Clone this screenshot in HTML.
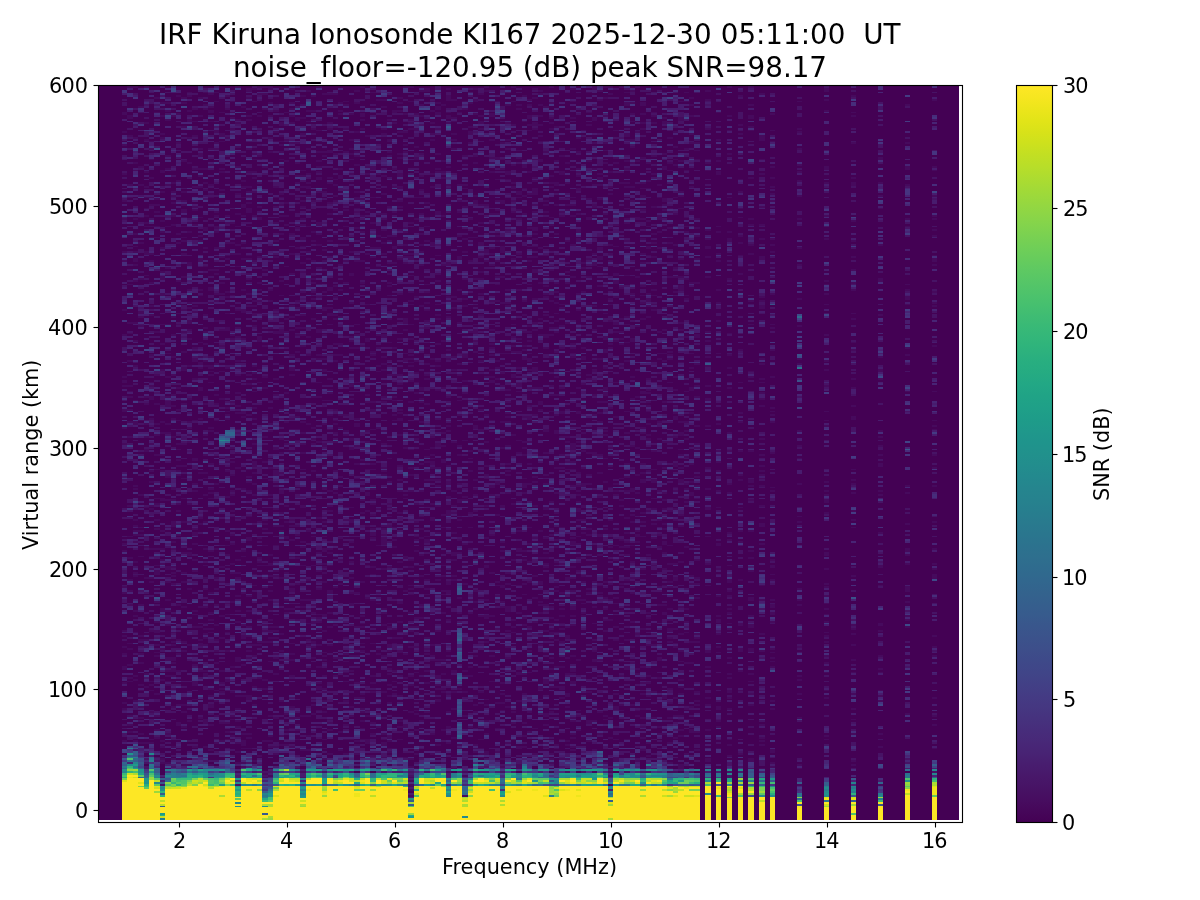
<!DOCTYPE html>
<html lang="en"><head><meta charset="utf-8"><title>IRF Kiruna Ionosonde KI167</title>
<style>html,body{margin:0;padding:0;background:#fff}body{width:1200px;height:900px;overflow:hidden}svg{display:block}text{font-family:"DejaVu Sans","Liberation Sans",sans-serif;fill:#000;white-space:pre}.t{font-size:20.83px}.ti{font-size:27.78px}</style></head><body>
<svg width="1200" height="900" viewBox="0 0 1200 900">
<rect width="1200" height="900" fill="#fff"/>
<defs><linearGradient id="vg" x1="0" y1="1" x2="0" y2="0"><stop offset="0.0000" stop-color="#440154"/><stop offset="0.0156" stop-color="#46075a"/><stop offset="0.0312" stop-color="#470d60"/><stop offset="0.0469" stop-color="#471365"/><stop offset="0.0625" stop-color="#48186a"/><stop offset="0.0781" stop-color="#481d6f"/><stop offset="0.0938" stop-color="#482374"/><stop offset="0.1094" stop-color="#482878"/><stop offset="0.1250" stop-color="#472d7b"/><stop offset="0.1406" stop-color="#46327e"/><stop offset="0.1562" stop-color="#453781"/><stop offset="0.1719" stop-color="#443b84"/><stop offset="0.1875" stop-color="#424086"/><stop offset="0.2031" stop-color="#404588"/><stop offset="0.2188" stop-color="#3e4989"/><stop offset="0.2344" stop-color="#3d4e8a"/><stop offset="0.2500" stop-color="#3b528b"/><stop offset="0.2656" stop-color="#39568c"/><stop offset="0.2812" stop-color="#375b8d"/><stop offset="0.2969" stop-color="#355f8d"/><stop offset="0.3125" stop-color="#33638d"/><stop offset="0.3281" stop-color="#31678e"/><stop offset="0.3438" stop-color="#2f6b8e"/><stop offset="0.3594" stop-color="#2e6f8e"/><stop offset="0.3750" stop-color="#2c728e"/><stop offset="0.3906" stop-color="#2a768e"/><stop offset="0.4062" stop-color="#297a8e"/><stop offset="0.4219" stop-color="#277e8e"/><stop offset="0.4375" stop-color="#26828e"/><stop offset="0.4531" stop-color="#25858e"/><stop offset="0.4688" stop-color="#23898e"/><stop offset="0.4844" stop-color="#228d8d"/><stop offset="0.5000" stop-color="#21918c"/><stop offset="0.5156" stop-color="#1f948c"/><stop offset="0.5312" stop-color="#1f988b"/><stop offset="0.5469" stop-color="#1e9c89"/><stop offset="0.5625" stop-color="#1fa088"/><stop offset="0.5781" stop-color="#20a386"/><stop offset="0.5938" stop-color="#22a785"/><stop offset="0.6094" stop-color="#25ab82"/><stop offset="0.6250" stop-color="#28ae80"/><stop offset="0.6406" stop-color="#2db27d"/><stop offset="0.6562" stop-color="#32b67a"/><stop offset="0.6719" stop-color="#38b977"/><stop offset="0.6875" stop-color="#3fbc73"/><stop offset="0.7031" stop-color="#46c06f"/><stop offset="0.7188" stop-color="#4ec36b"/><stop offset="0.7344" stop-color="#56c667"/><stop offset="0.7500" stop-color="#5ec962"/><stop offset="0.7656" stop-color="#67cc5c"/><stop offset="0.7812" stop-color="#70cf57"/><stop offset="0.7969" stop-color="#7ad151"/><stop offset="0.8125" stop-color="#84d44b"/><stop offset="0.8281" stop-color="#8ed645"/><stop offset="0.8438" stop-color="#98d83e"/><stop offset="0.8594" stop-color="#a2da37"/><stop offset="0.8750" stop-color="#addc30"/><stop offset="0.8906" stop-color="#b8de29"/><stop offset="0.9062" stop-color="#c2df23"/><stop offset="0.9219" stop-color="#cde11d"/><stop offset="0.9375" stop-color="#d8e219"/><stop offset="0.9531" stop-color="#e2e418"/><stop offset="0.9688" stop-color="#ece51b"/><stop offset="0.9844" stop-color="#f6e620"/><stop offset="1.0000" stop-color="#fde725"/></linearGradient>
<clipPath id="cl"><rect x="99" y="86" width="860" height="734"/></clipPath></defs>
<g clip-path="url(#cl)" shape-rendering="crispEdges">
<rect x="99" y="86" width="860" height="734" fill="#440154"/>
<g transform="translate(94.9528 819.2018) scale(5.40000 -1.81227)" fill="none" stroke-width="1">
<path stroke="#460a5d" d="M58 13h1m9 0h1M58 16h1M58 18h1M58 19h1m71 0h1m14 0h1M58 21h1M31 23h1m26 0h1M32 24h1m35 0h1M31 25h1M26 26h1m11 0h1m26 0h1m2 0h1m23 0h1m2 0h1m10 0h2M13 28h1m23 0h1m5 0h1m15 0h1m6 0h1m4 0h1m6 0h1m27 0h1m1 0h1m4 0h1m1 0h1m7 0h1m6 0h1M27 29h1m30 0h1m16 0h1m2 0h1m29 0h1m16 0h1M16 30h2m3 0h1m56 0h1m29 0h1m21 0h1m9 0h1M12 31h2m12 0h2m14 0h1m21 0h1m19 0h1m6 0h1m2 0h1m11 0h1m18 0h1M29 32h1m47 0h1m18 0h1m3 0h1m12 0h1m7 0h1m18 0h1M12 33h1m1 0h1m27 0h1m15 0h1m16 0h1m8 0h1m1 0h2m8 0h1m16 0h1m7 0h1M16 34h1m32 0h1m3 0h1m3 0h1m2 0h1m10 0h1m11 0h1m12 0h1m2 0h1M19 35h1m10 0h1m19 0h2m2 0h1m47 0h1m14 0h1M33 36h1m9 0h1m2 0h1m1 0h1m10 0h1m2 0h1m8 0h2m8 0h1m2 0h1m24 0h1m9 0h1M26 37h1m20 0h1m6 0h1m15 0h1m1 0h1m1 0h1m50 0h1M21 38h1m16 0h2m5 0h1m42 0h1m3 0h1m8 0h1m9 0h1m13 0h1M9 39h1m17 0h2m8 0h1m4 0h1m11 0h2m11 0h1m2 0h2m6 0h1m6 0h1m29 0h1m39 0h1M12 40h1m1 0h1m3 0h1m1 0h1m11 0h2m2 0h1m41 0h2m3 0h1m4 0h1m56 0h1M27 41h1m6 0h2m12 0h1m4 0h1m9 0h1m3 0h1m2 0h1m14 0h1m1 0h1m29 0h1m5 0h1M8 42h3m11 0h1m3 0h2m22 0h1m2 0h1m11 0h1m10 0h1m6 0h1m18 0h1m3 0h1M5 43h1m1 0h1m4 0h1m10 0h1m1 0h1m1 0h1m3 0h2m15 0h1m1 0h1m3 0h1m32 0h1m3 0h1m31 0h1M10 44h1m13 0h1m12 0h1m4 0h1m3 0h2m1 0h2m2 0h1m2 0h1m10 0h1m3 0h1m14 0h1m9 0h1m1 0h1m18 0h1m17 0h1M11 45h1m16 0h1m25 0h1m11 0h1m21 0h1m6 0h1m5 0h1m5 0h1m15 0h1M25 46h1m6 0h1m1 0h1m4 0h1m14 0h1m24 0h1m11 0h1m16 0h1m26 0h1M8 47h1m4 0h1m13 0h2m22 0h1m1 0h1m8 0h1m9 0h1m15 0h1m4 0h1m10 0h2m34 0h1m4 0h1M6 48h1m17 0h1m20 0h1m15 0h1m18 0h1m29 0h2M11 49h1m23 0h1m1 0h1m5 0h1m15 0h1m4 0h1m24 0h1m18 0h1m1 0h1m2 0h1M36 50h1m12 0h1m15 0h1m4 0h1m3 0h2m5 0h1m21 0h1M16 51h1m9 0h1m25 0h1m3 0h2m7 0h1m3 0h1m1 0h1m29 0h1m2 0h1m10 0h1M6 52h1m8 0h1m5 0h1m24 0h1m10 0h1m25 0h1m39 0h1m31 0h1M15 53h1m4 0h1m2 0h2m18 0h1m7 0h1m25 0h1m1 0h1m11 0h1M11 54h1m5 0h1m2 0h1m5 0h1m22 0h1m6 0h1m3 0h1m11 0h1m15 0h1m2 0h2m22 0h1M20 55h1m4 0h1m8 0h1m8 0h1m13 0h1m36 0h1m13 0h3m29 0h1M8 56h1m10 0h1m13 0h1m2 0h2m50 0h1m6 0h1m5 0h1m1 0h1m2 0h1m23 0h1M6 57h1m4 0h1m10 0h1m2 0h1m6 0h1m5 0h2m7 0h1m2 0h1m17 0h1m14 0h1m5 0h1m4 0h1m5 0h1m6 0h2m46 0h1M35 58h1m4 0h1m18 0h1m23 0h1m66 0h1M10 59h1m5 0h1m25 0h1m6 0h1m8 0h1m2 0h1m3 0h1m4 0h1m6 0h1m2 0h1m3 0h1m8 0h1M20 60h1m20 0h1m8 0h1m2 0h1m5 0h1m15 0h1m6 0h1m4 0h1m1 0h1m7 0h1m2 0h1m5 0h1M5 61h1m20 0h1m22 0h1m16 0h1m29 0h1m4 0h1m7 0h1m5 0h1m1 0h1m7 0h1m14 0h1M8 62h1m5 0h1m6 0h1m14 0h1m5 0h1m4 0h1m7 0h1m20 0h1m10 0h1m8 0h1m13 0h1m4 0h1M15 63h2m4 0h1m7 0h1m10 0h1m29 0h1m1 0h1m4 0h1m19 0h1m1 0h1m11 0h1m1 0h1m7 0h1M5 64h1m48 0h1m19 0h2m30 0h1M7 65h1m14 0h1m11 0h1m7 0h1m3 0h1m16 0h1m14 0h1m13 0h1m18 0h1m13 0h1m19 0h1M18 66h1m9 0h1m11 0h1m22 0h1m5 0h1m2 0h1m9 0h1m16 0h1M28 67h1m19 0h2m10 0h1m25 0h1m18 0h1m1 0h1m5 0h1m3 0h1m17 0h1m19 0h1M21 68h1m4 0h3m17 0h1m7 0h1m1 0h1m30 0h1m14 0h1m2 0h1m39 0h1M11 69h1m2 0h1m34 0h1m5 0h1m6 0h1m2 0h1m9 0h1m3 0h1m7 0h1m8 0h1m4 0h1m6 0h1m12 0h1m8 0h1m9 0h1M23 70h1m1 0h1m16 0h1m8 0h1m1 0h1m10 0h1m1 0h1m1 0h1m2 0h1m19 0h1m11 0h1m7 0h1m5 0h1M8 71h1m1 0h1m11 0h1m94 0h1m1 0h1m15 0h1m9 0h1M14 72h1m6 0h1m1 0h1m7 0h1m9 0h2m20 0h2m2 0h1m14 0h1m3 0h1m19 0h1M9 73h1m19 0h1m11 0h1m15 0h1m24 0h1m1 0h3m21 0h1M8 74h1m1 0h1m2 0h1m4 0h1m35 0h1m3 0h1m4 0h1M5 75h1m12 0h1m4 0h1m17 0h1m6 0h1m2 0h1m9 0h1m13 0h1m7 0h1m4 0h1m12 0h2M6 76h1m3 0h1m2 0h2m3 0h1m5 0h2m20 0h1m8 0h1m3 0h1m13 0h1m9 0h2m3 0h1m32 0h1M7 77h1m4 0h1m11 0h1m6 0h1m51 0h1m1 0h1m22 0h1m21 0h1M6 78h1m23 0h1m26 0h1m5 0h1m26 0h1m10 0h1m2 0h1m12 0h1M7 79h1m5 0h2m5 0h1m15 0h1m5 0h1m1 0h1m6 0h1m4 0h1m1 0h1m4 0h1m4 0h2m23 0h1m3 0h1m4 0h1m27 0h1M9 80h1m10 0h1m12 0h1m20 0h1m9 0h1m13 0h2m4 0h1m2 0h2m11 0h1m16 0h1m3 0h1M30 81h1m15 0h1m12 0h1m6 0h1m11 0h1m1 0h1m54 0h1m4 0h1m4 0h1M13 82h3m3 0h2m2 0h1m23 0h1m7 0h1m5 0h1m4 0h1m1 0h1m19 0h1m30 0h1M5 83h1m8 0h1m39 0h1m29 0h1m3 0h1m9 0h1m1 0h1m44 0h1M5 84h1m19 0h1m15 0h1m27 0h1m15 0h2m11 0h1m2 0h1m11 0h1m11 0h1M6 85h1m11 0h1m8 0h1m30 0h1M8 86h1m5 0h1m7 0h1m42 0h1m8 0h1m24 0h1m9 0h2m24 0h1M18 87h1m7 0h1m5 0h2m12 0h1m12 0h1m32 0h1m4 0h1m10 0h1m16 0h1M13 88h2m11 0h1m9 0h1m5 0h1m19 0h3m24 0h1m2 0h2m2 0h1m7 0h1m35 0h1M13 89h2m11 0h1m1 0h1m4 0h1m4 0h1m1 0h1m3 0h2m30 0h1m7 0h1m2 0h1m16 0h1m12 0h1m7 0h1M11 90h1m17 0h1m12 0h1m4 0h2m4 0h1m8 0h1m2 0h1m4 0h1m2 0h1m14 0h1m46 0h1m9 0h1m9 0h1M5 91h1m2 0h1m6 0h1m17 0h1m2 0h1m9 0h1m5 0h1m4 0h1m3 0h1M11 92h1m30 0h1m5 0h1m7 0h1m26 0h1m29 0h1m1 0h1m9 0h1M16 93h1m5 0h1m1 0h1m3 0h1m5 0h1m14 0h1m4 0h1m1 0h1m8 0h1m14 0h1m11 0h1m15 0h1m4 0h1m3 0h1m1 0h1m1 0h1m1 0h1M6 94h1m5 0h1m39 0h1m8 0h1m8 0h1m1 0h1m46 0h1m1 0h1m3 0h1M5 95h1m3 0h1m30 0h1m13 0h1m3 0h2m16 0h1m22 0h1m7 0h1m7 0h1m14 0h1m24 0h1M9 96h1m1 0h1m2 0h1m2 0h1m1 0h2m7 0h3m8 0h1m1 0h1m1 0h1m10 0h1m7 0h1m19 0h1m19 0h2m36 0h1M6 97h1m12 0h1m16 0h1m3 0h1m8 0h1m1 0h1m3 0h1m15 0h1m35 0h1M14 98h1m1 0h1m13 0h3m7 0h1m31 0h1m13 0h1m19 0h1m3 0h2m23 0h1M8 99h2m5 0h1m3 0h1m2 0h1m16 0h1m45 0h1m6 0h1m3 0h1m1 0h1m4 0h1M20 100h1m2 0h1m3 0h1m4 0h2m12 0h1m8 0h2m4 0h1m22 0h1m2 0h1m18 0h1m4 0h1M5 101h1m2 0h1m18 0h2m43 0h1m7 0h1m6 0h1m47 0h1m19 0h1M20 102h1m13 0h1m47 0h1m1 0h1m15 0h1m7 0h1m2 0h1m3 0h1m7 0h1m16 0h1M7 103h1m3 0h1m2 0h1m6 0h1m2 0h1m2 0h1m49 0h1m6 0h3m17 0h1m4 0h1m25 0h1M5 104h1m4 0h2m19 0h3m8 0h1m15 0h1m4 0h1m12 0h1m6 0h1m10 0h1m11 0h1m38 0h1M20 105h2m19 0h1m13 0h1m18 0h1m9 0h1m1 0h1m14 0h1m4 0h2m9 0h1m22 0h1M18 106h2m8 0h1m3 0h2m9 0h1m4 0h2m4 0h1m3 0h2m17 0h1m2 0h1m6 0h1m8 0h1m24 0h1m28 0h1M13 107h1m8 0h1m4 0h1m3 0h1m12 0h1m8 0h1m25 0h1m4 0h1m3 0h1m30 0h1m1 0h1m18 0h1m4 0h1M20 108h1m18 0h2m8 0h1m4 0h1m31 0h1m5 0h1m24 0h1m1 0h1m25 0h1M11 109h1m14 0h1m13 0h2m14 0h1m24 0h1m17 0h1m9 0h1m5 0h1m9 0h1m9 0h1M21 110h1m8 0h1m1 0h1m4 0h1m27 0h1m11 0h1m4 0h1m2 0h1m8 0h2m10 0h1m8 0h1m34 0h1M41 111h1m17 0h2m11 0h1m6 0h1m4 0h1m17 0h1M7 112h1m15 0h1m18 0h1m6 0h1m21 0h3m12 0h1m1 0h1m1 0h1m24 0h1m5 0h1m28 0h1M18 113h1m5 0h1m4 0h1m11 0h2m62 0h1m19 0h1m9 0h1M21 114h1m13 0h1m4 0h1m2 0h1m9 0h1m4 0h1m3 0h1m1 0h1m2 0h1m1 0h1m8 0h1m3 0h1m7 0h1m11 0h1m2 0h1m11 0h1m7 0h1M7 115h1m4 0h2m4 0h1m7 0h1m1 0h1m1 0h1m45 0h1m6 0h1m13 0h1M12 116h1m22 0h2m16 0h1m16 0h1m1 0h1m3 0h1m9 0h1m1 0h1m5 0h1m11 0h1m2 0h1m7 0h1m17 0h1M16 117h1m2 0h2m17 0h1m36 0h2m7 0h1m3 0h1m3 0h1m15 0h1m16 0h1M6 118h1m1 0h1m6 0h1m6 0h1m17 0h1m6 0h1m12 0h1m21 0h2m20 0h2m19 0h1m4 0h1M20 119h1m3 0h1m22 0h1m4 0h1m3 0h1m4 0h1m28 0h1m5 0h1m4 0h1m33 0h1M11 120h1m13 0h1m30 0h1m13 0h1m4 0h1m6 0h1m67 0h1M13 121h1m18 0h1m2 0h1m2 0h3m10 0h1m17 0h1m2 0h1m16 0h2m4 0h1m25 0h1m1 0h1m1 0h1m4 0h1M50 122h1m16 0h1m13 0h1m12 0h1m1 0h1m14 0h1m9 0h1M26 123h1m1 0h1m7 0h1m37 0h1m18 0h1m21 0h1m1 0h1m17 0h1M50 124h1m3 0h1m3 0h1m2 0h1m1 0h2m7 0h1m6 0h1M5 125h1m15 0h1m5 0h1m15 0h1m3 0h2m3 0h1m12 0h1m20 0h1m4 0h1m1 0h1m5 0h1M6 126h1m25 0h1m3 0h1m6 0h1m13 0h1m6 0h2m4 0h1m13 0h2m2 0h1m28 0h1m32 0h1M17 127h1m2 0h1m1 0h1m13 0h1m4 0h1m16 0h1m2 0h1m29 0h1m38 0h1m19 0h1M5 128h1m19 0h1m18 0h1m30 0h1m9 0h1m11 0h1m1 0h1m4 0h1m1 0h1m28 0h1m14 0h1M27 129h1m1 0h1m6 0h1m21 0h1m15 0h2m2 0h1m2 0h1m11 0h1m11 0h1m7 0h1m9 0h1m21 0h1M14 130h1m22 0h1m7 0h1m19 0h1m2 0h1m7 0h1m2 0h1m2 0h1m12 0h1m1 0h1m12 0h2m23 0h1M10 131h1m2 0h1m2 0h1m6 0h1m18 0h1m6 0h1m15 0h1m8 0h1m5 0h1m1 0h1m7 0h1m1 0h1m1 0h1m11 0h1m10 0h1M6 132h1m32 0h1m4 0h1m14 0h1m1 0h1m1 0h1m2 0h1m20 0h1m10 0h1m8 0h1m9 0h1m1 0h1m5 0h1M9 133h2m9 0h1m1 0h1m3 0h1m7 0h1m3 0h1m8 0h1m39 0h2m6 0h1m3 0h2m6 0h1m3 0h1m43 0h1M7 134h1m6 0h1m17 0h2m26 0h1m3 0h1m1 0h1m14 0h1m8 0h1m19 0h1m29 0h1m14 0h1M11 135h1m17 0h1m1 0h1m19 0h1m27 0h1m8 0h1m36 0h1m29 0h1M7 136h1m3 0h1m2 0h1m1 0h1m8 0h2m8 0h1m6 0h1m30 0h1m2 0h1m22 0h1M11 137h1m6 0h1m14 0h1m7 0h1m47 0h1m31 0h1M10 138h1m2 0h1m20 0h1m18 0h1m9 0h1m37 0h1m3 0h1m9 0h1m19 0h1m19 0h1M13 139h2m8 0h1m18 0h1m8 0h1m2 0h1m3 0h1m13 0h1m10 0h1m4 0h1m36 0h1m19 0h1M9 140h1m1 0h1m8 0h1m9 0h4m4 0h1m1 0h1m2 0h1m6 0h1m2 0h1m5 0h1m4 0h1m3 0h1m3 0h1m9 0h1m8 0h1m11 0h1m5 0h1m7 0h1m7 0h1m19 0h1M12 141h1m12 0h1m6 0h1m9 0h1m18 0h1m21 0h1m2 0h1m19 0h2m5 0h1m36 0h1m4 0h1M7 142h1m22 0h1m16 0h1m8 0h1m23 0h1m4 0h1m13 0h1m8 0h1M12 143h1m5 0h1m7 0h1m18 0h1m12 0h1m4 0h1m2 0h1m10 0h1m1 0h1m16 0h1m6 0h1m7 0h1m13 0h1M6 144h1m7 0h1m15 0h1m6 0h1m19 0h1m24 0h2m5 0h1m7 0h1m23 0h1M8 145h1m1 0h1m1 0h1m2 0h1m11 0h1m1 0h1m6 0h1m10 0h1m9 0h1m17 0h1M17 146h1m6 0h1m7 0h1m27 0h1m5 0h1m26 0h1m4 0h1m3 0h1m32 0h1m14 0h1M16 147h2m23 0h1m1 0h1m22 0h2m15 0h1m21 0h1m29 0h1M5 148h1m15 0h1m5 0h1m14 0h1m16 0h1m15 0h1m2 0h2m7 0h1m33 0h1m28 0h1M10 149h3m1 0h1m5 0h1m1 0h1m19 0h2m25 0h1m8 0h1m71 0h1m4 0h1M9 150h1m28 0h1m1 0h1m14 0h1m29 0h1m9 0h1m1 0h2m5 0h1m4 0h1M16 151h1m7 0h1m6 0h1m1 0h1m18 0h1m38 0h1m4 0h1m2 0h1m6 0h1m8 0h1M5 152h1m12 0h1m6 0h1m27 0h1m14 0h1m11 0h1m7 0h2m15 0h1m9 0h1m7 0h1M7 153h1m6 0h1m23 0h1m8 0h1m5 0h1m7 0h1m13 0h1m12 0h1m9 0h1m1 0h1m4 0h1m13 0h1M24 154h1m3 0h1m5 0h1m1 0h1m16 0h1m1 0h1m3 0h1m1 0h1m5 0h1m17 0h1m11 0h1m19 0h1M28 155h1m1 0h1m4 0h1m9 0h1m5 0h1m1 0h1m6 0h1m11 0h1m8 0h1m1 0h1m4 0h1m14 0h1M6 156h1m28 0h1m4 0h1m1 0h1m16 0h1m1 0h1m27 0h1m3 0h1m6 0h2m11 0h1M7 157h2m6 0h1m2 0h1m6 0h1m11 0h1m13 0h1m1 0h1m19 0h1m10 0h1m6 0h1m1 0h1m6 0h1m3 0h1M18 158h1m32 0h1m11 0h1m2 0h1m18 0h1m4 0h1m7 0h1m18 0h1m27 0h1M7 159h2m3 0h1m11 0h1m9 0h1m4 0h1m38 0h1m3 0h1m17 0h1m18 0h1m1 0h1M11 160h1m6 0h1m12 0h1m19 0h1m1 0h1m6 0h1m4 0h1m18 0h1m6 0h1m2 0h1m10 0h1m1 0h1M8 161h1m4 0h1m16 0h1m21 0h1m1 0h2m8 0h1m4 0h1m7 0h1m2 0h1m5 0h1m2 0h1m50 0h1M7 162h1m6 0h1m18 0h2m1 0h2m12 0h1m2 0h2m53 0h1m14 0h1M14 163h1m4 0h1m11 0h1m71 0h1m1 0h1m17 0h1m26 0h1M14 164h1m1 0h1m3 0h1m9 0h1m4 0h1m6 0h1m4 0h1m11 0h1m39 0h1m1 0h1m28 0h1m24 0h1M7 165h1m3 0h1m19 0h1m4 0h1m1 0h1m7 0h2m14 0h1m4 0h1m21 0h2m4 0h1m8 0h1m2 0h1m32 0h1M19 166h1m6 0h1m7 0h1m6 0h1m20 0h1m35 0h1M25 167h1m2 0h1m13 0h1m11 0h1m5 0h1m10 0h1m47 0h1m10 0h1M51 168h1m12 0h2m8 0h1m24 0h1m4 0h1m3 0h1M34 169h1m14 0h1m6 0h1m8 0h2m2 0h1m15 0h1m15 0h1m33 0h1M15 170h1m9 0h1m17 0h1m6 0h1m10 0h1m3 0h1m4 0h1m10 0h1m7 0h1m12 0h1m3 0h1m33 0h1M10 171h1m22 0h1m18 0h1m2 0h1m27 0h1m5 0h1m13 0h1m1 0h1m1 0h1m5 0h1M9 172h1m28 0h1m7 0h2m6 0h1m20 0h1m7 0h1m6 0h1m15 0h1m6 0h1m1 0h1m3 0h1M6 173h1m3 0h1m24 0h1m2 0h1m4 0h1m19 0h1m2 0h1m5 0h1m2 0h1m5 0h1m8 0h1m6 0h1m25 0h1M11 174h1m3 0h1m1 0h1m33 0h1m2 0h1m4 0h1m2 0h1m14 0h1M10 175h1m56 0h1m16 0h1m4 0h1m19 0h1m25 0h1M12 176h3m2 0h1m31 0h1m1 0h1m15 0h2m28 0h1m7 0h1m15 0h1m13 0h1M11 177h2m3 0h1m4 0h1m9 0h1m11 0h1m13 0h1m7 0h1m22 0h1m14 0h2m6 0h1M24 178h1m20 0h1m19 0h1m2 0h1m5 0h1m18 0h1M8 179h1m11 0h1m4 0h1m3 0h1m2 0h1m17 0h1m6 0h1m12 0h1m2 0h1m15 0h1m6 0h1m13 0h1m24 0h1m9 0h1M21 180h1m12 0h1m9 0h1m5 0h1m25 0h1m2 0h1m5 0h1m14 0h1m1 0h1m2 0h1m4 0h1m6 0h1m22 0h1m9 0h1M18 181h1m6 0h1m2 0h1m5 0h1m8 0h1m12 0h1m1 0h1m1 0h1m5 0h1m20 0h1m1 0h1m6 0h1m1 0h2m4 0h1m2 0h1m7 0h1m9 0h1m9 0h1m9 0h1M7 182h1m6 0h1m6 0h1m5 0h1m14 0h1m8 0h1m18 0h1m13 0h1m14 0h1m9 0h1m3 0h1M14 183h1m27 0h1m30 0h1m4 0h2m15 0h1m11 0h1m17 0h1M7 184h1m37 0h1m17 0h1m9 0h1m5 0h1m8 0h3m20 0h1m9 0h1m1 0h1m26 0h1m4 0h1M18 185h1m3 0h1m6 0h1m35 0h1m1 0h1m6 0h1m4 0h2m2 0h1m6 0h2m4 0h1m12 0h1m7 0h1m12 0h1m9 0h1M10 186h1m17 0h1m19 0h1m5 0h1m10 0h1m8 0h1m6 0h1m12 0h1m6 0h1m1 0h1m4 0h1m1 0h1m10 0h1m13 0h1M32 187h1m23 0h1m4 0h3m6 0h1m30 0h1m1 0h1m4 0h1m10 0h1m1 0h1m18 0h1M16 188h1m3 0h1m10 0h1m3 0h1m2 0h1m9 0h1m23 0h2m5 0h1m17 0h1m4 0h1m20 0h1M13 189h1m14 0h1m16 0h1m4 0h1m30 0h1m16 0h1m12 0h1M15 190h1m9 0h1m7 0h1m4 0h1m14 0h1m4 0h1m13 0h1m3 0h1m6 0h1m7 0h1m8 0h1m18 0h1m3 0h1M19 191h2m8 0h1m3 0h2m30 0h1m23 0h1m3 0h1m7 0h1M10 192h1m1 0h1m2 0h1m8 0h1m8 0h1m6 0h1m3 0h1m8 0h1m15 0h1m6 0h1m25 0h1m12 0h1m7 0h1M11 193h1m6 0h1m9 0h1m9 0h1m3 0h1m4 0h1m2 0h2m35 0h2m10 0h1m3 0h1m36 0h1M26 194h1m5 0h1m2 0h1m17 0h1m4 0h1m3 0h2m21 0h2m3 0h1m14 0h1m2 0h1m4 0h1m41 0h1M15 195h2m12 0h1m12 0h1m13 0h1m8 0h1m6 0h1m2 0h1m19 0h1m11 0h1m15 0h1m21 0h1M21 196h1m7 0h1m18 0h1m2 0h1m8 0h1m1 0h1m13 0h1m3 0h1m17 0h1m2 0h1m5 0h1m2 0h1m34 0h1M24 197h2m3 0h1m1 0h1m29 0h2m1 0h1m22 0h2m26 0h1M15 198h1m2 0h1m30 0h1m9 0h1m4 0h1M18 199h1m28 0h1m6 0h1m7 0h1m6 0h1m12 0h1m5 0h1m3 0h1m1 0h1m13 0h1m21 0h1M24 200h1m36 0h1m25 0h1m21 0h1M11 201h2m7 0h1m8 0h1m32 0h1m4 0h1m11 0h1m6 0h1m5 0h2m14 0h1m14 0h1m21 0h1m9 0h1M26 202h1m7 0h1m3 0h1m39 0h1m2 0h1m1 0h1m4 0h1m2 0h2m3 0h1m28 0h1M9 203h1m59 0h1m4 0h1m15 0h1m12 0h1m11 0h1m1 0h1m1 0h1m1 0h1M9 204h1m5 0h1m6 0h1m10 0h1m1 0h1m11 0h1m10 0h1m2 0h1m26 0h1m19 0h1M25 205h1m7 0h1m13 0h1m9 0h1m4 0h1m12 0h1m3 0h1m8 0h1m6 0h1m4 0h1m10 0h1M42 206h1m5 0h1m14 0h2m2 0h1m8 0h1m11 0h1m10 0h1m30 0h1m14 0h1M5 207h1m4 0h1m4 0h2m12 0h1m5 0h1m2 0h1m1 0h1m1 0h1m10 0h1m9 0h1m24 0h1m22 0h1M17 208h1m23 0h1m2 0h1m5 0h1m15 0h1m5 0h1m6 0h2m6 0h1m1 0h1m15 0h2M37 209h1m9 0h1m11 0h1m8 0h1m9 0h1m13 0h1m9 0h1M18 210h1m15 0h1m5 0h1m6 0h1m11 0h1m42 0h1m1 0h1m4 0h1m13 0h1M6 211h1m2 0h1m4 0h1m16 0h1m30 0h1m23 0h2m18 0h2m37 0h1M11 212h1m5 0h1m2 0h1m13 0h1m11 0h1m9 0h1m20 0h1m14 0h1m1 0h1m7 0h1m5 0h1M12 213h2m24 0h1m5 0h1m19 0h1m20 0h1m4 0h1m7 0h1m2 0h1m6 0h1m8 0h1M21 214h1m10 0h1m13 0h1m3 0h1m2 0h1m11 0h1m5 0h1m11 0h1m1 0h1m8 0h1m14 0h1m20 0h1m14 0h1M15 215h1m10 0h1m9 0h2m5 0h1m7 0h1m19 0h1m11 0h1m71 0h1M5 216h1m11 0h1m3 0h1m18 0h1m4 0h1m6 0h1m9 0h1m7 0h1m30 0h1M48 217h1m16 0h1m4 0h1m40 0h1m1 0h1m21 0h1m19 0h1M7 218h1m1 0h1m1 0h1m1 0h1m18 0h1m6 0h1m2 0h1m1 0h1m3 0h1m53 0h1m12 0h1M6 219h2m4 0h1m4 0h1m17 0h1m2 0h1m21 0h1m14 0h2m16 0h1m6 0h1m3 0h1m3 0h2m9 0h1m5 0h1M8 220h1m6 0h1m2 0h1m3 0h1m8 0h1m12 0h1m10 0h2m2 0h1m10 0h2m1 0h1m14 0h1m9 0h1m6 0h1m29 0h1m19 0h1M10 221h1m3 0h1m4 0h1m4 0h1m4 0h1m6 0h1m11 0h1m7 0h1m6 0h1m16 0h1m21 0h1m4 0h1m32 0h1M27 222h1m9 0h1m38 0h1m2 0h2m15 0h1m10 0h1m3 0h1m28 0h1M24 223h1m3 0h1m14 0h1m1 0h2m8 0h1m11 0h1m4 0h1m8 0h1m3 0h1m6 0h1m32 0h1M26 224h2m28 0h1m19 0h1m9 0h1m2 0h1m3 0h1m13 0h1m2 0h1m8 0h1M5 225h1m18 0h1m2 0h1m23 0h2m5 0h1m25 0h1m1 0h1m2 0h1m8 0h1m3 0h1m22 0h1m9 0h1M5 226h2m8 0h1m28 0h1m6 0h1m4 0h1m14 0h1m10 0h1M24 227h1m4 0h1m2 0h1m2 0h1m16 0h1m42 0h1m11 0h1m17 0h1M13 228h2m11 0h1m8 0h1m29 0h1m14 0h1m21 0h1m20 0h1m16 0h1M9 229h1m1 0h1m1 0h1m2 0h1m3 0h1m1 0h1m38 0h1m20 0h1M13 230h1m11 0h1m24 0h2m1 0h1m4 0h1m1 0h1m15 0h1m5 0h1m10 0h2m7 0h1m2 0h1M7 231h1m24 0h1m9 0h2m11 0h1m11 0h1m1 0h1m19 0h1m23 0h1M10 232h1m6 0h1m5 0h1m3 0h1m5 0h1m13 0h1m12 0h1m38 0h1m1 0h1m11 0h1m9 0h1M6 233h1m2 0h2m2 0h1m26 0h2m11 0h1m1 0h1m9 0h1m34 0h1m10 0h1M14 234h1m7 0h1m10 0h1m16 0h1m33 0h2m6 0h1m1 0h1M26 235h1m8 0h1m7 0h1m15 0h1m8 0h1m25 0h1m6 0h2m20 0h1M6 236h1m22 0h1m28 0h1m19 0h1m22 0h1m7 0h1m40 0h1m4 0h1M19 237h1m23 0h1m8 0h1m7 0h1m2 0h1m12 0h1m17 0h1m7 0h1m4 0h1m2 0h1M15 238h1m3 0h1m11 0h1m28 0h1m3 0h1m15 0h3m3 0h1m2 0h1m4 0h1m15 0h1m6 0h1m22 0h1M5 239h2m3 0h1m36 0h1m20 0h1m6 0h1m2 0h1m5 0h1m26 0h1m1 0h1m21 0h1M28 240h1m18 0h1m8 0h1m21 0h1m11 0h1M5 241h1m4 0h1m10 0h1m8 0h1m9 0h2m6 0h1m8 0h1m1 0h1m13 0h1m5 0h1m7 0h1m8 0h1m9 0h1m12 0h1m3 0h1M5 242h1m52 0h1m9 0h1m4 0h1m18 0h1M18 243h1m10 0h1m3 0h1m9 0h1m2 0h1m14 0h1m12 0h1m16 0h1m10 0h1m20 0h1m16 0h1m4 0h1M5 244h1m7 0h1m17 0h1m18 0h1m21 0h2m3 0h1m2 0h1m4 0h1m7 0h1m5 0h1m7 0h1m13 0h1m3 0h1M11 245h1m2 0h1m6 0h1m4 0h1m1 0h1m7 0h1m17 0h3m4 0h1m5 0h1m9 0h1m11 0h1m1 0h1M29 246h1m10 0h1m18 0h1m15 0h1m6 0h1M15 247h1m5 0h1m1 0h1m18 0h1m6 0h1m2 0h1m21 0h1m6 0h1m3 0h1m6 0h1m28 0h1m23 0h1M12 248h1m3 0h1m8 0h1m4 0h1m5 0h1m5 0h1m2 0h1m4 0h1m2 0h1m12 0h1m6 0h1m6 0h2m10 0h1m42 0h1m9 0h1M16 249h1m2 0h1m1 0h1m2 0h1m1 0h1m9 0h1m37 0h1m3 0h1m2 0h1m12 0h1m15 0h1m6 0h1M7 250h1m9 0h1m2 0h2m7 0h1m4 0h1m17 0h1m1 0h1m3 0h1m4 0h1m33 0h1m15 0h1M19 251h1m2 0h1m30 0h1m7 0h1m5 0h1m43 0h1m11 0h1m6 0h1M13 252h1m5 0h1m23 0h1m14 0h1m49 0h1M6 253h1m11 0h1m1 0h1m5 0h1m13 0h1m3 0h1m12 0h1m1 0h1m3 0h1m7 0h1m2 0h1m5 0h1m17 0h1m6 0h1m29 0h1M18 254h1m22 0h2m14 0h2m3 0h1m2 0h1m13 0h2m9 0h1m2 0h1m10 0h1m1 0h1m16 0h1m6 0h1M14 255h1m4 0h1m1 0h1m31 0h1m12 0h1m1 0h1m10 0h1m4 0h1m3 0h1m1 0h1m22 0h1m31 0h1M10 256h1m25 0h1m2 0h1m1 0h1m2 0h2m5 0h1m6 0h1m9 0h1m4 0h1m32 0h1m10 0h1m32 0h1M13 257h1m43 0h1m1 0h1m5 0h1m1 0h1m7 0h2m3 0h1m7 0h1m11 0h1m3 0h2m4 0h1m4 0h1M16 258h1m20 0h1m13 0h1m18 0h1m6 0h2m6 0h1m8 0h1m11 0h1M65 259h1m13 0h1m14 0h1m24 0h1m5 0h1m14 0h1M18 260h1m9 0h1m18 0h2m3 0h1m2 0h1m5 0h1m11 0h1m9 0h1m2 0h1m1 0h1m1 0h1m4 0h1m54 0h1M23 261h1m7 0h1m6 0h1m10 0h1m19 0h1m7 0h1m1 0h1m75 0h1M12 262h1m7 0h1m23 0h2m17 0h1m9 0h1m14 0h1m6 0h1m1 0h1M13 263h1m5 0h1m11 0h1m3 0h1m5 0h1m12 0h1m14 0h1m5 0h1m22 0h1m41 0h1M7 264h1m22 0h1m16 0h1m2 0h1m13 0h1m5 0h1m3 0h1m5 0h1m15 0h1m2 0h1m13 0h1M17 265h1m7 0h1m1 0h1m2 0h1m19 0h1m5 0h1m1 0h1m19 0h1m15 0h1m2 0h1m1 0h1M26 266h1m3 0h1m8 0h1m7 0h1m5 0h1m23 0h1m5 0h1m10 0h1m14 0h1m1 0h1M5 267h1m8 0h1m10 0h1m11 0h2m3 0h1m5 0h1m3 0h2m18 0h1m9 0h3m26 0h1m23 0h1M6 268h1m19 0h1m6 0h2m33 0h1m1 0h1m6 0h1m17 0h1m21 0h1M11 269h1m4 0h1m3 0h1m12 0h3m5 0h1m27 0h2m8 0h2m4 0h1m10 0h2m6 0h1m8 0h1M17 270h1m5 0h2m9 0h1m1 0h1m4 0h1m15 0h1m12 0h1m2 0h1m7 0h1m10 0h1m12 0h1m2 0h1M20 271h1m3 0h1m1 0h1m5 0h1m4 0h2m22 0h1m22 0h2m39 0h1M8 272h1m20 0h1m35 0h1m14 0h1m5 0h1m13 0h1m29 0h1M11 273h3m1 0h1m23 0h1m3 0h1m4 0h1m6 0h1m2 0h1m11 0h1m6 0h1m11 0h1m6 0h1m1 0h1m22 0h1m3 0h1M6 274h2m9 0h1m39 0h1m4 0h1m4 0h1m13 0h1m5 0h1m8 0h1m11 0h1M17 275h1m4 0h1m34 0h1m3 0h1m23 0h1m9 0h1m19 0h1M30 276h1m4 0h1m4 0h1m3 0h1m9 0h1m2 0h1m5 0h1m5 0h1m7 0h1m2 0h1m1 0h1m14 0h1m3 0h1m38 0h1M8 277h1m5 0h1m21 0h1m8 0h1m19 0h1m32 0h1m3 0h1m3 0h1M10 278h1m9 0h1m8 0h1m1 0h1m6 0h1m4 0h2m18 0h1m7 0h1m7 0h1m3 0h1m61 0h1M8 279h1m6 0h1m8 0h1m4 0h2m2 0h1m9 0h1m6 0h1m34 0h1m8 0h1m4 0h1m1 0h1m38 0h1M8 280h1m9 0h1m8 0h1m26 0h1M5 281h1m10 0h1m9 0h2m5 0h1m8 0h1m18 0h1m5 0h1m21 0h1m13 0h1M17 282h1m19 0h1m4 0h2m22 0h1m10 0h1m8 0h1m36 0h1M10 283h1m7 0h1m9 0h2m6 0h1m23 0h1m7 0h1m7 0h1m15 0h1m9 0h1m20 0h1m31 0h1M33 284h1m16 0h1m7 0h1m4 0h1m8 0h1m13 0h2m7 0h1m7 0h1m31 0h1m14 0h1M17 285h1m3 0h1m25 0h1m13 0h1m13 0h2m8 0h1m15 0h1m13 0h1m39 0h1M22 286h1m6 0h2m1 0h1m4 0h1m20 0h1m6 0h3m5 0h2m4 0h1m4 0h1m17 0h1m18 0h1m1 0h1M16 287h1m23 0h1m8 0h1m18 0h1m12 0h1m13 0h1m6 0h1m6 0h1m20 0h1m19 0h1M14 288h1m9 0h1m16 0h1m2 0h1m14 0h1m5 0h2m9 0h1m6 0h1m12 0h1m2 0h1m23 0h1m26 0h1M10 289h1m1 0h1m6 0h1m5 0h1m8 0h1m2 0h1m16 0h1m46 0h1m1 0h1m5 0h1M12 290h1m9 0h2m4 0h1m27 0h1m14 0h1m11 0h1m5 0h1m9 0h1m2 0h1m22 0h1m9 0h1M24 291h1m13 0h1m1 0h1m1 0h1m15 0h1m2 0h1m23 0h1m4 0h1m16 0h1m47 0h1M17 292h1m1 0h1m1 0h1m5 0h1m2 0h1m1 0h1m10 0h1m1 0h1m21 0h1m8 0h1m1 0h1m24 0h1m4 0h1m6 0h1m24 0h1m9 0h1M21 293h1m21 0h1m53 0h1m10 0h1M39 294h1m4 0h1m9 0h1m28 0h1m9 0h1m7 0h1m6 0h1M6 295h1m4 0h1m49 0h1m12 0h1m5 0h1m13 0h1m35 0h1m4 0h1m14 0h1M10 296h1m12 0h1m6 0h1m9 0h1m5 0h1m2 0h1m4 0h1m14 0h1m12 0h1m2 0h1m1 0h1m8 0h1m13 0h2m28 0h1M7 297h1m7 0h1m18 0h1m28 0h1m32 0h1m38 0h1m9 0h1M8 298h1m3 0h1m15 0h1m11 0h1m27 0h1m1 0h2m5 0h1m7 0h1m23 0h1m7 0h1m27 0h1M12 299h1m3 0h1m57 0h2m12 0h1m2 0h1m8 0h1m5 0h3m4 0h1M9 300h1m30 0h1m6 0h1m10 0h1m37 0h1m1 0h1M22 301h1m5 0h1m7 0h1m10 0h1m6 0h1m8 0h1m19 0h1m12 0h1m22 0h1M12 302h1m25 0h1m32 0h1m9 0h1m5 0h1M21 303h2m2 0h1m5 0h1m49 0h1m2 0h1m55 0h1M13 304h1m27 0h1m48 0h1m16 0h1M20 305h1m5 0h1m8 0h1m16 0h1m1 0h1m19 0h1m9 0h1m8 0h1m11 0h1m2 0h1m10 0h1M7 306h1m9 0h1m27 0h1m14 0h1m3 0h2m7 0h1m18 0h1m37 0h1m24 0h1M17 307h1m20 0h1m15 0h2m1 0h1m7 0h1m24 0h1m1 0h1m8 0h1m9 0h1M5 308h1m1 0h1m2 0h1m8 0h1m9 0h1m10 0h1m1 0h1m3 0h1m1 0h2m19 0h1m2 0h1m1 0h1m5 0h1m5 0h1m8 0h1m19 0h1m39 0h1M7 309h1m11 0h1m4 0h1m2 0h2m10 0h1m16 0h1m1 0h1m8 0h1m9 0h1m6 0h1m6 0h1m1 0h1m14 0h1m2 0h1m11 0h1m31 0h1M23 310h1m6 0h1m2 0h1m9 0h1m4 0h1m2 0h1m5 0h2m8 0h1m3 0h1m8 0h2m11 0h1m9 0h1m9 0h1m9 0h1m16 0h1M24 311h1m3 0h1m9 0h1m24 0h1m18 0h2m3 0h1m14 0h1m3 0h1m2 0h2m8 0h1m35 0h1M9 312h2m5 0h1m8 0h2m9 0h1m13 0h1m2 0h1m3 0h2m14 0h1m4 0h1m13 0h1m2 0h1m5 0h1m13 0h1m5 0h1M5 313h1m1 0h1m1 0h1m29 0h1m7 0h1m12 0h1m7 0h1m2 0h2m2 0h1m49 0h1M42 314h1m29 0h1m2 0h1m17 0h1M12 315h1m1 0h1m5 0h1m1 0h2m13 0h1m13 0h2m2 0h1m17 0h1m1 0h1m6 0h1m10 0h1m4 0h1m3 0h1m1 0h1m8 0h1m16 0h1M7 316h1m30 0h1m16 0h1m19 0h1m4 0h2m14 0h1m5 0h1m10 0h1m1 0h1M26 317h1m14 0h1m15 0h1m2 0h1m1 0h1m8 0h1m16 0h1m6 0h1m11 0h1m13 0h1m3 0h1m19 0h1M8 318h1m6 0h1m8 0h2m1 0h1m25 0h1m8 0h1m6 0h1m1 0h1m31 0h1m2 0h1m12 0h1M16 319h1m2 0h1m13 0h1m6 0h1m2 0h1m10 0h1m6 0h1m12 0h1m12 0h1m1 0h1m8 0h1m18 0h1m22 0h1M38 320h1m10 0h1m18 0h1m12 0h1m7 0h1m11 0h1m11 0h1m3 0h1m5 0h1m1 0h1m9 0h1M10 321h2m4 0h1m21 0h1m18 0h1m11 0h2m13 0h1m11 0h1M19 322h1m32 0h1m1 0h2m11 0h1m6 0h1m4 0h1m14 0h1m16 0h1m7 0h1m35 0h1M7 323h1m7 0h1m18 0h1m1 0h1m4 0h1m2 0h1m15 0h1m20 0h1m3 0h1m17 0h1M12 324h1m4 0h1m4 0h1m17 0h1m8 0h1m7 0h1m31 0h1m14 0h1m4 0h1m5 0h1m1 0h1M20 325h1m32 0h1m2 0h1m19 0h1m4 0h1m7 0h1m23 0h1m41 0h1M20 326h1m1 0h1m14 0h1m10 0h1m8 0h1m22 0h2m13 0h1m10 0h1m4 0h1M9 327h3m1 0h1m2 0h1m4 0h2m3 0h1m1 0h1m10 0h1m2 0h1m3 0h1m14 0h1m40 0h1m6 0h1m5 0h1m34 0h1M14 328h1m3 0h1m16 0h1m1 0h2m2 0h1m42 0h1m11 0h1m24 0h1m1 0h1M9 329h1m7 0h1m6 0h2m7 0h1m7 0h1m9 0h1m6 0h1m12 0h1m26 0h1M12 330h1m35 0h1m53 0h1m37 0h1M5 331h1m1 0h1m22 0h1m7 0h1m9 0h1m4 0h1m5 0h1m9 0h1m8 0h1m12 0h1m6 0h1m1 0h2m2 0h1m6 0h1m9 0h1m8 0h1m19 0h1m4 0h1M8 332h1m7 0h1m2 0h1m10 0h1m45 0h1m7 0h1m6 0h1m7 0h2m3 0h1m4 0h1m9 0h1M9 333h1m4 0h1m7 0h1m1 0h1m2 0h1m1 0h1m4 0h2m13 0h1m14 0h1m21 0h1m1 0h1m15 0h1m30 0h1m19 0h1M26 334h1m16 0h1m8 0h2m6 0h1m2 0h1m9 0h2m4 0h1m9 0h1m4 0h1m3 0h1m8 0h1M11 335h1m4 0h1m5 0h1m5 0h1m19 0h1m1 0h1m4 0h1m7 0h1m3 0h1m9 0h1m3 0h1m1 0h1m2 0h1m19 0h1M16 336h1m1 0h1m9 0h1m15 0h1m1 0h1m27 0h1m3 0h1m8 0h1m13 0h1m3 0h1m4 0h1M9 337h1m18 0h1m19 0h1m12 0h1m36 0h1m7 0h1m1 0h1m10 0h1m25 0h1M18 338h1m8 0h1m2 0h1m2 0h1m4 0h1m15 0h1m1 0h1m11 0h1m8 0h1m14 0h1m10 0h1m19 0h1M10 339h2m4 0h1m10 0h1m6 0h1m11 0h1m2 0h1m21 0h2m8 0h1m1 0h1m1 0h1m1 0h2m3 0h1m12 0h1M14 340h1m13 0h1m6 0h1m7 0h1m17 0h1m8 0h1m4 0h1m25 0h1M5 341h1m10 0h1m21 0h1m1 0h1m3 0h1m11 0h1m10 0h1m2 0h1m3 0h2m1 0h1m5 0h1m15 0h1m5 0h1m19 0h1M11 342h1m36 0h2m41 0h1m1 0h1m11 0h1M6 343h1m2 0h2m10 0h1m5 0h1m5 0h2m2 0h1m10 0h1m2 0h1m7 0h2m17 0h1m8 0h2m1 0h1m10 0h1m2 0h1m2 0h1m9 0h1M14 344h1m13 0h1m10 0h1m4 0h1m25 0h1m8 0h1m21 0h1m6 0h1m21 0h1m14 0h1m9 0h1M21 345h1m4 0h1m7 0h1m18 0h1m24 0h1m1 0h2m13 0h1m29 0h1M12 346h1m1 0h1m1 0h1m11 0h2m11 0h2m5 0h1m29 0h1m2 0h1m26 0h1m10 0h1M20 347h1m2 0h1m36 0h1m13 0h1m6 0h1m7 0h1M39 348h1m16 0h1m8 0h1m2 0h1m8 0h1m1 0h1m1 0h1m7 0h1m11 0h2M9 349h1m8 0h2m7 0h2m4 0h1m4 0h2m15 0h2m5 0h1m14 0h1m6 0h1m10 0h1m2 0h2m10 0h1m14 0h1M6 350h1m1 0h1m4 0h1m7 0h1m22 0h1m20 0h1m1 0h2m16 0h1m6 0h2m10 0h1m35 0h1m9 0h1M14 351h1m5 0h1m9 0h1m6 0h1m1 0h1m3 0h1m33 0h1m6 0h2m1 0h1m9 0h2m2 0h1m33 0h1m4 0h1m4 0h1M15 352h1m11 0h1m53 0h1m20 0h1m27 0h1M33 353h2m6 0h1m2 0h1m11 0h1m17 0h1m1 0h1m16 0h1m25 0h1M10 354h1m18 0h1m11 0h1m1 0h1m1 0h1m18 0h1m16 0h1m1 0h1m9 0h1m27 0h1m3 0h1m14 0h1M19 355h1m15 0h1m1 0h2m6 0h1m7 0h1m2 0h1m3 0h1m23 0h1m4 0h1M5 356h1m27 0h1m5 0h1m7 0h1m2 0h1m1 0h1m3 0h1m5 0h1m13 0h1m9 0h1m6 0h1m9 0h1m11 0h1m7 0h1M9 357h1m2 0h1m10 0h1m4 0h2m11 0h1m21 0h2m8 0h1m2 0h1m3 0h1m5 0h1m2 0h1m5 0h1m19 0h1m14 0h1M7 358h1m4 0h1m25 0h1m67 0h1m2 0h1m3 0h1m41 0h1M13 359h1m4 0h3m2 0h1m21 0h1m5 0h1m3 0h1m7 0h1m11 0h1m13 0h1m2 0h1m5 0h1m6 0h1m29 0h1m14 0h1M8 360h1m17 0h1m4 0h1m9 0h1m8 0h2m13 0h1m13 0h1m25 0h1m19 0h1m9 0h1m14 0h1m4 0h1M21 361h1m26 0h1m28 0h1m1 0h1m27 0h1m22 0h1M7 362h1m9 0h1m19 0h1m32 0h1m2 0h1m13 0h1m6 0h1m1 0h1m2 0h1m2 0h1m3 0h1m6 0h1M16 363h1m18 0h1m5 0h1m22 0h1m17 0h1m2 0h1m5 0h1m6 0h1m1 0h1m7 0h1m6 0h1M10 364h1m2 0h1m15 0h2m3 0h1m12 0h1m11 0h1m8 0h1m5 0h2m5 0h2m24 0h1m3 0h1m1 0h1m9 0h1m21 0h1M56 365h1m2 0h1m13 0h2m3 0h1m17 0h1m4 0h1m43 0h1M13 366h1m5 0h1m4 0h1m5 0h1m11 0h1m5 0h1m5 0h1m13 0h1m1 0h1m15 0h1m16 0h1M19 367h1m9 0h1m14 0h1m2 0h1m8 0h1m3 0h1m2 0h1m20 0h1m20 0h1m11 0h1M32 368h1m1 0h1m6 0h3m2 0h1m1 0h1m5 0h1m2 0h1m25 0h1m5 0h1M12 369h1m23 0h2m5 0h1m34 0h1m15 0h1m16 0h1M10 370h1m8 0h1m1 0h2m5 0h1m10 0h1m7 0h1m18 0h1m9 0h1m11 0h1m20 0h1m20 0h1M26 371h1m32 0h1m39 0h1m7 0h1M5 372h1m28 0h1m22 0h1M15 373h1m6 0h1m13 0h2m10 0h1m20 0h1m5 0h1m16 0h1m1 0h1m15 0h2m28 0h1m9 0h1M10 374h1m12 0h1m9 0h2m6 0h1m12 0h1m27 0h1m42 0h1m19 0h1M9 375h1m25 0h1m11 0h1m6 0h1m7 0h1m3 0h1m6 0h1m2 0h1m21 0h2m15 0h1m7 0h1M7 376h1m4 0h1m4 0h1m6 0h1m7 0h1m56 0h1m16 0h1m16 0h1M6 377h1m11 0h1m4 0h1m10 0h1m15 0h1m31 0h1m15 0h1m24 0h1M12 378h1m10 0h1m14 0h1m14 0h1m8 0h1m3 0h1m2 0h1m28 0h1m11 0h1m8 0h1M5 379h1m16 0h1m10 0h1m14 0h1m7 0h2m11 0h1m30 0h1m6 0h1m22 0h1M22 380h1m7 0h1m3 0h1m6 0h1m17 0h1m20 0h1m9 0h1m5 0h1m20 0h1m3 0h1m3 0h1M25 381h1m14 0h1m2 0h1m2 0h1m2 0h1m3 0h1m4 0h2m3 0h1m7 0h1m9 0h1m2 0h1m16 0h1m11 0h1m16 0h1M16 382h1m27 0h1m24 0h1m15 0h1m35 0h1M34 383h1m42 0h1m2 0h3m8 0h1m27 0h1M9 384h1m16 0h1m7 0h1m1 0h1m6 0h1m11 0h1m2 0h1m3 0h1m2 0h1m5 0h1m4 0h1m4 0h1m2 0h1m16 0h1m1 0h1m1 0h1M17 385h2m2 0h1m17 0h1m19 0h1m6 0h1m4 0h1m7 0h1m19 0h1m5 0h1M13 386h1m3 0h1m8 0h1m1 0h1m8 0h1m11 0h1m4 0h1m3 0h1m13 0h1m19 0h1m15 0h1M6 387h1m18 0h1m11 0h2m26 0h2m13 0h1m3 0h1m3 0h1m3 0h1m12 0h1m2 0h1m12 0h1M6 388h1m5 0h1m1 0h1m4 0h1m8 0h1m1 0h1m1 0h1m3 0h1m12 0h1m10 0h1m4 0h1m5 0h1m1 0h1m6 0h1m1 0h1m11 0h1m8 0h1m6 0h1m6 0h1m3 0h1m18 0h1M5 389h1m9 0h1m29 0h1m1 0h1m1 0h1m7 0h1m1 0h1m3 0h1m6 0h1m2 0h1m25 0h1m1 0h1m23 0h1M5 390h1m5 0h1m9 0h1m1 0h1m1 0h1m9 0h1m19 0h1m7 0h1m1 0h1m1 0h1m16 0h1m6 0h1m11 0h1m11 0h1m24 0h1M13 391h1m3 0h1m3 0h1m11 0h1m5 0h2m4 0h1m9 0h2m5 0h1m72 0h1M18 392h1m1 0h1m3 0h1m6 0h1m4 0h1m26 0h1m4 0h1m9 0h1M8 393h1m12 0h1m5 0h1m25 0h1m9 0h1m19 0h1m8 0h1M20 394h1m17 0h1m7 0h1m13 0h1m3 0h1m11 0h1m1 0h1m1 0h1m1 0h1m15 0h1m2 0h1m8 0h1m10 0h1m28 0h1M12 395h2m2 0h1m15 0h1m3 0h1m8 0h1m2 0h1m7 0h1m6 0h1m5 0h1m14 0h1m13 0h2m1 0h1M22 396h1m2 0h1m3 0h1m16 0h1m11 0h1m3 0h1m5 0h1m1 0h1m2 0h2m2 0h1m10 0h1m19 0h2m20 0h1M52 397h2m11 0h2m3 0h1m9 0h1m12 0h1m19 0h1m21 0h1m19 0h1M11 398h1m4 0h1m2 0h1m8 0h1m27 0h1m8 0h1m15 0h1m12 0h1m15 0h1M15 399h1m1 0h1m6 0h1m13 0h1m1 0h1m24 0h1m13 0h1m39 0h1m20 0h1M21 400h1m8 0h2m10 0h3m26 0h1m10 0h1m12 0h1m27 0h1M17 401h1m2 0h1m1 0h1m28 0h1m11 0h1m27 0h1m6 0h1m10 0h1M28 402h1m10 0h1m8 0h1m11 0h2m10 0h1m9 0h1m10 0h1m5 0h1m13 0h1m21 0h1M28 403h2m2 0h1m3 0h1m24 0h1m3 0h1m4 0h1m10 0h1m6 0h1m3 0h1m42 0h1M6 404h2m1 0h1m16 0h1m3 0h3m8 0h1m7 0h1m7 0h2m13 0h1m4 0h1m6 0h1m7 0h1m1 0h2m1 0h1m2 0h1m16 0h1m3 0h1M8 405h1m1 0h1m7 0h1m5 0h1m11 0h1m16 0h3m3 0h2m4 0h1m18 0h1m13 0h1m10 0h1m25 0h1"/>
<path stroke="#471365" d="M12 19h1m13 0h1M12 23h1m25 0h1m78 0h1M31 24h1m26 0h1m36 0h1m21 0h1M31 26h2m9 0h1m10 0h1m4 0h1m2 0h1m13 0h1m11 0h1m2 0h1m7 0h1m2 0h2m7 0h1m6 0h1m37 0h1M9 28h1m9 0h1m21 0h1m47 0h1m31 0h1m18 0h1M9 29h1m4 0h1m22 0h1m28 0h1m5 0h1m13 0h1m8 0h1m2 0h1m20 0h1M30 30h1m25 0h1m18 0h1m8 0h1m13 0h1m10 0h1m7 0h1m5 0h1M9 31h1m5 0h1m12 0h1m8 0h1m3 0h1m9 0h1m7 0h1m18 0h1m38 0h1m5 0h1m26 0h1M11 32h2m7 0h3m51 0h1m3 0h1m2 0h1m23 0h1m5 0h1m11 0h1M9 33h1m42 0h1m4 0h1m2 0h1m7 0h1m3 0h1m9 0h1m17 0h1m1 0h3m25 0h1m9 0h1m9 0h1M11 34h1m22 0h1m11 0h1m4 0h1m4 0h1m9 0h1m19 0h1m2 0h1m2 0h1m8 0h1m5 0h1m17 0h1M14 35h1m22 0h1m3 0h1m11 0h1m11 0h1m2 0h2m6 0h1m1 0h3m6 0h1m7 0h1m8 0h1m5 0h1m34 0h1M12 36h1m40 0h1m14 0h1m18 0h1m9 0h1m1 0h1m3 0h1m41 0h1M9 37h1m12 0h1m19 0h1m8 0h2m4 0h2m4 0h1m21 0h2m3 0h1m6 0h2m20 0h1m1 0h1M7 38h1m7 0h1m9 0h1m22 0h2m4 0h1m4 0h1m14 0h1M24 39h1m4 0h2m17 0h2m10 0h1m12 0h2m5 0h1m2 0h1m3 0h1m6 0h1m6 0h1m2 0h1M89 40h2m3 0h1m1 0h1m3 0h1m2 0h1m1 0h1m5 0h1M12 41h1m4 0h2m13 0h2m2 0h1m12 0h1m1 0h1m59 0h1m9 0h1m13 0h1m4 0h1M13 42h1m19 0h1m45 0h1m12 0h1m4 0h1m17 0h1m24 0h1m14 0h1M17 43h2m30 0h1m1 0h1m12 0h1m39 0h1M6 44h1m7 0h2m2 0h1m3 0h1m12 0h1m15 0h1m8 0h1m16 0h1m25 0h1m11 0h1m3 0h1m25 0h1M6 45h2m6 0h1m11 0h1m14 0h1m11 0h1m30 0h1m65 0h1M5 46h1m5 0h1m1 0h1m8 0h1m15 0h1m1 0h1m10 0h1m26 0h1m3 0h1m10 0h1m17 0h1m11 0h1M5 47h1m13 0h1m2 0h1m12 0h1m29 0h1m30 0h1m24 0h1m3 0h1M7 48h1m5 0h1m11 0h1m14 0h1m1 0h1m12 0h2m1 0h1m3 0h1m23 0h1m9 0h3M36 49h1m9 0h1m21 0h1m5 0h1m32 0h1m32 0h1M5 50h1m18 0h1m1 0h2m4 0h1m1 0h1m52 0h1m4 0h1m2 0h1m13 0h1M18 51h1m9 0h1m12 0h1m4 0h1m1 0h1m28 0h1m7 0h1m10 0h1m3 0h1m9 0h1m10 0h1M5 52h1m6 0h1m24 0h1m37 0h1m15 0h1m7 0h1m1 0h1m4 0h1M10 53h1m21 0h1m2 0h1m71 0h1m1 0h1m30 0h1M8 54h1m1 0h1m8 0h1m3 0h1m7 0h1m11 0h1m22 0h1m6 0h2m14 0h1m15 0h2m16 0h1m6 0h1M5 55h1m4 0h1m3 0h1m16 0h1m35 0h2m9 0h1m23 0h1m10 0h1m1 0h1m3 0h1m1 0h1M7 56h1m21 0h1m5 0h1m5 0h2m3 0h1m6 0h1m7 0h2m21 0h2m1 0h1m9 0h1M17 57h1m1 0h1m13 0h2m6 0h1m9 0h1m2 0h1m5 0h1m29 0h1m19 0h1m24 0h1M10 58h1m10 0h1m1 0h1m28 0h1m16 0h1m2 0h1m1 0h1m7 0h1m1 0h2m3 0h1m27 0h1m37 0h1M11 59h1m1 0h2m10 0h2m10 0h1m3 0h1m8 0h1M5 60h1m4 0h1m2 0h1m16 0h1m15 0h2m9 0h1m10 0h1m25 0h1m1 0h1m10 0h1m5 0h1M7 61h1m6 0h1m2 0h1m2 0h1m15 0h1m40 0h1m1 0h1m4 0h1m15 0h1m1 0h1m7 0h2M7 62h1m12 0h1m18 0h1m3 0h1m17 0h1m11 0h1m8 0h2m25 0h1M7 63h1m9 0h1m2 0h1m64 0h1M21 64h1m1 0h1m8 0h1m12 0h2m5 0h1m6 0h1m2 0h1m8 0h1m23 0h1m7 0h1m46 0h1M8 65h1m2 0h1m5 0h1m10 0h1m11 0h1m2 0h1m24 0h2m6 0h1m29 0h1m8 0h1m3 0h1m3 0h1M11 66h1m9 0h1m2 0h1m12 0h1m5 0h1m21 0h1m38 0h1M6 67h1m23 0h1m1 0h1m3 0h1m31 0h1m11 0h1M8 68h2m3 0h1m18 0h1m22 0h1m7 0h1m1 0h1m4 0h1m5 0h1m6 0h1m6 0h1m26 0h1m5 0h1M8 69h2m13 0h1m20 0h1m16 0h1m49 0h1M17 70h1m14 0h1m8 0h1m1 0h2m1 0h2m2 0h1m14 0h1m1 0h1m22 0h1m2 0h1m8 0h1m3 0h1m6 0h1m5 0h1m1 0h1M18 71h1m5 0h2m14 0h1m4 0h2m8 0h1m15 0h1m1 0h1m4 0h1m3 0h1m10 0h2m6 0h1m4 0h1m6 0h1m1 0h1m7 0h1M20 72h1m9 0h1m17 0h1m1 0h2m2 0h1m11 0h1m3 0h1m1 0h1m25 0h1m10 0h2m6 0h1M16 73h1m3 0h1m11 0h1m17 0h1m4 0h1m3 0h1m4 0h2m5 0h1m18 0h1m14 0h1m17 0h1m1 0h1m9 0h1M14 74h2m7 0h1m15 0h1m3 0h1m3 0h1m50 0h1m1 0h1m20 0h1M11 75h1m31 0h1m5 0h1m6 0h1m54 0h1m1 0h1m41 0h1M16 76h2m10 0h1m3 0h2m6 0h1m12 0h1m26 0h2m20 0h1m20 0h1m11 0h1M22 77h1m4 0h2m35 0h2m25 0h1m6 0h2M9 78h1m1 0h1m7 0h1m8 0h2m6 0h1m55 0h1m10 0h1M21 79h1m24 0h1m5 0h1m7 0h1m14 0h1m1 0h1m9 0h1m1 0h1m16 0h1m28 0h1M15 80h1m29 0h1m1 0h1m4 0h1m5 0h1m3 0h1m3 0h1m6 0h1m23 0h1M15 81h1m16 0h1m22 0h1m15 0h1m32 0h1m3 0h1m4 0h1m1 0h1M16 82h1m8 0h1m5 0h2m13 0h1m7 0h1m21 0h2m3 0h1m26 0h1m1 0h1M10 83h1m2 0h1m5 0h1m9 0h1m4 0h1m18 0h1m3 0h1m20 0h1m4 0h1M11 84h1m6 0h1m7 0h1m12 0h1m2 0h1m4 0h2m22 0h2m5 0h1m12 0h2m2 0h1m6 0h1m2 0h1m15 0h1m28 0h1M34 85h1m19 0h1m6 0h1m2 0h1m2 0h1m20 0h1m51 0h1M20 86h1m21 0h1m20 0h1m9 0h1m6 0h1m2 0h2m18 0h1m13 0h1M7 87h1m15 0h1m16 0h1m19 0h2m10 0h1m9 0h1m10 0h1m4 0h2m3 0h1M17 88h1m16 0h2m25 0h1M23 89h1m29 0h1m45 0h1m23 0h1m11 0h1m9 0h1M5 90h1m14 0h1m7 0h1m25 0h1m21 0h1m6 0h1m2 0h1M7 91h1m14 0h1m7 0h1m12 0h1m6 0h1m48 0h1m4 0h1m5 0h1M41 92h1m7 0h1m19 0h2m16 0h1m42 0h1M8 93h1m3 0h1m1 0h1m6 0h1m1 0h1m29 0h1m5 0h1m1 0h1m20 0h1m7 0h1m5 0h1m58 0h1M11 94h1m2 0h2m14 0h1m15 0h1m8 0h1m15 0h1m10 0h1m4 0h1m4 0h1m2 0h1m34 0h1M8 95h1m10 0h1m19 0h1m9 0h1m5 0h1m5 0h1m15 0h1m14 0h1m8 0h1M13 96h1m33 0h1m7 0h2m2 0h1m3 0h1m1 0h1m4 0h2m8 0h1m10 0h1m2 0h1m35 0h1m4 0h1M16 97h1m9 0h1m6 0h1m4 0h1m7 0h1m12 0h1m21 0h1m4 0h1m10 0h1M8 98h1m12 0h2m16 0h1m21 0h1m9 0h1m11 0h2m24 0h1m35 0h1m4 0h1M5 99h1m15 0h1m2 0h1m18 0h1m24 0h1m11 0h1m6 0h2m10 0h1m2 0h1M6 100h1m4 0h1m2 0h1m14 0h1m11 0h1m8 0h1m3 0h1m13 0h1m3 0h1m3 0h1m18 0h2m10 0h1m17 0h1m9 0h1M12 101h1m12 0h1m12 0h1m42 0h2m14 0h1m2 0h1m3 0h1m1 0h2m37 0h1M14 102h1m3 0h1m5 0h1m2 0h1m24 0h1m4 0h1m1 0h1m5 0h1m10 0h1m4 0h1m3 0h1m17 0h1M9 103h1m8 0h1m13 0h1m23 0h1m2 0h1m20 0h1m17 0h1m1 0h1m1 0h1m27 0h1M12 104h1m2 0h1m1 0h2m26 0h1m19 0h1m49 0h1m14 0h1M10 105h1m3 0h1m16 0h1m19 0h1m2 0h1m25 0h1m9 0h1m6 0h1m4 0h1M15 106h1m82 0h1m10 0h1m30 0h1M20 107h1m9 0h1m16 0h1m15 0h1m3 0h1m8 0h1m9 0h1m15 0h1m27 0h1M8 108h1m3 0h1m6 0h1m56 0h1m6 0h3m18 0h1m1 0h1m18 0h1M31 109h1m6 0h1m7 0h1m11 0h1m6 0h1m1 0h1m37 0h1m1 0h1m13 0h1M7 110h1m5 0h1m22 0h1m1 0h1m2 0h1m1 0h2m14 0h1m45 0h1m34 0h1M8 111h1m1 0h1m2 0h1m3 0h1m22 0h1m7 0h1m45 0h1M11 112h1m1 0h1m6 0h1m6 0h1m19 0h1m4 0h1m1 0h1m1 0h1m11 0h1m29 0h1m3 0h1m6 0h1m13 0h1M21 113h1m3 0h1m7 0h1m6 0h1m3 0h1m27 0h1m23 0h1m6 0h1m13 0h1M9 114h1m4 0h1m21 0h1m46 0h1m14 0h2m1 0h1m28 0h1m24 0h1M10 115h1m21 0h1m5 0h1m10 0h1m2 0h1m10 0h1m2 0h1m10 0h1m18 0h1m4 0h1m48 0h1M23 116h1m15 0h1m9 0h1m16 0h1m10 0h1m1 0h1m4 0h1m5 0h1m8 0h1m8 0h1m10 0h1m3 0h1M34 117h1m2 0h1m6 0h1m15 0h1m1 0h1m2 0h1m8 0h1m2 0h1m1 0h1m3 0h1m10 0h1m2 0h1m21 0h1M11 118h1m2 0h1m9 0h1m53 0h1m7 0h1m1 0h1m9 0h1m18 0h1M6 119h1m7 0h1m16 0h1m4 0h2m7 0h1m2 0h1m16 0h1m59 0h1m29 0h1M5 120h1m10 0h1m12 0h1m3 0h1m10 0h1m18 0h1m27 0h1m13 0h1M5 121h1m10 0h1m4 0h1m4 0h1m27 0h2m15 0h1m2 0h1m5 0h1m5 0h1m6 0h2m15 0h1M20 122h1m9 0h1m12 0h1m8 0h1m1 0h1m23 0h1m4 0h1m33 0h1m37 0h1M9 123h2m19 0h1m12 0h1m6 0h1m18 0h1m1 0h1m15 0h1m1 0h1m20 0h1M30 124h1m17 0h1m16 0h1m3 0h1m4 0h1m7 0h1m4 0h1m3 0h1m3 0h1m17 0h1m41 0h1M9 125h1m8 0h1m11 0h1m5 0h1m21 0h1m42 0h1m7 0h1M8 126h1m20 0h1m8 0h2m7 0h1m6 0h2m15 0h1m5 0h1m5 0h1m3 0h1m15 0h2m14 0h1m20 0h1M11 127h1m15 0h1m34 0h1m7 0h1m11 0h1m15 0h1m10 0h1m7 0h1M31 128h1m9 0h1m6 0h1m7 0h1m2 0h2m33 0h1m10 0h1m1 0h1m37 0h1M5 129h1m6 0h1m19 0h1m20 0h1m2 0h1m12 0h1m7 0h1m8 0h1m5 0h1m15 0h1M15 130h1m8 0h1m11 0h1m56 0h1m4 0h1m26 0h1M17 131h2m1 0h1m6 0h1m10 0h1m2 0h1m43 0h1m14 0h1m4 0h1m15 0h1M20 132h1m1 0h1m3 0h1m27 0h1m10 0h1m13 0h2m16 0h1m1 0h1m1 0h1m7 0h1m1 0h1M13 133h1m17 0h1m1 0h1m1 0h1m3 0h1m57 0h2m6 0h1m3 0h1M41 134h1m2 0h1m1 0h1m3 0h1m5 0h1m6 0h1m11 0h1m8 0h1m6 0h1m15 0h1m9 0h1M7 135h2m4 0h1m31 0h2m8 0h1m1 0h1m3 0h1m8 0h1m6 0h1m12 0h1m10 0h1m4 0h1m8 0h1m1 0h1m27 0h1M5 136h1m16 0h1m22 0h3m41 0h1m14 0h2m24 0h1M5 137h1m9 0h1m29 0h1m12 0h1m3 0h2m14 0h2m3 0h1m21 0h2M14 138h1m9 0h1m4 0h1m12 0h1m9 0h1m1 0h1m1 0h1m8 0h1m5 0h1m31 0h1M7 139h1m31 0h1m10 0h1m6 0h1m34 0h1m4 0h1m5 0h1m11 0h1m24 0h1M24 140h1m11 0h1m23 0h1m4 0h1m17 0h1m1 0h1M41 141h1m5 0h1m14 0h1m36 0h1m3 0h1M20 142h1m10 0h1m1 0h1m11 0h1m3 0h1m23 0h1m4 0h1m2 0h1m7 0h1m5 0h1m17 0h1m11 0h1m19 0h1M23 143h1m6 0h1m9 0h1m3 0h1m16 0h1m3 0h1m4 0h1m10 0h1m4 0h1m4 0h2M11 144h1m24 0h1m12 0h1m8 0h1m16 0h1m8 0h1m5 0h1m4 0h1m6 0h1m16 0h1M11 145h1m9 0h1m18 0h2m2 0h1m23 0h1m48 0h1M18 146h1m36 0h1m8 0h1m13 0h1m12 0h1m5 0h1M11 147h1m18 0h1m5 0h1m24 0h1m3 0h1m5 0h1m9 0h1m26 0h1m10 0h1m5 0h1m19 0h1M14 148h1m11 0h1m53 0h1m3 0h1m11 0h1m22 0h1M7 149h1m1 0h1m7 0h1m9 0h1m5 0h1m7 0h1m39 0h1m2 0h1m19 0h1m5 0h1m24 0h1M13 150h1m2 0h1m16 0h1m7 0h1m39 0h1m11 0h1m8 0h1M5 151h1m2 0h1m11 0h1m2 0h1m4 0h1m24 0h1m5 0h1m12 0h2m12 0h1m1 0h1m4 0h2m3 0h1m20 0h1M39 152h1m6 0h1m14 0h1m30 0h1m52 0h1M8 153h1m16 0h1m4 0h1m12 0h1m10 0h1m14 0h1m29 0h1m7 0h2M5 154h1m3 0h1m32 0h1m3 0h2m3 0h1m26 0h1m15 0h1m3 0h1m8 0h1m7 0h1M9 155h1m1 0h1m3 0h1m51 0h1m26 0h1m1 0h2m9 0h1M5 156h1m3 0h1m23 0h2m10 0h1m1 0h2m6 0h1m9 0h1m10 0h1m4 0h1m1 0h1m11 0h1m1 0h1m7 0h1m49 0h1M13 157h1m15 0h1m4 0h1m20 0h1m3 0h1m28 0h1m6 0h1m7 0h1m1 0h1m11 0h1m32 0h1M13 158h1m5 0h1m5 0h1m5 0h2m20 0h1m19 0h1m3 0h1m9 0h2m3 0h1m11 0h1m2 0h1m3 0h1M43 159h1m6 0h1m2 0h1m2 0h1m4 0h1m11 0h1m5 0h1m31 0h1M22 160h1m16 0h1m1 0h1m17 0h1m14 0h1m15 0h1m5 0h1M22 161h1m17 0h1m6 0h1m1 0h1m11 0h1m5 0h1m3 0h1m6 0h1m21 0h1m3 0h1M18 162h1m21 0h1m1 0h1m6 0h1m1 0h1m33 0h1m8 0h1m6 0h1m28 0h1m24 0h1M15 163h1m13 0h1m7 0h1m8 0h1m7 0h1m56 0h1M17 164h1m18 0h1m2 0h1m15 0h1m9 0h1m7 0h1m35 0h1m15 0h1M24 165h1m1 0h1m12 0h1m3 0h1m12 0h1m1 0h3m4 0h1m13 0h1m23 0h1m4 0h1m16 0h1M5 166h2m16 0h1m3 0h1m8 0h3m17 0h1m20 0h1m27 0h1m17 0h1M19 167h1m7 0h1m4 0h1m34 0h1m1 0h1m5 0h1m6 0h1m11 0h1m5 0h1m54 0h1M7 168h1m2 0h1m14 0h1m2 0h1m10 0h1m2 0h1m17 0h1m8 0h1m9 0h2m2 0h1m7 0h1m5 0h1m7 0h1m29 0h1M10 169h2m7 0h1m3 0h1m6 0h1m2 0h1m5 0h1m11 0h1m56 0h1m41 0h1M6 170h1m2 0h1m3 0h1m6 0h1m21 0h1m12 0h1m1 0h1m8 0h1m23 0h1m3 0h1m13 0h1m6 0h1m3 0h1M5 171h1m1 0h1m15 0h1m4 0h1m25 0h1m17 0h1m6 0h1m5 0h1m5 0h1m1 0h1m1 0h1m3 0h1m2 0h1m3 0h1m43 0h1M31 172h2m28 0h2m25 0h1m3 0h1m1 0h1m28 0h1m6 0h1M9 173h1m1 0h1m10 0h1m17 0h1m13 0h1m15 0h2m35 0h1m1 0h1m15 0h1M37 174h1m15 0h1m6 0h1m4 0h1m41 0h1M6 175h1m47 0h1m10 0h1m12 0h1m1 0h1m12 0h1m6 0h1m10 0h1m9 0h1m23 0h1M6 176h1m23 0h1m2 0h1m6 0h1m13 0h1m6 0h1m25 0h1m19 0h1m17 0h1M19 177h1m2 0h1m9 0h1m2 0h1m6 0h1m11 0h2m13 0h1m2 0h2m3 0h1m9 0h1m21 0h1m11 0h1m3 0h1M9 178h1m12 0h1m14 0h2m1 0h2m10 0h1m35 0h1m19 0h2M13 179h1m1 0h1m21 0h1m7 0h1m28 0h1m3 0h1m7 0h3m4 0h1m36 0h1M16 180h1m5 0h1m2 0h1m2 0h1m19 0h1m18 0h1m7 0h1m2 0h1m7 0h1m11 0h1M17 181h1m12 0h1m5 0h1m12 0h1m7 0h1m5 0h1m13 0h1m17 0h1m1 0h1M15 182h1m1 0h1m8 0h1m7 0h1m2 0h1m2 0h1m3 0h1m20 0h1m2 0h1m19 0h1m3 0h1m2 0h1m11 0h1M21 183h1m1 0h1m25 0h1m6 0h1m1 0h1m6 0h1m1 0h1m2 0h1m13 0h1m38 0h1M33 184h1m3 0h1m13 0h1m1 0h1m14 0h1m6 0h1m64 0h1M42 185h1m6 0h1m12 0h1m5 0h1m20 0h1m18 0h1M11 186h1m11 0h1m9 0h1m6 0h1m8 0h1m13 0h1m11 0h1m30 0h1m2 0h1m7 0h1M5 187h2m12 0h1m45 0h1m20 0h2m8 0h1m5 0h1m14 0h1m5 0h1M14 188h1m37 0h1m14 0h1m15 0h1m31 0h1m5 0h1M5 189h1m15 0h1m19 0h1m1 0h1m4 0h2m4 0h1m4 0h1m12 0h1m16 0h1m25 0h1M8 190h1m1 0h1m2 0h1m3 0h1m13 0h1m2 0h1m12 0h1m11 0h1m2 0h1m25 0h2m45 0h1M5 191h1m7 0h1m2 0h1m8 0h1m4 0h1m19 0h1m15 0h1m11 0h1m5 0h1m2 0h1m19 0h1m3 0h1m13 0h1m29 0h1M13 192h2m10 0h1m1 0h1m2 0h1m19 0h1m10 0h1m24 0h1m1 0h1M24 193h1m5 0h1m25 0h1m4 0h1m9 0h1m5 0h1m28 0h2m5 0h1m11 0h1m9 0h1M18 194h1m10 0h2m2 0h1m22 0h1m2 0h1m11 0h1m9 0h1m17 0h1m17 0h1M9 195h1m8 0h1m5 0h1m2 0h1m9 0h1m15 0h1m8 0h1m10 0h1m35 0h1M34 196h1m15 0h1m2 0h1m21 0h1m2 0h1m25 0h1m1 0h1m1 0h1m46 0h1M11 197h1m1 0h1m25 0h1m12 0h1m16 0h1m12 0h1m21 0h2m1 0h1M6 198h2m12 0h1m3 0h1m3 0h1m3 0h1m25 0h1m26 0h1m1 0h1m9 0h1m47 0h1M16 199h1m7 0h2m4 0h1m49 0h1m2 0h1m15 0h1m1 0h2m6 0h1m7 0h1m5 0h1M5 200h1m17 0h1m8 0h1m8 0h2m8 0h1m22 0h1m2 0h1m15 0h1M8 201h1m13 0h1m20 0h1m1 0h1m6 0h1m15 0h1m9 0h1m10 0h1m5 0h1m4 0h1m14 0h1M21 202h1m3 0h1m10 0h1m5 0h1m2 0h1m9 0h1m16 0h1m11 0h1m20 0h1m7 0h1m41 0h1M8 203h1m8 0h1m7 0h1m5 0h1m17 0h1m21 0h1m16 0h1m15 0h1m20 0h1M36 204h1m34 0h2m3 0h1m10 0h1m14 0h1m14 0h1m27 0h1M9 205h2m3 0h1m9 0h1m3 0h1m7 0h1m5 0h1m5 0h2m9 0h1m3 0h1m42 0h1m3 0h1m19 0h1m14 0h1M13 206h1m32 0h1m7 0h1m34 0h1m5 0h1m2 0h1m3 0h1M6 207h1m17 0h1m6 0h1m4 0h1m23 0h1m29 0h1m6 0h1m1 0h1m3 0h1m2 0h2m15 0h1M5 208h1m10 0h1m20 0h1m4 0h2m5 0h1m13 0h1m30 0h1m4 0h1M5 209h1m1 0h1m27 0h1m4 0h1m11 0h1m1 0h2m14 0h1m64 0h1m9 0h1M16 210h1m3 0h1m4 0h1m3 0h1m12 0h1m1 0h1m12 0h1m6 0h1m9 0h1m26 0h1m17 0h1M10 211h1m5 0h1m24 0h2m11 0h1m15 0h1m4 0h1m12 0h2m7 0h1m3 0h1M13 212h1m1 0h1m26 0h1m1 0h1m4 0h1m9 0h1m2 0h1m6 0h2m18 0h1m3 0h1m6 0h1m6 0h1m1 0h1M22 213h1m3 0h1m9 0h1m12 0h2m12 0h1m11 0h1m4 0h1m24 0h1m17 0h1M20 214h1m7 0h1m44 0h1m15 0h1m2 0h1m7 0h1m18 0h1m20 0h1M14 215h1m1 0h1m14 0h1m25 0h1m5 0h1m6 0h1m1 0h1m17 0h1m15 0h1m33 0h1M11 216h1m22 0h1m48 0h1m4 0h2m3 0h2m1 0h2m2 0h1m20 0h1m18 0h1M6 217h1m3 0h1m30 0h1m21 0h1m3 0h1m5 0h1m9 0h1m7 0h1m6 0h1m5 0h1M8 218h1m10 0h1m9 0h1m31 0h1m15 0h1m18 0h2m6 0h1m4 0h1M10 219h1m5 0h1m1 0h1m46 0h1m15 0h1m23 0h2M9 220h2m42 0h1m4 0h1m33 0h1m18 0h1m3 0h1M22 221h1m11 0h1m9 0h1m2 0h1m17 0h1m13 0h1m2 0h2m19 0h1m17 0h1M5 222h1m1 0h1m28 0h1m9 0h2m3 0h2m6 0h1m24 0h1m2 0h1m3 0h1m17 0h1M31 223h1m1 0h1m5 0h1m7 0h1m3 0h2m4 0h1m2 0h1m7 0h1m9 0h3m9 0h1m14 0h1m2 0h1m8 0h1M17 224h1m17 0h1m8 0h1m8 0h1m15 0h1m39 0h1M8 225h1m28 0h1m6 0h1m17 0h1m4 0h1m6 0h1m3 0h1m3 0h1m11 0h1m55 0h1M19 226h1m6 0h1m7 0h1m2 0h1m5 0h1m6 0h1m23 0h1m12 0h1m6 0h1m7 0h1m2 0h1M23 227h1m14 0h1m31 0h1m9 0h1m4 0h1m13 0h1m5 0h1M12 228h1m8 0h2m15 0h1m3 0h1m26 0h1m1 0h1m9 0h1m7 0h1m5 0h1m11 0h1m7 0h1M18 229h1m2 0h1m3 0h1m3 0h2m9 0h1m1 0h1m2 0h2m40 0h1m1 0h1m55 0h1M8 230h2m11 0h1m2 0h1m3 0h1m3 0h1m19 0h1m12 0h1m22 0h1m12 0h1m4 0h1m8 0h1m1 0h1M5 231h1m7 0h1m2 0h1m39 0h1m21 0h1m11 0h1m12 0h1M12 232h1m11 0h1m1 0h1m18 0h1m7 0h2m13 0h1m2 0h1m4 0h2m31 0h1M5 233h1m2 0h1m3 0h1m4 0h1m2 0h1m5 0h1m7 0h1m3 0h1m28 0h1m24 0h1m16 0h1m20 0h1M27 234h1m10 0h1m8 0h1m17 0h1m6 0h1m3 0h1m2 0h1m6 0h1m9 0h1m7 0h1m35 0h1M11 235h1m3 0h2m7 0h1m56 0h1m6 0h1m1 0h1M15 236h1m31 0h2m15 0h1m21 0h1m3 0h1m24 0h1m5 0h1M22 237h1m31 0h1m6 0h1m13 0h1m4 0h1m12 0h1m12 0h1M10 238h1m18 0h1m16 0h1m3 0h1m5 0h1m4 0h2m4 0h1m38 0h1m28 0h1M13 239h1m28 0h2m6 0h1m14 0h1m11 0h1m8 0h1m17 0h1m20 0h1M7 240h1m6 0h2m11 0h1m25 0h1m5 0h1m10 0h1m3 0h1m1 0h1m32 0h1m25 0h1M26 241h1m11 0h1m17 0h1m9 0h1m5 0h1m3 0h1m1 0h1m11 0h1m4 0h1m7 0h1m13 0h1M11 242h1m13 0h1m29 0h1m10 0h1m2 0h1m10 0h1m18 0h1m2 0h1m1 0h1m16 0h1m13 0h1M19 243h2m35 0h1m1 0h1m33 0h1m16 0h1m1 0h1M9 244h2m36 0h1m30 0h2m23 0h1M6 245h1m12 0h1m11 0h1m50 0h1m10 0h1m14 0h1m8 0h1M11 246h2m9 0h1m4 0h1m16 0h1m16 0h1m1 0h1m1 0h2m4 0h1m6 0h1m1 0h1m3 0h1m7 0h1m1 0h1m1 0h1m7 0h1m16 0h1m18 0h1M6 247h1m4 0h2m30 0h1m21 0h1m9 0h1m11 0h1m7 0h1m14 0h1m39 0h1M8 248h1m38 0h1m12 0h1m6 0h2m8 0h1m7 0h1m2 0h1m11 0h1m12 0h1m26 0h1M7 249h1m64 0h1m16 0h1m7 0h1m15 0h1M16 250h1m7 0h2m30 0h1m5 0h1m12 0h1m18 0h1m10 0h1m39 0h1M26 251h2m5 0h1m14 0h2m26 0h1m18 0h1m1 0h1m5 0h1m36 0h1m9 0h1m4 0h1M7 252h1m15 0h1m7 0h1m16 0h1m11 0h1m8 0h1m1 0h1m31 0h1m17 0h1M27 253h1m22 0h1m3 0h1m1 0h1m8 0h1m11 0h1m33 0h1m28 0h1M24 254h1m12 0h1m2 0h1m10 0h1m11 0h1m28 0h1m32 0h1M10 255h1m7 0h1m1 0h1m11 0h1m3 0h1m13 0h1m13 0h2m15 0h1m1 0h1m11 0h1m3 0h1m11 0h1m13 0h1m14 0h1M6 256h1m19 0h1m4 0h1m10 0h2m17 0h1m2 0h1m2 0h1m15 0h1m4 0h1m6 0h1m23 0h1M6 257h1m11 0h1m20 0h1m7 0h1m3 0h1m16 0h1m2 0h1m2 0h1m3 0h1m16 0h1m3 0h1m9 0h1m7 0h1M22 258h1m30 0h1m1 0h1m2 0h1m1 0h1m47 0h2m3 0h1m5 0h1m20 0h1M5 259h1m7 0h1m4 0h1m23 0h1m15 0h1m14 0h1m2 0h1m8 0h1M5 260h1m13 0h1m3 0h1m8 0h2m1 0h1m7 0h1m6 0h1m2 0h2m26 0h1m27 0h1M27 261h1m13 0h1m1 0h1m1 0h1m34 0h1m5 0h1m13 0h1M10 262h1m5 0h1m6 0h1m25 0h1m2 0h1m6 0h1m10 0h1m32 0h1m5 0h1m1 0h1m9 0h1M22 263h1m30 0h1m6 0h2m8 0h1m6 0h1m4 0h1m7 0h1m24 0h1M59 264h1m22 0h1m57 0h1m4 0h1m9 0h1M20 265h1m3 0h1m1 0h1m5 0h1m44 0h1m18 0h1m18 0h1m34 0h1M10 266h2m4 0h1m18 0h1m1 0h1m8 0h1m26 0h1m19 0h1m14 0h1M45 267h1m3 0h1m14 0h2m10 0h1m3 0h1m8 0h1m1 0h1m25 0h1M16 268h1m4 0h1m8 0h1m6 0h1m6 0h1m4 0h1m6 0h1m10 0h1m6 0h1m1 0h1m28 0h1m13 0h1M6 269h1m3 0h1m1 0h1m4 0h1m7 0h1m6 0h1m11 0h1m3 0h1m1 0h1m20 0h1m2 0h2m12 0h1m6 0h1m5 0h1m13 0h1m9 0h1M12 270h1m9 0h1m16 0h1m2 0h1m8 0h1m1 0h1m14 0h1m10 0h1m15 0h1M22 271h2m5 0h1m1 0h1m2 0h1m4 0h1m14 0h1m5 0h1m11 0h1m3 0h1m5 0h1m6 0h1m9 0h1m2 0h1m4 0h1M15 272h1m29 0h1m1 0h1m6 0h1m6 0h1m6 0h2m4 0h1m15 0h1m2 0h1m5 0h1m2 0h1m37 0h1M8 273h1m1 0h1m15 0h1m4 0h1m5 0h1m7 0h1m27 0h1m7 0h1M15 274h1m18 0h1m2 0h1m18 0h1m4 0h1m2 0h1m7 0h1m1 0h1m7 0h1m1 0h1M23 275h1m5 0h1m2 0h2m4 0h1m30 0h1m13 0h1m4 0h1m5 0h1m1 0h1m2 0h1m9 0h1m11 0h1m1 0h1M20 276h1m5 0h1m1 0h1m4 0h1m8 0h1m13 0h1m2 0h1m5 0h1m20 0h1m3 0h2m2 0h2M11 277h1m59 0h1m6 0h1m5 0h1m10 0h1m9 0h1m13 0h1m35 0h1M17 278h1m15 0h1m3 0h1m13 0h1m1 0h1m5 0h1m7 0h1m38 0h1m8 0h1m9 0h1m29 0h1M12 279h1m21 0h1m19 0h1m49 0h2m9 0h1m5 0h1m1 0h1m11 0h1M28 280h1m4 0h1m15 0h1m5 0h1m27 0h1m3 0h1m4 0h1m8 0h1m2 0h1m50 0h1M10 281h1m33 0h1m20 0h1m10 0h2m26 0h1M8 282h1m7 0h1m4 0h1m4 0h1m4 0h1m3 0h1m34 0h1m34 0h1m9 0h1m9 0h1M7 283h1m8 0h1m8 0h1m5 0h1m6 0h1m51 0h2m14 0h1m8 0h1M12 284h1m30 0h1m5 0h1m1 0h1m2 0h1m15 0h1m6 0h1m41 0h1m1 0h1m1 0h1m21 0h1M10 285h1m4 0h1m2 0h3m5 0h1m3 0h1m6 0h1m11 0h1m2 0h1m11 0h1m8 0h1m29 0h1m19 0h1M10 286h1m44 0h1m33 0h1m5 0h1m5 0h1m7 0h1m15 0h1M23 287h1m4 0h1m9 0h1m5 0h1m9 0h2m11 0h1m11 0h1m2 0h2m27 0h1M21 288h1m1 0h1m47 0h1m1 0h1m11 0h1m18 0h1m6 0h1M21 289h1m14 0h1m3 0h3m6 0h2m12 0h1m22 0h1m20 0h1m13 0h1m1 0h1M8 290h1m2 0h1m1 0h1m5 0h1m28 0h1m2 0h1m12 0h1m3 0h1m15 0h1m9 0h1m3 0h1m24 0h1m31 0h1M9 291h1m12 0h1m32 0h2m3 0h1m8 0h1m14 0h1m10 0h1m5 0h1m6 0h1m41 0h1M14 292h1m10 0h1m14 0h1m11 0h1m29 0h1m18 0h1m17 0h1m35 0h1M8 293h1m9 0h1m13 0h1m14 0h1m23 0h1m8 0h1m18 0h1m5 0h1m1 0h1M5 294h1m43 0h1m47 0h2m11 0h1M32 295h1m2 0h1m1 0h1m3 0h1m36 0h1m9 0h1m10 0h1m1 0h1m1 0h1m13 0h1m22 0h1M16 296h1m11 0h1m15 0h1m11 0h3m14 0h2m4 0h1m23 0h1M6 297h1m32 0h1m9 0h1m10 0h1m23 0h1m4 0h1m12 0h1m2 0h1m11 0h1m37 0h1M9 298h1m29 0h1m5 0h1m13 0h1m19 0h1m6 0h1m18 0h1m2 0h1m12 0h1M21 299h1m8 0h1m3 0h1m3 0h1m4 0h1m15 0h1m1 0h2m27 0h1m2 0h1m1 0h1m25 0h1m3 0h1M31 300h1m6 0h1m6 0h1m11 0h1m4 0h1m5 0h2m16 0h2m11 0h1M5 301h1m7 0h1m13 0h1m3 0h1m6 0h1m1 0h1m21 0h1m9 0h1m1 0h1m1 0h1m1 0h1m15 0h1m10 0h1m3 0h1m40 0h1M8 302h1m4 0h1m6 0h1m29 0h1m31 0h1m20 0h1m41 0h1M6 303h1m4 0h1m30 0h1m11 0h1m6 0h1m38 0h1m6 0h1m13 0h1m28 0h1M29 304h2m8 0h1m4 0h1m5 0h1m8 0h1m12 0h2m5 0h1m11 0h1m33 0h1m4 0h1M19 305h1m13 0h1m25 0h1m16 0h2m7 0h1m1 0h1m8 0h1m1 0h2m30 0h1M6 306h1m8 0h1m4 0h1m31 0h1m6 0h1m24 0h1m6 0h1m3 0h2m12 0h1m7 0h1m3 0h1M29 307h1m28 0h1m5 0h1m1 0h1m2 0h3m3 0h1m11 0h1m1 0h1m12 0h1m3 0h2M22 308h1m9 0h1m26 0h1m10 0h1m18 0h1m1 0h1m7 0h1m17 0h1m22 0h1M62 309h1m7 0h1m21 0h1M31 310h1m3 0h1m20 0h1m21 0h1m12 0h1m10 0h1m3 0h1m12 0h1m5 0h1m9 0h1M16 311h2m28 0h1m24 0h1m4 0h1m17 0h2m21 0h1M33 312h1m3 0h1m34 0h1m10 0h1m1 0h1m8 0h1m13 0h1M6 313h1m1 0h1m11 0h1m13 0h1m3 0h1m9 0h1m29 0h1m2 0h1m2 0h1m18 0h1m4 0h1m8 0h1m37 0h1M8 314h1m74 0h1m7 0h1m14 0h1M6 315h1m20 0h1m10 0h1m47 0h1m53 0h1M5 316h1m30 0h1m25 0h1m20 0h1M6 317h1m25 0h1m7 0h1m4 0h2m9 0h1m6 0h1m15 0h1m1 0h1m12 0h1m20 0h1m7 0h1m16 0h1M18 318h1m60 0h1m11 0h1m10 0h1m2 0h1m3 0h1m11 0h1M7 319h1m10 0h1m29 0h1m43 0h1M34 320h1m11 0h1m10 0h1m34 0h1m5 0h1m4 0h1m5 0h1M24 321h1m21 0h1m6 0h1m33 0h1m18 0h1m2 0h1M26 322h1m4 0h1m4 0h1m2 0h1m7 0h1m27 0h1m4 0h1m12 0h1m3 0h1m52 0h1M27 323h1m5 0h1m33 0h2m3 0h1m2 0h1m1 0h1m15 0h1m16 0h1m8 0h1m5 0h1M16 324h1m53 0h1m3 0h1m1 0h1m18 0h3m2 0h1M9 325h1m12 0h1m2 0h1m11 0h1m7 0h1m5 0h1m12 0h1m4 0h1m7 0h1m18 0h1m4 0h1m3 0h1m17 0h1M12 326h1m6 0h1m3 0h1m36 0h1m7 0h1m76 0h1m4 0h1M6 327h1m8 0h1m33 0h1m7 0h2m8 0h1m3 0h1m35 0h1m11 0h1m3 0h1m11 0h1m19 0h1M15 328h1m5 0h1m2 0h1m32 0h1m37 0h1m5 0h1m1 0h1m1 0h1m13 0h1m10 0h1M8 329h1m18 0h2m7 0h1m5 0h1m14 0h1m15 0h1m26 0h2m4 0h1m43 0h1M5 330h1m12 0h1m1 0h1m2 0h1m10 0h1m5 0h1m5 0h1m18 0h1m7 0h1m2 0h1m1 0h1m2 0h1m35 0h1m27 0h1M10 331h1m6 0h1m3 0h1m27 0h1m27 0h1m3 0h1m12 0h1m1 0h1m8 0h1m11 0h1m7 0h1M5 332h1m7 0h1m8 0h1m9 0h2m5 0h1m7 0h1m13 0h1m7 0h1M11 333h3m23 0h1m1 0h1m10 0h1m4 0h1m12 0h1m3 0h1m8 0h1m1 0h1m8 0h1m16 0h1M14 334h1m22 0h1m7 0h1m2 0h1m9 0h1m12 0h1m14 0h1m3 0h1m5 0h1m12 0h1m15 0h1m4 0h1M30 335h1m7 0h1m26 0h1m35 0h1m5 0h1m1 0h1m7 0h1m12 0h1M36 336h1m2 0h1m8 0h2m6 0h1m10 0h1m9 0h1M10 337h1m14 0h1m12 0h1m1 0h1m2 0h1m10 0h1m18 0h1m3 0h1m17 0h1M7 338h1m2 0h1m8 0h1m20 0h3m3 0h1m25 0h1m20 0h1m10 0h1m20 0h1m29 0h1M36 339h1m6 0h1m3 0h1m14 0h1m2 0h1m3 0h2m26 0h1m8 0h1M34 340h1m2 0h1m2 0h1m3 0h1m3 0h1m9 0h1m18 0h1m1 0h1m12 0h1m16 0h1m5 0h1M6 341h1m8 0h1m25 0h1m5 0h1m7 0h1m12 0h1m13 0h1m5 0h1m17 0h1m33 0h1M5 342h1m1 0h1m12 0h1m13 0h1m2 0h1m4 0h1m13 0h1m20 0h1m8 0h2m10 0h1m7 0h1m48 0h1M14 343h1m4 0h1m6 0h1m1 0h1m17 0h1m5 0h1m4 0h2m2 0h1m14 0h2m5 0h1m9 0h1m8 0h1m32 0h1M8 344h1m6 0h1m4 0h3m3 0h1m3 0h1m6 0h2m1 0h1m1 0h1m47 0h1m7 0h1M11 345h1m11 0h1m8 0h1m3 0h1m5 0h1m17 0h2m4 0h1m9 0h1m8 0h1m1 0h1M5 346h1m28 0h1m14 0h1m10 0h1m8 0h1m19 0h1m17 0h1m27 0h1M9 347h2m14 0h2m8 0h1m1 0h1m7 0h2m22 0h1m9 0h1m5 0h1m9 0h1m29 0h1M5 348h1m1 0h1m8 0h1m3 0h1m1 0h1m4 0h1m9 0h1m4 0h1m2 0h1m6 0h1M12 349h1m8 0h1m12 0h1m18 0h1m9 0h1m1 0h1m6 0h1m17 0h1m3 0h1m40 0h1m4 0h1m9 0h1M10 350h1m15 0h1m6 0h2m12 0h1m4 0h1m2 0h1m7 0h1m22 0h1m2 0h1m23 0h1m9 0h1m6 0h1M10 351h1m11 0h1m10 0h2m22 0h1m13 0h1m8 0h1m2 0h1m16 0h1m5 0h1M32 352h1m5 0h1m8 0h1m23 0h1m4 0h1m18 0h1m14 0h1M26 353h1m21 0h1m2 0h2m15 0h1m6 0h1m6 0h1m8 0h1m19 0h1m1 0h1m9 0h1M5 354h1m11 0h1m21 0h1m11 0h2m1 0h1m4 0h1m43 0h1m19 0h1m31 0h1M14 355h1m15 0h1m1 0h1m1 0h1m16 0h1m23 0h1m18 0h1M28 356h1m2 0h1m9 0h1m2 0h1m13 0h1m1 0h2m2 0h1m1 0h1m22 0h1m45 0h1M5 357h1m18 0h1m31 0h1m2 0h1m11 0h1m2 0h2m1 0h1m7 0h1m10 0h2m4 0h1m6 0h1M14 358h1m19 0h1m5 0h1m10 0h1m4 0h1m20 0h1m10 0h1m2 0h1m6 0h1m12 0h1m11 0h1M8 359h1m12 0h1m10 0h1m1 0h1m9 0h1m8 0h1m4 0h2m14 0h1m16 0h1m1 0h1m8 0h1m16 0h1m3 0h1m6 0h1M14 360h1m3 0h1m9 0h1m13 0h2m11 0h1m25 0h1m6 0h1m9 0h1m9 0h1m1 0h1M9 361h1m1 0h1m16 0h1m1 0h1m3 0h1m15 0h1m17 0h1m21 0h1m2 0h1m1 0h1m7 0h1M6 362h1m16 0h1m28 0h1m8 0h1m14 0h1m1 0h1m14 0h1m16 0h1m6 0h1m27 0h1M46 363h1m5 0h1m23 0h1m2 0h1m13 0h1m12 0h1m4 0h1m28 0h1M5 364h1m10 0h1m7 0h1m6 0h1m17 0h1m8 0h1m3 0h1m30 0h2m4 0h1m1 0h1m3 0h1M7 365h1m7 0h1m5 0h1m14 0h1m38 0h1m16 0h1m13 0h1m3 0h1m6 0h1m7 0h1M5 366h1m3 0h1m8 0h1m8 0h1m29 0h1m1 0h2m8 0h1m2 0h2m7 0h1m5 0h1m10 0h1m10 0h1m5 0h1M10 367h1m12 0h1m6 0h1m5 0h1m8 0h1m13 0h1m10 0h1m2 0h1m15 0h1m5 0h1m23 0h1M16 368h2m5 0h1m2 0h2m5 0h1m57 0h1m3 0h1m7 0h1m2 0h1m23 0h1m14 0h1M10 369h1m4 0h1m2 0h1m16 0h1m9 0h1m3 0h1m29 0h1m3 0h1m3 0h1m15 0h1m4 0h2m20 0h1m4 0h1m9 0h1m9 0h1M6 370h1m2 0h1m42 0h1m30 0h1m2 0h1m23 0h1M11 371h1m3 0h1m13 0h1m7 0h1m7 0h1m99 0h1M15 372h1m2 0h1m11 0h1m21 0h1m21 0h1m24 0h1m3 0h1m17 0h1m23 0h1M7 373h1m11 0h2m40 0h1m14 0h1m5 0h1m15 0h1M9 374h1m18 0h2m5 0h1m35 0h1m11 0h1m2 0h1m8 0h1m3 0h1m3 0h1m6 0h1m10 0h1m18 0h1M5 375h1m6 0h1m16 0h1m6 0h1m3 0h1m16 0h1m21 0h1m5 0h1m18 0h1m6 0h1M6 376h1m9 0h1m1 0h1m12 0h1m26 0h1m22 0h1m9 0h1m4 0h2m52 0h1M8 377h2m11 0h1m2 0h1m13 0h1m12 0h1m1 0h1m2 0h1m2 0h1m30 0h1m10 0h1m23 0h1M9 378h1m15 0h1m14 0h1m18 0h1m3 0h1m12 0h1m8 0h1m7 0h1m36 0h1M9 379h1m10 0h1m8 0h1m17 0h1m12 0h1m9 0h1m2 0h1m3 0h1m4 0h1m19 0h1M21 380h1m2 0h2m31 0h1m14 0h1m5 0h1m6 0h1m14 0h1m5 0h1m12 0h1M6 381h1m3 0h1m7 0h1m11 0h1m2 0h1m34 0h1m18 0h1m5 0h1m4 0h1m11 0h1m29 0h1M15 382h1m2 0h1m3 0h1m6 0h1m2 0h1m7 0h1m2 0h1m1 0h2m5 0h1m17 0h1m10 0h1m4 0h1m20 0h1m5 0h1m1 0h1M7 383h1m15 0h1m2 0h1m8 0h1m4 0h1m1 0h1m11 0h1m2 0h1m2 0h1m12 0h1m31 0h1m39 0h1M8 384h1m78 0h1m18 0h1m1 0h1M15 385h1m6 0h1m1 0h1m32 0h2m16 0h1m12 0h1m2 0h1m2 0h2m6 0h1m5 0h1m4 0h1m1 0h1M11 386h1m28 0h2m54 0h1m12 0h1m45 0h1M9 387h1m24 0h1m9 0h1m16 0h1m13 0h1m10 0h1m32 0h1m3 0h1M17 388h1m33 0h1m2 0h1m3 0h2m21 0h1m2 0h1m1 0h1m21 0h1m2 0h1m7 0h1m10 0h1m14 0h1M13 389h1m15 0h1m4 0h1m17 0h2m1 0h2m10 0h1m21 0h1m13 0h1m1 0h1m2 0h1m10 0h1m10 0h1M8 390h1m21 0h1m6 0h1m8 0h1m4 0h1m1 0h1m18 0h1m6 0h1m28 0h1m10 0h1M32 391h1m8 0h1m31 0h1m7 0h1m9 0h1m4 0h1M7 392h1m3 0h2m1 0h1m13 0h1m4 0h1m17 0h1m13 0h1m1 0h1m3 0h1m3 0h1m13 0h1m40 0h1m14 0h1M18 393h1m5 0h1m12 0h1m5 0h1m12 0h1m10 0h1m7 0h1m4 0h1m12 0h1m9 0h1m13 0h1m12 0h1m14 0h1m4 0h1M5 394h1m3 0h1m1 0h1m2 0h1m9 0h1m8 0h1m10 0h1m6 0h1m40 0h1m20 0h1M5 395h1m4 0h1m134 0h1M10 396h1m37 0h1m64 0h1m1 0h1m9 0h1M5 397h1m3 0h2m19 0h1m17 0h2m7 0h1m1 0h1m2 0h1m8 0h1m34 0h1M13 398h1m6 0h1m2 0h1m8 0h1m17 0h1m38 0h1m5 0h2m22 0h1m10 0h1m9 0h1M12 399h1m15 0h1m1 0h1m2 0h1m16 0h1m7 0h1m2 0h1m7 0h1M7 400h1m9 0h2m6 0h1m28 0h1m4 0h1m5 0h1m15 0h1m1 0h1m15 0h1m2 0h1m12 0h1m9 0h1M10 401h1m2 0h1m29 0h1m8 0h1m12 0h1m3 0h1m1 0h1m4 0h1m1 0h1m8 0h1m1 0h1m9 0h1m3 0h1m1 0h1m1 0h1m3 0h1m43 0h1M25 402h1m11 0h1m12 0h1m20 0h1m1 0h1m7 0h1m19 0h2m1 0h1m14 0h1m20 0h1M20 403h1m9 0h1m20 0h1m11 0h1m5 0h1m1 0h1m6 0h1m17 0h1m1 0h1m22 0h1M29 404h1m33 0h1m71 0h1M42 405h1m19 0h1m1 0h1m16 0h1m19 0h1"/>
<path stroke="#481c6e" d="M58 12h1M58 14h1M95 16h1M58 17h1M12 21h1m132 0h1M58 22h1M26 23h1m5 0h1m32 0h1m2 0h1m66 0h1M26 24h1m11 0h1m26 0h1M32 25h1m5 0h1m19 0h1m6 0h1M29 26h1m14 0h1m2 0h1m7 0h2m10 0h1m3 0h2m4 0h1m4 0h1m30 0h1m1 0h1m3 0h1m3 0h1M32 27h1m5 0h1m56 0h1m12 0h1M17 28h1m34 0h1m15 0h1m6 0h1m15 0h1m5 0h1m5 0h1m6 0h1m34 0h1m4 0h1m4 0h1M16 29h1m5 0h1m5 0h1m4 0h1m12 0h1m21 0h1m2 0h1m15 0h1m5 0h2m5 0h1M13 30h2m11 0h1m2 0h1m8 0h1m9 0h1m2 0h1m20 0h1m16 0h1m2 0h1m12 0h1m1 0h1m7 0h1m9 0h1M30 31h1m13 0h1m48 0h1m6 0h1m1 0h1m6 0h1M41 32h1m21 0h1m16 0h1m8 0h1m7 0h1m10 0h1m21 0h1M11 33h1m6 0h1m11 0h1m7 0h1m4 0h1m1 0h1m9 0h1m8 0h1m8 0h1m2 0h1m2 0h1m17 0h1m3 0h1m43 0h1M32 34h1m30 0h1m4 0h1m4 0h1m3 0h1m4 0h1m7 0h1m2 0h1m1 0h1m10 0h1m2 0h1m7 0h1m27 0h1M10 35h1m1 0h1m12 0h1m47 0h1m7 0h1m1 0h1m2 0h1m2 0h1m16 0h1m16 0h1m11 0h1M15 36h1m5 0h4m7 0h1m3 0h1m39 0h1m6 0h1m20 0h1M11 37h1m1 0h1m3 0h1m11 0h1m2 0h4m12 0h1m1 0h1m14 0h1m2 0h1m13 0h2m7 0h1m10 0h1m1 0h1m5 0h1m24 0h1M8 38h1m15 0h1m32 0h1m12 0h2m30 0h1m16 0h1m15 0h1m4 0h1M8 39h1m1 0h1m46 0h2m36 0h1m17 0h1M13 40h1m1 0h1m14 0h1m4 0h1m2 0h1m21 0h1m6 0h1m17 0h1m15 0h1m5 0h1m1 0h1m45 0h1M74 41h1m1 0h1m5 0h1m5 0h1m8 0h1m5 0h2m8 0h1m16 0h1M5 42h1m9 0h1m9 0h1m15 0h1m9 0h1m38 0h1m2 0h1m6 0h1m7 0h1m10 0h1M35 43h2m18 0h1m9 0h1m18 0h1m1 0h1m5 0h1m14 0h1m47 0h1M38 44h2m5 0h1m36 0h1m11 0h1M25 45h1m13 0h1m3 0h1m1 0h3m32 0h1m23 0h1m8 0h1m1 0h1m1 0h1M6 46h2m33 0h1m16 0h2m9 0h1m20 0h1m9 0h1m5 0h1m2 0h1M37 47h1m3 0h1m18 0h2m6 0h1m6 0h1m41 0h1M94 48h1m6 0h1m33 0h1M13 49h1m2 0h1m2 0h1m7 0h1m10 0h1m10 0h1m5 0h1m1 0h1m3 0h2m2 0h2m4 0h1m3 0h1m7 0h1m2 0h1m38 0h1m4 0h1M6 50h1m12 0h1m10 0h1m11 0h1m8 0h1m6 0h1m1 0h1m5 0h1m34 0h1m3 0h1m13 0h1M7 51h1m24 0h1m7 0h1m13 0h1m3 0h1m13 0h1m6 0h1m9 0h1m7 0h1m5 0h1m19 0h1m11 0h1m9 0h1M8 52h2m6 0h1m2 0h2m14 0h1m15 0h1m6 0h2m16 0h1m17 0h1m2 0h1m4 0h1m4 0h1m1 0h2m29 0h1M28 53h1m2 0h1m4 0h1m3 0h2m15 0h2m3 0h1m10 0h1m12 0h1m21 0h1M12 54h2m10 0h1m21 0h2m2 0h1m6 0h1m12 0h2m26 0h1m14 0h1M36 55h1m33 0h1m3 0h2m5 0h1m1 0h1m71 0h1M17 56h1m10 0h1m14 0h1m19 0h1m7 0h1m6 0h1m1 0h1m17 0h1m5 0h1m3 0h1m6 0h1M7 57h1m53 0h1m26 0h1m26 0h1M8 58h1m15 0h2m3 0h1m40 0h1m40 0h1m9 0h1m1 0h1m16 0h1M5 59h1m2 0h1m24 0h1m1 0h1m39 0h1M6 60h1m8 0h1m13 0h1m2 0h1m6 0h1m29 0h1m9 0h2m12 0h1m5 0h1m17 0h1M6 61h1m1 0h1m23 0h1m4 0h1m1 0h1m10 0h1m1 0h1m7 0h1m11 0h1m12 0h1m6 0h1m1 0h1m4 0h1M12 62h1m46 0h1m19 0h1m11 0h1m16 0h1m4 0h1m5 0h1m30 0h1M9 63h1m3 0h1m29 0h1m17 0h1m19 0h1m1 0h1m11 0h1m39 0h1m14 0h1m4 0h1M56 64h1m22 0h1m7 0h1m9 0h1m12 0h1m10 0h1m1 0h1M9 65h2m13 0h1m24 0h1m11 0h1m17 0h2m10 0h1m2 0h1m10 0h1m11 0h1M10 66h1m20 0h1m2 0h1m6 0h1m10 0h1m3 0h1m2 0h2m7 0h1m7 0h1m3 0h2m19 0h2m3 0h1m23 0h1M34 67h1m5 0h1m2 0h1m14 0h1m10 0h2m24 0h1m3 0h1m4 0h1m18 0h1M16 68h1m62 0h1m13 0h1m1 0h1m1 0h1m27 0h1M16 69h1m29 0h1m57 0h1m1 0h1m38 0h1M5 70h1m21 0h1m10 0h1m10 0h1m2 0h1m6 0h1m2 0h1m31 0h1m45 0h1M26 71h1m2 0h1m12 0h1m18 0h1m13 0h1m8 0h1m14 0h2M8 72h1m43 0h1m4 0h1m2 0h1m30 0h2m9 0h1m16 0h1m3 0h1m11 0h1M11 73h1m2 0h1m9 0h1m44 0h2m1 0h1m1 0h1m3 0h1m15 0h1m2 0h1m52 0h1M5 74h1m20 0h1m30 0h1m7 0h1m1 0h1m20 0h1m12 0h1M13 75h1m25 0h1m30 0h1m5 0h1m16 0h1m12 0h2m15 0h1M9 76h1m26 0h1m2 0h1m1 0h1m20 0h1m13 0h1m1 0h1m12 0h2m8 0h1M11 77h1m13 0h1m21 0h1m11 0h1m33 0h1m1 0h1m27 0h1M5 78h1m9 0h1m8 0h1m12 0h2m10 0h1m29 0h1m3 0h2m4 0h1m8 0h1M22 79h1m39 0h1m25 0h1m1 0h1m22 0h1M5 80h2m3 0h1m6 0h1m8 0h2m46 0h1m65 0h1m4 0h1m9 0h1M8 81h1m66 0h1m15 0h1m2 0h1M12 82h1m11 0h1m10 0h1m4 0h1m4 0h1m46 0h2m19 0h1M22 83h1m36 0h1m15 0h1m64 0h1M12 84h1m17 0h1m13 0h2m7 0h1m7 0h1m3 0h1m10 0h1m19 0h1M11 85h1m8 0h1m21 0h1m16 0h1m3 0h1m1 0h1m4 0h1m3 0h1m33 0h1m26 0h1m14 0h1M35 86h1m24 0h1m17 0h1m2 0h1m73 0h1M30 87h1m13 0h1m9 0h1m2 0h1m16 0h1m5 0h1m20 0h1m19 0h1m8 0h1M18 88h1m2 0h1m6 0h1m16 0h1m10 0h1m1 0h1m6 0h1m16 0h1m14 0h1m7 0h1m44 0h1M18 89h1m10 0h1m5 0h1m3 0h1m22 0h1m37 0h1M15 90h1m16 0h2m21 0h1m13 0h1m28 0h2m9 0h1m13 0h1M12 91h1m5 0h1m4 0h1m10 0h1m6 0h1m3 0h1m8 0h2m20 0h1m19 0h1m4 0h1m7 0h1m40 0h1M33 92h1m10 0h1m10 0h1m1 0h1m35 0h1m7 0h1m7 0h1m11 0h1m28 0h1m4 0h1M20 93h1m4 0h1m13 0h1m5 0h1m2 0h1m2 0h1m18 0h1m2 0h1m3 0h1m25 0h1m7 0h1M8 94h1m9 0h1m3 0h1m24 0h1m8 0h1m2 0h1m19 0h1m17 0h1m3 0h1m7 0h1m3 0h1M18 95h1m27 0h1m18 0h1m14 0h1m1 0h1m4 0h1m37 0h1M10 96h1m22 0h1m3 0h1m2 0h1m43 0h1m19 0h1m2 0h1m5 0h1m31 0h1M42 97h2m9 0h1m10 0h1m12 0h1m2 0h1m7 0h1m13 0h1m42 0h1M12 98h1m2 0h1m8 0h1m3 0h1m17 0h2m5 0h1m20 0h1m27 0h1m18 0h1m1 0h1M10 99h1m23 0h1m11 0h1m1 0h1m24 0h1m35 0h1M13 100h1m4 0h1m2 0h1m3 0h1m21 0h1m21 0h1m3 0h3m2 0h1m14 0h1M11 101h1m10 0h1m53 0h1m25 0h2m7 0h1m18 0h1M7 102h1m9 0h1m33 0h1m4 0h1m11 0h1m3 0h1m2 0h1m2 0h1m1 0h1m38 0h1m25 0h1M5 103h1m25 0h1m18 0h3m4 0h1m4 0h1m2 0h1m49 0h1m1 0h1M6 104h1m39 0h1m1 0h1m12 0h1m10 0h1m1 0h1m7 0h1m12 0h1m23 0h1M6 105h1m4 0h1m12 0h1m38 0h1m29 0h1m1 0h1m4 0h1m3 0h1M11 106h1m5 0h1m39 0h1m26 0h1m5 0h1M7 107h1m1 0h2m4 0h1m1 0h1m18 0h1m9 0h1m4 0h1m26 0h1m3 0h1m10 0h1m11 0h1m3 0h1m25 0h1M21 108h1m3 0h1m5 0h2m22 0h1m12 0h1m28 0h1m4 0h1m10 0h1M9 109h1m39 0h1m18 0h1m11 0h1m7 0h1m11 0h1m2 0h1m15 0h1M8 110h1m19 0h1m16 0h1m17 0h1m12 0h1m21 0h1m12 0h1m43 0h1M24 111h1m6 0h1m3 0h1m10 0h1m14 0h1m14 0h1m4 0h3m29 0h1m3 0h1M19 112h1m19 0h1m39 0h1m26 0h1M12 113h1m13 0h2m2 0h1m40 0h1m19 0h1M37 114h1m6 0h2m6 0h1m70 0h1M8 115h1m20 0h1m3 0h1m23 0h1m4 0h1m4 0h1m1 0h1m20 0h1m17 0h1m16 0h1M29 116h1m32 0h1m4 0h1m32 0h1M22 117h1m1 0h1m5 0h1m9 0h1m26 0h1m34 0h1M20 118h1m9 0h1m2 0h1m5 0h1m5 0h1m8 0h1m20 0h1m27 0h1m6 0h1m4 0h1M49 119h1m9 0h1m20 0h1m11 0h1m2 0h1m19 0h1M20 120h1m3 0h1m34 0h1m14 0h1m18 0h1m6 0h1m22 0h1M33 121h1m22 0h1m7 0h1m20 0h1m21 0h1M15 122h1m3 0h1m41 0h1m1 0h1m39 0h1M19 123h1m4 0h1m6 0h1m45 0h1m24 0h1m3 0h1M15 124h1m23 0h1m4 0h1m7 0h1m2 0h1m4 0h1m10 0h1m28 0h2m3 0h1m15 0h1m13 0h1M8 125h1m2 0h1m10 0h1m1 0h1m47 0h1m10 0h1m4 0h1m6 0h2m38 0h1M19 126h1m10 0h1m41 0h1m16 0h1m2 0h1m5 0h2M35 127h1m40 0h1m4 0h1m53 0h1M20 128h1m2 0h1m11 0h1m2 0h1m39 0h1m9 0h1m3 0h1m17 0h1M14 129h1m5 0h1m3 0h2m20 0h1m5 0h1m7 0h1m33 0h1m16 0h1m38 0h1M18 130h1m4 0h1m4 0h1m12 0h1m19 0h3m9 0h1m7 0h1m21 0h1m19 0h1M32 131h1m4 0h1m10 0h1m2 0h1m9 0h1m9 0h1m12 0h1m10 0h1m14 0h1m14 0h1M13 132h2m2 0h1m5 0h1m22 0h1m8 0h2m10 0h1m7 0h1m8 0h1m8 0h1M18 133h2m1 0h1m1 0h1m44 0h1m6 0h2m3 0h1m12 0h1M17 134h1m3 0h1m7 0h2m4 0h1m9 0h1m6 0h1m1 0h1m3 0h2m37 0h1m1 0h1m15 0h1M18 135h1m4 0h1m3 0h1m5 0h1m2 0h1m7 0h1m26 0h1m12 0h1m2 0h1m15 0h1M38 136h1m17 0h1m20 0h1m31 0h1M12 137h1m9 0h1m7 0h1m1 0h1m10 0h1m23 0h1m3 0h1m14 0h2m12 0h1m14 0h1m1 0h1m5 0h1M5 138h1m5 0h1m10 0h1m23 0h1m31 0h1m16 0h1m2 0h1M9 139h2m1 0h1m74 0h1m12 0h1m3 0h1m14 0h1m1 0h1M6 140h1m20 0h1m9 0h1m16 0h1m14 0h1m16 0h1m12 0h1m2 0h1M6 141h1m7 0h1m34 0h1m9 0h1m10 0h1m52 0h1m21 0h1M5 142h1m7 0h1m14 0h1m21 0h1m17 0h1m3 0h1m13 0h1m23 0h1m39 0h1M15 143h1m25 0h1m15 0h1m20 0h1m6 0h1m3 0h1m12 0h1M10 144h1m4 0h1m1 0h1m4 0h1m10 0h1m11 0h1m21 0h1m33 0h1m9 0h1M24 145h1m17 0h1m9 0h1m14 0h1m11 0h1m26 0h1m4 0h1m28 0h1m4 0h1M16 146h1m21 0h1m2 0h1m9 0h1m15 0h1m2 0h1m34 0h1M14 147h1m8 0h1m36 0h1m26 0h1m1 0h1m4 0h1m1 0h1m3 0h1M12 148h1m16 0h1m9 0h1m54 0h1m2 0h1m47 0h1m9 0h1M21 149h1m23 0h1m18 0h1m5 0h1m12 0h1m4 0h1m22 0h1M6 150h1m14 0h1m22 0h1m2 0h1m13 0h1m13 0h1m27 0h1M19 151h1m2 0h1m7 0h1m6 0h1m3 0h1m4 0h1m34 0h1m29 0h1m18 0h1M13 152h1m21 0h1m43 0h1m2 0h1m1 0h1m10 0h1M6 153h1m4 0h1m4 0h1m5 0h1m4 0h1m12 0h1m1 0h1m25 0h1m2 0h1m7 0h1m22 0h1m6 0h1m7 0h1m12 0h1M7 154h1m69 0h1m3 0h1m2 0h1m1 0h1m21 0h1M14 155h1m22 0h1m11 0h1m4 0h1m11 0h1m38 0h1M22 156h1m7 0h2m14 0h1m6 0h1m32 0h1m9 0h1m14 0h1m5 0h1m17 0h1M12 157h1m45 0h1m3 0h1m5 0h1m23 0h1m3 0h1m48 0h1M27 158h1m9 0h1m24 0h1m36 0h1m2 0h2M28 159h1m8 0h2m7 0h1m1 0h1m37 0h1m5 0h1m22 0h1m9 0h1m4 0h1m19 0h1M13 160h1m12 0h1m9 0h1m12 0h1m2 0h1m2 0h1M7 161h1m10 0h1m2 0h1m24 0h1m1 0h1m8 0h1m7 0h1m49 0h1m1 0h1M13 162h1m34 0h1m10 0h1m3 0h1m25 0h1m16 0h1m4 0h1m7 0h1M12 163h1m26 0h1m5 0h1m10 0h1m19 0h1m19 0h1m22 0h1M10 164h1m4 0h1m8 0h1m15 0h1m2 0h1m1 0h2m10 0h2m17 0h1m7 0h1m3 0h1m1 0h1M22 165h1m22 0h1m35 0h1m3 0h1m7 0h1m6 0h1m8 0h2m24 0h1M8 166h1m33 0h1m3 0h1m10 0h1m7 0h1m18 0h1m6 0h1m2 0h1m12 0h1m2 0h2M21 167h1m2 0h1m6 0h1m15 0h1m1 0h1m6 0h1m11 0h1m42 0h1m1 0h1M12 168h1m6 0h1m23 0h1m9 0h1m4 0h1m2 0h1m4 0h1m3 0h1m10 0h1m12 0h1m24 0h1M9 169h1m12 0h1m8 0h1m10 0h1m2 0h1m8 0h1m23 0h1m23 0h1m8 0h1M11 170h1m7 0h1m9 0h2m21 0h1m39 0h1m6 0h1m5 0h1M8 171h1m9 0h1m10 0h1m6 0h1m3 0h1m21 0h1m4 0h1m2 0h2m12 0h1m15 0h1m44 0h1M7 172h1m44 0h1m7 0h1m6 0h2m9 0h1M21 173h1m23 0h1m67 0h1M7 174h1m4 0h1m1 0h1m3 0h1m6 0h1m8 0h1m14 0h1m36 0h1m32 0h1M8 175h1m8 0h1m6 0h1m3 0h1m7 0h2m7 0h1m4 0h2m7 0h1m12 0h1m21 0h1m7 0h1m1 0h1m1 0h1M7 176h1m65 0h1m8 0h1m23 0h1M7 177h1m22 0h1m2 0h1m7 0h1m3 0h1m7 0h1m12 0h1m12 0h1m2 0h1m8 0h1m4 0h1m2 0h1m17 0h1m5 0h1m11 0h1m9 0h1m9 0h1M14 178h1m8 0h1m9 0h1m5 0h1m7 0h2m21 0h1m19 0h1m3 0h1m1 0h1m14 0h1m1 0h1m16 0h1M22 179h1m8 0h1m1 0h1m14 0h1m13 0h1m39 0h1m20 0h1m1 0h1M42 180h1m4 0h1m15 0h1m16 0h1m23 0h1m10 0h1M11 181h1m3 0h1m11 0h1m3 0h1m27 0h1m8 0h1m3 0h1m7 0h1m2 0h1m10 0h1m10 0h1m13 0h1M5 182h1m24 0h1m4 0h1m13 0h1m26 0h1m4 0h1m8 0h1m9 0h1m2 0h1m7 0h1m9 0h1M12 183h1m6 0h1m5 0h1m20 0h1m1 0h1m13 0h1m24 0h2M38 184h1m17 0h1m10 0h1m4 0h1m5 0h1m8 0h1m47 0h1m9 0h1M20 185h2m15 0h1m18 0h1m15 0h2m4 0h1m7 0h1m17 0h2M5 186h1m8 0h1m22 0h1m19 0h1m28 0h1m24 0h1m43 0h1M14 187h1m2 0h1m17 0h1m11 0h1m20 0h1m4 0h3M6 188h1m10 0h1m3 0h1m15 0h1m6 0h1m1 0h1m4 0h1m1 0h1m28 0h1m1 0h1m2 0h1m15 0h1m3 0h1m1 0h2M22 189h1m1 0h1m11 0h1m14 0h1m11 0h1m7 0h1m2 0h1m16 0h1m21 0h1m9 0h1M39 190h1m12 0h1m15 0h1m17 0h1m17 0h1M36 191h1m1 0h1m5 0h1m4 0h1m25 0h1m26 0h1m5 0h1m10 0h1m10 0h1m9 0h1M36 192h1m28 0h1m33 0h1m13 0h1m16 0h1m4 0h1M10 193h1m6 0h1m1 0h1m47 0h1m6 0h1m5 0h1m14 0h1m2 0h1M12 194h1m1 0h1m7 0h1m8 0h1m35 0h1m8 0h1m3 0h1M10 195h1m10 0h1m8 0h1m9 0h1m49 0h1m26 0h1M17 196h1m5 0h2m2 0h1m21 0h1m16 0h1m17 0h1m1 0h1m6 0h1M5 197h1m1 0h1m1 0h1m43 0h1m14 0h1m44 0h1M34 198h1m22 0h1m16 0h1m48 0h1m1 0h1m4 0h1M12 199h1m16 0h1m14 0h1m11 0h1m16 0h1m51 0h1M26 200h1m17 0h1m14 0h1m3 0h1m18 0h1m28 0h1M6 201h1m25 0h1m1 0h1m16 0h1m13 0h1m15 0h1m5 0h1m8 0h1m12 0h1m20 0h1M17 202h1m4 0h1m57 0h1M10 203h1m17 0h1m11 0h1m12 0h2m25 0h1m3 0h1m11 0h1M21 204h1m31 0h1m16 0h1m10 0h1m2 0h2m25 0h1m3 0h1m3 0h1m1 0h1m3 0h1m29 0h1M5 205h2m15 0h1m11 0h1m15 0h1m7 0h1m8 0h1m19 0h1m29 0h1M5 206h1m5 0h1m13 0h1m7 0h1m1 0h1m11 0h1m5 0h1m59 0h1m21 0h1m4 0h1M37 207h1m19 0h1m44 0h1m7 0h1m2 0h1M10 208h1m10 0h1m4 0h1m30 0h1m24 0h1m12 0h1m12 0h1M25 209h1m5 0h2m13 0h1m1 0h1m17 0h1m13 0h1m1 0h1m7 0h1m14 0h1m24 0h1M48 210h1m2 0h1m28 0h1m10 0h1m6 0h1m18 0h1m3 0h1m8 0h1M5 211h1m2 0h1m8 0h1m16 0h1m30 0h1m3 0h1m25 0h1m14 0h1M16 212h1m9 0h1m9 0h1m10 0h1m3 0h1m6 0h1m6 0h1m16 0h1m23 0h1m16 0h1m1 0h1m9 0h1m19 0h1M8 213h2m5 0h1m2 0h1m15 0h2m7 0h1m2 0h1m10 0h1m28 0h1m5 0h1M11 214h1m14 0h1m35 0h1m24 0h1m8 0h1m2 0h1m3 0h1m51 0h1M32 215h1m53 0h2m25 0h1M8 216h1m34 0h1m20 0h1m7 0h1M7 217h1m9 0h1m12 0h1m2 0h1m42 0h1m1 0h1m11 0h1m8 0h1m9 0h1M10 218h1m6 0h1m34 0h1m15 0h2m29 0h1m10 0h1m12 0h1m11 0h1M19 219h1m6 0h1m6 0h1m27 0h1m11 0h1m21 0h1M14 220h1m13 0h1m7 0h1m8 0h1m2 0h1m1 0h1m16 0h1m14 0h1m4 0h1m31 0h1m5 0h1m19 0h1M28 221h1m13 0h1m28 0h1m38 0h1M31 222h1m1 0h1m6 0h1m25 0h1m3 0h1m1 0h1m8 0h1m1 0h1m35 0h1m10 0h1M10 223h1m25 0h1m67 0h1M15 224h1m3 0h1m27 0h1m35 0h1m1 0h1m1 0h1m6 0h1m4 0h1m3 0h1m46 0h1m4 0h1M39 225h1m1 0h1m1 0h1m11 0h1m8 0h1m6 0h1m13 0h1m1 0h2m3 0h1m10 0h2m3 0h1M16 226h1m8 0h1m29 0h1m9 0h1m14 0h1m28 0h2m2 0h1m7 0h1M12 227h2m2 0h1m11 0h1m21 0h1m3 0h1m5 0h1m7 0h1m5 0h1M41 228h1m22 0h1m11 0h1m6 0h3m4 0h1m10 0h1M39 229h1m9 0h1m3 0h1m41 0h1m13 0h1m45 0h1M18 230h2m10 0h1m32 0h2m4 0h1m3 0h2m5 0h1m38 0h1m10 0h1M9 231h1m4 0h1m16 0h1m14 0h1m12 0h1m3 0h1m10 0h1m1 0h1m2 0h2m16 0h1m17 0h1M14 232h2m4 0h1m10 0h1m38 0h1m8 0h1m5 0h1m2 0h2m16 0h2m17 0h1M33 233h1m5 0h1m39 0h1m10 0h1m4 0h1m8 0h1m18 0h1M17 234h1m16 0h1m31 0h1m39 0h2m15 0h1M6 235h1m38 0h1m14 0h1m11 0h1m11 0h1m55 0h1M10 236h1m13 0h1m8 0h1m15 0h1m15 0h1m74 0h1M5 237h1m24 0h1m9 0h1m17 0h1m5 0h1m9 0h1m7 0h1m15 0h1m5 0h1m30 0h1m4 0h1M11 238h1m2 0h1m9 0h1m10 0h1m1 0h1m7 0h1m2 0h1m14 0h1m1 0h1m12 0h1m5 0h1m17 0h1m1 0h2m13 0h1M9 239h1m6 0h1m55 0h1m10 0h1m31 0h1M10 240h1m2 0h1m15 0h1m3 0h1m12 0h1m44 0h1m6 0h1m3 0h1M9 241h1m34 0h3m15 0h1m4 0h1m34 0h1m8 0h1m33 0h1M18 242h1m5 0h1m2 0h1m12 0h1m3 0h1m11 0h1m22 0h1m8 0h1m1 0h2m3 0h1M23 243h1m4 0h1m11 0h1m6 0h1m5 0h1m1 0h1m9 0h2m26 0h1m11 0h1m49 0h1M15 244h1m7 0h1m10 0h1m21 0h1m1 0h2m2 0h1m18 0h1m10 0h1m17 0h1M12 245h1m36 0h1m9 0h1m19 0h1M10 246h1m8 0h1m6 0h1m31 0h1m13 0h1m8 0h1m7 0h1m3 0h1m9 0h1m1 0h2m12 0h1m25 0h1M9 247h1m29 0h2m14 0h1m49 0h1M9 248h1m5 0h1m10 0h1m6 0h1m3 0h1m17 0h1m1 0h1m4 0h1m8 0h1M48 249h1m1 0h1m4 0h1m15 0h1m4 0h2m17 0h1m49 0h1M18 250h2m3 0h1m7 0h1m60 0h1m3 0h1m6 0h1m2 0h1M12 251h1m29 0h1m17 0h1m7 0h1m20 0h1m11 0h2m5 0h1m26 0h1M5 252h1m3 0h1m5 0h1m38 0h1m2 0h1m23 0h1m43 0h1m24 0h1M23 253h1m13 0h1m8 0h1m13 0h1m22 0h1m1 0h1M13 254h1m1 0h1m9 0h1m6 0h1m10 0h1m4 0h1m17 0h1m2 0h1m3 0h1m1 0h1m13 0h1M25 255h1m9 0h1m7 0h1m2 0h1m9 0h1m39 0h1m9 0h1m1 0h1m6 0h1m3 0h1m35 0h1M12 256h1m7 0h1m3 0h1m13 0h1m17 0h1m28 0h1m6 0h1m7 0h1M7 257h2m10 0h1m3 0h1m1 0h1m7 0h1m43 0h1m41 0h1m3 0h1m21 0h1M7 258h1m2 0h1m24 0h1m3 0h1m22 0h1m10 0h1m24 0h1m36 0h1M19 259h1m19 0h2m21 0h1m8 0h1m19 0h1m18 0h1M26 260h1m7 0h1m5 0h1m3 0h1m53 0h1m3 0h2m2 0h1M6 261h2m18 0h1m10 0h1m2 0h1m21 0h1m13 0h1m6 0h1m4 0h1m24 0h1m11 0h1M18 262h1m20 0h1m1 0h1m15 0h1m9 0h1m15 0h1m5 0h1m17 0h1m27 0h1M7 263h1m15 0h1m10 0h1m17 0h1m3 0h1m21 0h1m7 0h1m14 0h1m2 0h1m14 0h1m35 0h1M11 264h1m1 0h2m8 0h1m1 0h1m1 0h1m1 0h1m27 0h1m15 0h1m12 0h1m20 0h1M5 265h1m3 0h1m3 0h1m2 0h1m24 0h1m5 0h1m9 0h1m2 0h1m9 0h1m2 0h1m30 0h2m2 0h1M5 266h2m13 0h1m1 0h1m11 0h1m10 0h1m13 0h1m8 0h1m11 0h1m7 0h1m9 0h1m20 0h1m25 0h1m9 0h1M7 267h1m8 0h1m18 0h1m34 0h1m16 0h1M55 268h1m37 0h1m27 0h1M31 269h1m11 0h1m8 0h2m1 0h1m4 0h1m16 0h1m14 0h1m18 0h1M29 270h1m39 0h1m8 0h1m5 0h1m2 0h1m13 0h1m1 0h1m6 0h2M8 271h1m2 0h1m21 0h1m6 0h1m9 0h1m12 0h1m6 0h1m20 0h1m4 0h1M10 272h1m17 0h1m4 0h2m1 0h1m18 0h1m6 0h1m4 0h1m11 0h1m11 0h1m19 0h1m1 0h1m3 0h1m5 0h1M7 273h1m11 0h1m16 0h1m20 0h1m13 0h1m25 0h1m12 0h1m12 0h1M23 274h1m7 0h1m4 0h1m8 0h1m4 0h1m9 0h1m19 0h1m26 0h1m1 0h1m40 0h1M21 275h1m29 0h1m16 0h1m11 0h1m9 0h1m9 0h1m49 0h1M17 276h1m3 0h1m10 0h1m13 0h1m21 0h1m2 0h4m23 0h1M16 277h3m30 0h1m30 0h1m10 0h1m25 0h1M8 278h2m20 0h1m4 0h1m45 0h1m8 0h1m8 0h1M25 279h1m2 0h1m2 0h1m14 0h1m18 0h1m8 0h1m6 0h1M13 280h1m3 0h1m39 0h1m13 0h2m2 0h2m1 0h1m2 0h1m25 0h1m9 0h1m5 0h1M8 281h1m2 0h1m6 0h1m10 0h1m15 0h1m4 0h1m42 0h1m41 0h1M14 282h1m24 0h1m6 0h1m1 0h1m12 0h1m5 0h1m14 0h1m6 0h1m6 0h1m2 0h1m8 0h1m10 0h1M11 283h1m28 0h1m12 0h1m2 0h1m39 0h1m6 0h1m13 0h1M30 284h1m9 0h1m28 0h1m18 0h1m7 0h1M7 285h1m8 0h1m5 0h2m4 0h1m7 0h1m2 0h1m13 0h2m2 0h1m14 0h1m26 0h1m2 0h1m10 0h1m36 0h1M8 286h1m12 0h1m2 0h1m6 0h1m3 0h1m2 0h1m8 0h1m5 0h1m16 0h1m1 0h1m3 0h1m78 0h1M5 287h1m4 0h1m30 0h1m11 0h1m5 0h1m5 0h1m5 0h1m28 0h1M5 288h1m7 0h1m11 0h1m12 0h1m21 0h1m16 0h1m8 0h1m26 0h1M6 289h1m20 0h1m1 0h1m1 0h1m23 0h1m20 0h1m18 0h1m3 0h1m19 0h1m30 0h1M15 290h2m13 0h1m13 0h1m41 0h1M18 291h1m6 0h1m48 0h1m23 0h1m26 0h1M18 292h1m3 0h1m15 0h1m11 0h1m9 0h2m2 0h1m14 0h1m18 0h1M5 293h1m46 0h1m17 0h1m16 0h1m3 0h1m3 0h1m44 0h1M8 294h2m23 0h1m2 0h1m57 0h1m12 0h1M9 295h2m20 0h1m10 0h1m2 0h1m9 0h1m63 0h1M5 296h1m13 0h1m1 0h1m15 0h1m1 0h1m11 0h1m10 0h1m2 0h1m28 0h1M12 297h1m4 0h1m2 0h1m16 0h1m15 0h1m2 0h1m1 0h1m10 0h1m13 0h1m6 0h1m32 0h1M7 298h1m15 0h2m10 0h1m1 0h1m3 0h1m27 0h1m4 0h1m1 0h1m3 0h2m9 0h1M28 299h1m6 0h1m41 0h2m15 0h1m10 0h1m3 0h1M12 300h1m13 0h1m12 0h1m10 0h1m32 0h1m13 0h1m9 0h1m7 0h1M26 301h1m18 0h1m4 0h1m16 0h1m2 0h1m19 0h1m2 0h1m7 0h1M19 302h1m4 0h1m33 0h1m2 0h1m1 0h1m4 0h1m1 0h1m1 0h1m32 0h1m3 0h1M37 303h2m43 0h1m5 0h1m46 0h1M14 304h1m12 0h1m5 0h1m11 0h1m24 0h1m6 0h1m7 0h1m8 0h1m3 0h1m9 0h1m41 0h1M14 305h2m7 0h1m1 0h1m19 0h1m7 0h1m12 0h1m11 0h1m3 0h1m5 0h1m12 0h1M9 306h1m14 0h1m6 0h1m74 0h1m12 0h1M16 307h1m14 0h1m14 0h1m14 0h1m11 0h1m11 0h2m6 0h1m10 0h2m13 0h1m5 0h1m19 0h1M23 308h1m7 0h1m22 0h1m2 0h1m7 0h2m15 0h1m21 0h1m18 0h1M30 309h1m41 0h1m72 0h1M8 310h1m44 0h1m54 0h1m6 0h1M6 311h1m2 0h1m1 0h1m7 0h1m2 0h1m14 0h1m3 0h1m2 0h1m32 0h1m14 0h1M23 312h2m3 0h1m16 0h1m2 0h1m10 0h1m5 0h1m5 0h1m14 0h2m11 0h1m9 0h1M30 313h1m1 0h1m16 0h1m4 0h1m1 0h1m19 0h1m8 0h1M10 314h1m1 0h1m5 0h1m3 0h1m2 0h1m3 0h1m4 0h2m4 0h1m17 0h1m7 0h1m13 0h1m7 0h2m60 0h1M10 315h1m2 0h1m14 0h1m34 0h1m24 0h3M39 316h1m4 0h1m18 0h1m3 0h1m6 0h1m1 0h2m10 0h1m9 0h1m31 0h1M5 317h1m7 0h2m50 0h1m27 0h1m16 0h1M29 318h2m1 0h1m26 0h1m38 0h2m10 0h1m6 0h1M14 319h1m2 0h1m6 0h1m13 0h1m13 0h1m14 0h1m1 0h1m2 0h2m1 0h1m25 0h1M7 320h2m5 0h1m10 0h1m10 0h1m8 0h1m17 0h1m23 0h1m22 0h1m10 0h1m18 0h1m4 0h1M18 321h1m23 0h1m22 0h2m15 0h1m38 0h1m33 0h1M21 322h1m15 0h1m33 0h1m1 0h1m18 0h1m20 0h1m21 0h1M6 323h1m14 0h1m8 0h2m15 0h1m3 0h1m7 0h1m1 0h1m30 0h1m14 0h1m32 0h1M13 324h1m5 0h1m24 0h1m3 0h1m7 0h1m16 0h1m10 0h1m7 0h2m14 0h1m26 0h1M34 325h1m8 0h1m54 0h1m22 0h1M5 326h1m1 0h1m3 0h1m22 0h1m41 0h1m6 0h1m5 0h1m6 0h1m6 0h1M7 327h1m9 0h1m1 0h1m3 0h1m7 0h1m4 0h1m1 0h1m14 0h1m34 0h1m5 0h2m4 0h1m7 0h1m1 0h1m10 0h1M8 328h1m18 0h1m24 0h1m1 0h1m19 0h1m3 0h1m21 0h1M5 329h1m10 0h1m15 0h1m14 0h1m4 0h1m1 0h1m23 0h1m4 0h1m46 0h1m4 0h1M17 330h1m4 0h1m14 0h2m3 0h1m12 0h1m4 0h1m7 0h1m20 0h1m6 0h1M43 331h1m16 0h2m23 0h1m24 0h1m34 0h1M29 332h1m19 0h1m3 0h1M7 333h2m39 0h1m2 0h1m8 0h1m2 0h1m14 0h1m3 0h1m27 0h1m34 0h1M8 334h1m11 0h1m12 0h1m4 0h1m12 0h1m52 0h1m1 0h1m28 0h1m4 0h1M7 335h1m62 0h1m7 0h1m15 0h1m2 0h1M6 336h1m2 0h1m11 0h1m53 0h1m6 0h1m6 0h1m10 0h1M18 337h1m25 0h1m27 0h1m1 0h1m19 0h1m28 0h1M15 338h1m27 0h1m17 0h1m8 0h2m19 0h1m3 0h1m13 0h2m8 0h1m15 0h1m9 0h1M5 339h1m12 0h1m21 0h1m38 0h1m6 0h1m36 0h1M45 340h1m4 0h1m1 0h1m7 0h1m20 0h1m6 0h1m2 0h1m3 0h1m10 0h2m13 0h1m33 0h1M18 341h1m5 0h1m24 0h1m22 0h1m6 0h1m11 0h1m21 0h1m41 0h1M14 342h1m24 0h1m27 0h1m14 0h1m7 0h1M30 343h1m12 0h1m30 0h1m5 0h1m5 0h1m12 0h1m21 0h1m33 0h1M6 344h2m1 0h2m22 0h1m15 0h1m8 0h1m2 0h1m1 0h1m3 0h1m8 0h1m7 0h1m14 0h1m4 0h1m20 0h1M40 345h1m2 0h1m24 0h1m4 0h1m26 0h1m3 0h1m12 0h1m1 0h1m20 0h1m14 0h1M17 346h2m2 0h1m13 0h1m2 0h1m33 0h2m3 0h1m2 0h1m19 0h1m2 0h1m9 0h1m16 0h1m14 0h1M7 347h1m21 0h1m1 0h1m18 0h1m5 0h1m26 0h1m18 0h1m8 0h1M12 348h1m33 0h1m1 0h1m9 0h1m29 0h1m5 0h1m1 0h1m9 0h1m3 0h2m11 0h1m21 0h1M13 349h1m11 0h1m20 0h1m4 0h1m24 0h1m14 0h1m53 0h1M5 350h1m9 0h1m3 0h1m4 0h1m46 0h1m23 0h1m25 0h1m13 0h1M51 351h1m43 0h1m14 0h1m8 0h1m10 0h1M22 352h1m17 0h1m5 0h1m3 0h1m1 0h1m5 0h1m1 0h1m14 0h1m15 0h1m31 0h1M9 353h1m56 0h1m14 0h1m22 0h1m30 0h1M24 354h1m38 0h1m40 0h1m4 0h1m1 0h1m5 0h1M9 355h1m11 0h1m11 0h1m5 0h1m7 0h1m30 0h1M29 356h2m18 0h1m28 0h1m42 0h1m8 0h1m9 0h1M26 357h1m7 0h1m12 0h1m7 0h1m5 0h1m3 0h1m13 0h1m19 0h1m21 0h1M9 358h1m3 0h1m17 0h1m21 0h1m13 0h1m67 0h1M7 359h1m2 0h1m3 0h1m53 0h1m2 0h1m9 0h2m1 0h1m2 0h1m67 0h1M85 360h1M24 361h2m1 0h1m25 0h1m5 0h1m21 0h1m17 0h2M15 362h1m5 0h1m37 0h1m20 0h2m7 0h1m31 0h1m3 0h1M43 363h1m9 0h1m3 0h1m5 0h1m3 0h1m13 0h1m6 0h1m20 0h2m2 0h1m9 0h1M53 364h1m19 0h1m6 0h1m9 0h1m26 0h1m17 0h1m14 0h1M5 365h1m19 0h1m12 0h1m14 0h1m14 0h1m29 0h1m20 0h1m35 0h1M7 366h1m13 0h1m18 0h1m3 0h1m4 0h1m26 0h1m29 0h2M8 367h1m2 0h1m3 0h1m9 0h1m11 0h2m7 0h1m10 0h1m25 0h1m19 0h2m4 0h1m5 0h1m19 0h1M7 368h1m6 0h1m4 0h1m9 0h1m45 0h1m45 0h1M22 369h1m17 0h1m13 0h1m3 0h1m14 0h1m3 0h1m7 0h2m8 0h1m10 0h1M14 370h1m3 0h1m13 0h1m2 0h1m1 0h1m6 0h1m4 0h1m1 0h1m15 0h1m4 0h1m4 0h1m2 0h1m9 0h1M22 371h1m9 0h1m7 0h1m1 0h1m7 0h3m12 0h1m6 0h1m10 0h1m8 0h1m26 0h1M10 372h1m20 0h1m4 0h1m4 0h1m7 0h1m4 0h1m6 0h1m7 0h1m7 0h1m5 0h1m22 0h1M10 373h1m27 0h1m27 0h1m24 0h1m1 0h1m15 0h1m15 0h1M11 374h1m7 0h3m8 0h1m7 0h1m3 0h1m14 0h1m27 0h1m4 0h2m1 0h2m3 0h1M7 375h1m12 0h1m3 0h1m7 0h1m5 0h1m3 0h1m2 0h1m2 0h1m21 0h1m23 0h2m4 0h1m16 0h1M10 376h1m9 0h1m14 0h2m7 0h1m6 0h1m17 0h1m30 0h1m18 0h1M11 377h1m21 0h1m18 0h1m9 0h1m6 0h1m1 0h1m1 0h1m4 0h1m6 0h1m11 0h1M16 378h1m5 0h1m3 0h1m1 0h1m3 0h1m1 0h1m8 0h1m11 0h1m14 0h1m1 0h1m13 0h1m5 0h1m4 0h1m15 0h1m21 0h1M10 379h2m14 0h1m3 0h1m13 0h1m14 0h1m15 0h1m3 0h1m8 0h1m19 0h1m6 0h1m1 0h1m17 0h1m4 0h1M8 380h1m17 0h1m5 0h1m9 0h1m20 0h1m6 0h1m8 0h1m28 0h1M37 381h1m37 0h1m29 0h1m13 0h1M7 382h1m17 0h2m11 0h1m24 0h1m8 0h1m2 0h1m19 0h1m6 0h1m5 0h1m46 0h1M20 383h1m22 0h1m15 0h1m12 0h1m1 0h1m1 0h1m21 0h1m3 0h1m4 0h1m5 0h1M11 384h1m15 0h1m39 0h1m32 0h1M26 385h2m37 0h1m2 0h1m14 0h1M5 386h1m14 0h1m2 0h1m10 0h1m20 0h1m1 0h1m8 0h1m35 0h1m14 0h1m27 0h1M17 387h1m5 0h1m8 0h1m2 0h1m62 0h1M21 388h1m21 0h1m17 0h1m1 0h1m32 0h1m2 0h1m7 0h1M7 389h1m16 0h1m8 0h1m2 0h1m21 0h1m35 0h1m1 0h1m9 0h1m2 0h1M9 390h1m37 0h1m41 0h1m17 0h1M6 391h1m18 0h1m23 0h1m3 0h1m11 0h2m21 0h1m13 0h1M66 392h1m18 0h1m4 0h1m15 0h3m12 0h1M9 393h1m9 0h2m12 0h1m10 0h1m4 0h1m40 0h1m17 0h1m4 0h1M21 394h1m4 0h1m32 0h1m8 0h1m19 0h1m16 0h1m2 0h2M14 395h1m9 0h1m36 0h1m12 0h1m11 0h1m18 0h1m7 0h1M9 396h1m27 0h1m3 0h1m13 0h1m48 0h2m1 0h1M17 397h1m7 0h1m17 0h1m16 0h1m27 0h1m12 0h1m2 0h1m10 0h1M25 398h1m4 0h1m39 0h1m7 0h1m12 0h1m1 0h1m13 0h1m13 0h1m33 0h1M7 399h1m24 0h1m41 0h1m17 0h1m32 0h1M5 400h1m17 0h2m4 0h1m7 0h1m9 0h1m37 0h1m17 0h1M14 401h2m5 0h1m6 0h1m30 0h1m15 0h1m16 0h1M10 402h1m4 0h1m3 0h2m11 0h1m5 0h1m5 0h1m7 0h1m22 0h1m11 0h1m3 0h2m28 0h1M6 403h1m1 0h1m24 0h1m16 0h1m68 0h1M12 404h1m9 0h1m14 0h1m37 0h1m15 0h1m13 0h1m2 0h2m20 0h1m9 0h1M16 405h1m2 0h1m14 0h1m42 0h1m2 0h1m5 0h1m3 0h1m9 0h1m10 0h1"/>
<path stroke="#482475" d="M130 18h1M65 19h1m2 0h1m71 0h1M31 21h1m6 0h1m91 0h1m9 0h1M130 22h1M95 23h1M12 24h1m127 0h1m14 0h1M26 25h1m41 0h1m26 0h1M30 26h1m2 0h1m3 0h1m3 0h1m17 0h1m14 0h1m19 0h1m5 0h1m24 0h1M26 27h1m31 0h1m9 0h1m38 0h1m17 0h1M15 28h2m31 0h1m6 0h1m5 0h1m3 0h1m3 0h1m6 0h1m13 0h1m11 0h1M11 29h1m71 0h1m6 0h1m6 0h1m4 0h1m14 0h1m12 0h1M53 30h1m1 0h1m3 0h1m16 0h2m3 0h1m4 0h2m12 0h1m9 0h1m2 0h1M6 31h1m26 0h2m18 0h1m6 0h1m5 0h1m3 0h1m2 0h1m12 0h1m18 0h1m13 0h1m15 0h1M9 32h1m5 0h2m10 0h1m7 0h1m2 0h1m21 0h1m1 0h1m1 0h1m11 0h1m10 0h1m14 0h1m32 0h1m14 0h1M19 33h1m8 0h1m18 0h1m1 0h3m1 0h1m15 0h1m8 0h1m1 0h2m10 0h1m5 0h1M5 34h1m13 0h2m16 0h2m19 0h1m26 0h1m2 0h1m15 0h2M8 35h1m6 0h2m6 0h1m4 0h1m10 0h1m2 0h1m29 0h1m11 0h1m11 0h1m16 0h1m11 0h1m24 0h1M28 36h1m12 0h1m37 0h2m5 0h1m1 0h1m1 0h2m15 0h1m3 0h1m9 0h1M8 37h1m14 0h1m12 0h1m12 0h1m3 0h1m7 0h2m13 0h1m15 0h1m13 0h1M10 38h1m7 0h1m13 0h2m42 0h1m13 0h1m17 0h1M22 39h1m10 0h1m7 0h1m3 0h1m59 0h1m19 0h1M21 40h1m15 0h1m9 0h2m21 0h1m4 0h1m5 0h1m2 0h1M15 41h1m5 0h1m46 0h2m24 0h1m11 0h1M6 42h2m22 0h1m16 0h1m10 0h1m9 0h1m12 0h1m25 0h1M22 43h1m1 0h1m1 0h1m49 0h1m21 0h1M26 44h1m27 0h1M9 45h1m38 0h1m10 0h1m21 0h1m1 0h1m7 0h1M24 46h1m52 0h1m21 0h1m4 0h1m45 0h1M10 47h1m23 0h1m17 0h1m1 0h1m23 0h1m2 0h1M26 48h1m5 0h1m1 0h1m3 0h1m14 0h1m11 0h1m3 0h1m5 0h1m2 0h1m2 0h1m6 0h1m11 0h1m4 0h1m1 0h1M40 49h1m13 0h1m15 0h1m31 0h1m32 0h1M20 50h1m17 0h1m86 0h1m9 0h1M24 51h2m54 0h1m3 0h1m20 0h1m5 0h1M43 52h2m9 0h1m14 0h1m2 0h1m20 0h1m6 0h1M6 53h1m52 0h2m34 0h1m6 0h1M21 54h1m6 0h1m5 0h1m40 0h1m2 0h1m16 0h1m3 0h1m3 0h1m13 0h1M9 55h1m11 0h1m4 0h1m20 0h1m4 0h1m2 0h1m32 0h1M22 56h1m32 0h2m17 0h1m32 0h1M10 57h1m15 0h1m19 0h1m5 0h1m16 0h1m8 0h1m1 0h1M11 58h1m35 0h1m49 0h1M6 59h1m2 0h1m12 0h1m4 0h1m43 0h2m18 0h1m17 0h1M12 60h1m14 0h1m8 0h2m10 0h2m5 0h1m35 0h1m11 0h1m41 0h1m9 0h1M23 61h2m19 0h1m3 0h1m46 0h1M24 62h1m9 0h1m70 0h2M6 63h1m11 0h1m73 0h1m5 0h1M7 64h1m19 0h1m13 0h1m6 0h1m2 0h1m34 0h1m13 0h1m7 0h1M41 65h1m20 0h1m33 0h1m7 0h1M29 66h1m6 0h1m12 0h1m21 0h1m13 0h1M14 67h1m4 0h1m1 0h1m19 0h1m15 0h1m7 0h1m8 0h1m4 0h1m3 0h1m13 0h1m47 0h1M14 68h1m7 0h1m19 0h2m14 0h1m21 0h1m40 0h1m18 0h1M42 69h1m9 0h1m6 0h1m25 0h2m5 0h1m9 0h1m32 0h1M45 70h1m27 0h1m11 0h2m36 0h1M12 71h3m81 0h1m58 0h1M12 72h1m19 0h1m7 0h1m37 0h1M43 73h1m5 0h1m12 0h1M19 74h1m15 0h1m12 0h1m35 0h1m28 0h1M27 75h1m30 0h1m1 0h1m4 0h1m20 0h1m17 0h1M11 76h1m22 0h1m10 0h1m6 0h1m21 0h1m65 0h1M5 77h1m3 0h1m9 0h1m43 0h1m20 0h1m55 0h1M21 78h1m19 0h2m1 0h1m11 0h1m39 0h1M26 79h1m28 0h1m5 0h1m33 0h1m4 0h2M29 80h1m64 0h1m10 0h1M50 81h1m5 0h1m5 0h1m30 0h1m7 0h1m3 0h1m1 0h1m47 0h1M9 82h1m11 0h1m34 0h1m5 0h1M24 83h1m21 0h1m45 0h1m3 0h1m10 0h1m11 0h1m1 0h1m3 0h1M14 84h1m6 0h1m35 0h2m38 0h1M21 85h1m17 0h1m10 0h1m28 0h1m1 0h1m12 0h1m3 0h1m20 0h1M7 86h1m20 0h1m29 0h1m5 0h1m4 0h1m31 0h2M86 87h1m63 0h1M41 88h1m10 0h1m48 0h1m28 0h1m14 0h1M17 89h1m43 0h1m53 0h1m39 0h1M8 90h1m25 0h1m4 0h1m4 0h1m14 0h2m5 0h1m14 0h1m8 0h1m2 0h3m11 0h1M17 91h1m21 0h1m37 0h1m29 0h1M20 92h1m25 0h1m39 0h1M13 93h1m1 0h1m31 0h1m26 0h1m3 0h1m4 0h1m51 0h1M65 94h1m25 0h1m12 0h2m2 0h1m8 0h1m37 0h1M16 95h1m3 0h1m1 0h1m3 0h1m1 0h1m2 0h1m20 0h1m14 0h1m2 0h2m25 0h1m5 0h1m7 0h1m1 0h1m5 0h1M48 96h1m18 0h1m18 0h1m19 0h1M27 97h1m24 0h1m22 0h2m15 0h1m28 0h1M35 98h1m2 0h1m3 0h1m2 0h1m2 0h1m9 0h1m45 0h1M35 99h1m33 0h1m23 0h1m14 0h1m12 0h1m3 0h1M36 100h1m43 0h1m10 0h1m12 0h1m18 0h1M9 101h1m4 0h1m5 0h1m16 0h1m1 0h1m18 0h1m9 0h1m17 0h1m14 0h1M31 102h1m17 0h1m10 0h1m12 0h1m16 0h1M6 103h1m10 0h1m23 0h1m7 0h1m56 0h1M14 104h1m12 0h1m38 0h1m6 0h1m26 0h1M27 105h2m19 0h1m60 0h1m5 0h1M26 106h1m7 0h1m10 0h1m4 0h1m4 0h1m7 0h1m10 0h1m24 0h1M12 107h1m27 0h1m30 0h1m15 0h1m27 0h1M6 108h1m2 0h1m3 0h1m9 0h2m33 0h1m29 0h1m20 0h1m11 0h1M12 109h1m39 0h1m20 0h1m16 0h1M46 110h1m3 0h1m1 0h1m27 0h1m7 0h1m36 0h1M14 111h1m27 0h1m25 0h1m81 0h1M31 112h1m33 0h1m14 0h1m29 0h1m2 0h1m21 0h1m4 0h1m14 0h1M11 113h1m23 0h1m10 0h1m15 0h1m12 0h1m21 0h1M29 114h1m19 0h1m9 0h1m3 0h1m86 0h1M5 115h1m9 0h1m23 0h1m5 0h1m47 0h1M13 116h1m27 0h1m3 0h1m10 0h1m6 0h1m34 0h1m41 0h1M5 117h2m21 0h1m10 0h1m33 0h1m71 0h1m4 0h1M5 118h1m20 0h1m4 0h1m36 0h1m2 0h2m29 0h1m5 0h1m31 0h1m14 0h1M17 119h1m15 0h1m6 0h1m31 0h1m2 0h1m8 0h1m12 0h1m25 0h1M15 120h1m7 0h1m16 0h1m27 0h1m2 0h1m8 0h1m14 0h1m12 0h1m26 0h1M7 121h1m33 0h1m35 0h1m57 0h1m4 0h1M5 122h1m31 0h1m27 0h1m3 0h1m23 0h1m29 0h1M12 123h1m47 0h1m2 0h1m12 0h1m24 0h1m48 0h1M19 124h1m1 0h1m6 0h1m22 0h1m5 0h1m34 0h1m9 0h1m8 0h1m3 0h1M6 125h1m48 0h1m3 0h1m9 0h1m1 0h1m28 0h1M5 126h1m46 0h1M5 127h1m9 0h1m9 0h1m12 0h1m57 0h1m11 0h1M69 128h1m12 0h1m13 0h1m5 0h1M48 129h1m6 0h1m3 0h1m13 0h1m14 0h1m21 0h1M6 130h1m83 0h1m24 0h1M12 131h1m40 0h1m32 0h2m1 0h1m40 0h1m14 0h1M5 132h1m32 0h1m1 0h1m4 0h1m39 0h1m54 0h1M11 133h2m23 0h1m4 0h1m2 0h1m33 0h2m4 0h1m25 0h1M5 134h1m12 0h2m31 0h1m3 0h1m9 0h1m4 0h1m7 0h1m14 0h1m11 0h1M16 135h2m17 0h1m44 0h1m1 0h1m16 0h1m4 0h1m3 0h1M55 136h1m9 0h1m5 0h1m7 0h1m15 0h1m4 0h1M25 137h1m12 0h1m29 0h1m6 0h2m13 0h1m22 0h1M7 138h1m47 0h1m4 0h1m1 0h1m22 0h1M21 139h1m12 0h1m6 0h1m20 0h1m5 0h1m21 0h2m9 0h1m53 0h1M76 140h1m4 0h1m10 0h1m3 0h1m7 0h1m2 0h1m22 0h1M16 141h1m18 0h1m7 0h1m9 0h1m26 0h1m29 0h1M12 142h1m6 0h1m1 0h1m12 0h1m30 0h1m10 0h1m11 0h1m14 0h1M101 143h1m11 0h1m3 0h1m27 0h1M5 144h1m14 0h1m3 0h1m22 0h1m23 0h1m24 0h1m38 0h1M73 145h1m18 0h1m12 0h1m9 0h1m9 0h1M12 146h1m1 0h1m8 0h1m13 0h1m7 0h1m10 0h1m14 0h1m14 0h1M15 147h1m101 0h1m5 0h1m26 0h1M53 148h1m11 0h1m3 0h1m6 0h1M39 149h1m37 0h1m22 0h1m22 0h1M7 150h1m35 0h1m10 0h1m7 0h1m4 0h1m14 0h1m1 0h1m4 0h1m31 0h1M13 151h1m24 0h1m50 0h1M6 152h2m3 0h1m29 0h1m45 0h1m5 0h1m61 0h1M21 153h1m12 0h2m23 0h1m13 0h1m66 0h1m9 0h1M6 154h1m5 0h1m3 0h1m5 0h1m18 0h1m2 0h1m28 0h1m1 0h1m14 0h1m4 0h1m27 0h1m6 0h1m4 0h1M8 155h1m32 0h1m2 0h1m39 0h1m14 0h1m19 0h1m10 0h1M11 156h1m6 0h1m30 0h1m6 0h1m11 0h1m2 0h1m20 0h1m10 0h1m4 0h1M26 157h1m29 0h1m8 0h1m15 0h1m4 0h1m7 0h1M36 158h1m3 0h1m6 0h1m17 0h1m47 0h1m9 0h1M16 159h2m4 0h1m28 0h1m32 0h1m21 0h1M5 160h1m19 0h1m37 0h1m22 0h1m13 0h1m3 0h1m14 0h1m5 0h1M45 161h1m10 0h1m16 0h2m23 0h1M11 162h1m26 0h1m18 0h1m13 0h1m7 0h1m30 0h1M17 163h1m2 0h1m7 0h1m1 0h1m9 0h2m66 0h1M9 164h1m90 0h1M48 165h1m5 0h2m20 0h2M18 166h1m13 0h1m2 0h1m15 0h1m6 0h1m7 0h1m11 0h1m30 0h1m35 0h1M10 167h1m42 0h1m4 0h1m26 0h1m15 0h1m13 0h1M24 168h1m9 0h1m37 0h2m4 0h1m34 0h1m11 0h1m29 0h1M12 169h1m11 0h1m3 0h1m6 0h1m21 0h1m30 0h1m3 0h1m11 0h1m5 0h1M5 170h1m39 0h1m39 0h1m17 0h1m3 0h1m22 0h1M46 171h1m28 0h1m22 0h1m9 0h1M12 172h1m15 0h1m4 0h1m32 0h1m12 0h1m21 0h1m9 0h1M8 173h1m24 0h1m15 0h1m23 0h1m9 0h1m17 0h1M29 174h1m13 0h2m25 0h1m8 0h1m4 0h1m9 0h1M15 175h1m2 0h1m4 0h1m3 0h1m1 0h1m1 0h1m1 0h1m22 0h1m3 0h1m2 0h1m9 0h1M10 176h1m54 0h1m5 0h1m19 0h1m21 0h1M37 177h2m59 0h1M27 178h1m15 0h1m42 0h1m5 0h1m32 0h1M9 179h1m20 0h1m7 0h2m69 0h1m7 0h1M39 180h1m1 0h1m4 0h1m15 0h1m24 0h1m19 0h1m47 0h1M84 181h1m24 0h1M50 182h1m7 0h1m1 0h1m25 0h1m4 0h1m1 0h1M18 183h1m11 0h1m16 0h1m15 0h1m26 0h1m9 0h1m39 0h1m9 0h1M14 184h1m3 0h1m25 0h1m16 0h1m3 0h1m15 0h1m22 0h1M13 185h2m46 0h1m22 0h1m12 0h1M20 186h1m26 0h1m2 0h1m20 0h1m73 0h1M33 187h1m9 0h1m23 0h1m20 0h1m26 0h1M42 188h1m7 0h1m8 0h1m18 0h1m34 0h1M32 189h1m5 0h1m5 0h1m12 0h1m15 0h1m4 0h1m7 0h1m58 0h1M41 190h1m2 0h1m20 0h1m32 0h1M56 191h1m6 0h1m7 0h1M34 192h1m11 0h1m58 0h1m2 0h1M22 193h1m22 0h1M37 194h1m35 0h1m27 0h2M7 195h1m25 0h1m2 0h1m6 0h1m34 0h1m18 0h1m3 0h1M28 196h1m3 0h1m10 0h1m27 0h1m16 0h1m16 0h1M32 197h1m13 0h1m10 0h1m13 0h1m5 0h1m6 0h1m24 0h1M13 198h1m9 0h1m13 0h1m13 0h1m4 0h1m42 0h1m10 0h1M22 199h1m18 0h1m3 0h1m2 0h1m16 0h1m8 0h1m2 0h1m13 0h1M13 200h1m31 0h1m1 0h1m35 0h1m1 0h1m2 0h1m11 0h1m7 0h1M7 201h1m13 0h1m11 0h1m7 0h1m31 0h2m5 0h1M27 202h2m6 0h1m1 0h1m1 0h1m3 0h1m6 0h1m23 0h1m42 0h1M7 203h1m4 0h1m30 0h1M12 204h1m4 0h1m32 0h1m38 0h1m5 0h1m2 0h1m2 0h1M70 205h1m20 0h1m33 0h1m24 0h1M10 206h1m26 0h1m2 0h1m50 0h1m12 0h1m6 0h1M11 207h1m9 0h1m49 0h1M59 208h1m30 0h1m2 0h1m25 0h1m15 0h1M10 209h1m16 0h1m66 0h1m11 0h1M13 210h1m25 0h1m6 0h1m11 0h1m6 0h1m23 0h1m16 0h1M7 211h1m25 0h1m6 0h1m51 0h2m4 0h1M55 212h1M17 213h1m2 0h1m8 0h1m9 0h2m14 0h1m6 0h1m6 0h1m6 0h1m10 0h1m5 0h1m21 0h1M30 214h1m6 0h1m3 0h1m17 0h1m1 0h1m13 0h1m4 0h2m4 0h1m4 0h1m9 0h1M33 215h1m7 0h1m11 0h1m8 0h1m11 0h1m7 0h1m5 0h1m4 0h1m7 0h1M30 216h2m21 0h1M50 217h1m1 0h1m9 0h1m24 0h1m15 0h1M6 218h1m9 0h1m38 0h1m32 0h1m2 0h2M20 219h1m21 0h1m39 0h1m27 0h1M23 220h1m11 0h1m1 0h1m3 0h1m42 0h1m21 0h1M31 221h1m6 0h1m10 0h1m9 0h1m1 0h1m35 0h1m3 0h1m9 0h1m13 0h1M21 222h1m2 0h1m38 0h1m4 0h1m8 0h1m19 0h1m2 0h1m2 0h1m11 0h1M17 223h1m40 0h1m2 0h1m29 0h1m19 0h1M7 224h1m5 0h2m14 0h1m13 0h1m7 0h1m8 0h1m2 0h1m3 0h1M14 225h1m1 0h1m2 0h1m3 0h1m7 0h1m13 0h1m3 0h1m11 0h1m6 0h1m38 0h1M38 226h2m9 0h1m12 0h1m6 0h1m30 0h1M5 227h1m30 0h2m2 0h1m14 0h1m2 0h1m16 0h1m14 0h1m6 0h1m4 0h1M6 228h1m30 0h1m48 0h1m10 0h1m7 0h1m49 0h1M19 229h1m4 0h1m18 0h1m34 0h1m18 0h1M70 230h1m7 0h1m28 0h1m13 0h1m33 0h1M20 231h1m4 0h1m61 0h1m12 0h1m1 0h1m27 0h1M35 232h1m33 0h1m41 0h1m3 0h1m5 0h1m8 0h1M45 233h1m32 0h1m22 0h1m4 0h1m8 0h1M9 234h1m1 0h2m33 0h1m43 0h1m2 0h1m9 0h1m26 0h1m19 0h1M13 235h1m28 0h1m28 0h1m49 0h1M11 236h1m30 0h1m14 0h1m10 0h1m37 0h1M9 237h1m11 0h1m33 0h1m25 0h1m8 0h1m32 0h1m26 0h1M49 238h1m5 0h1m10 0h1m8 0h1m22 0h1m2 0h1m1 0h1M17 239h1m16 0h1m17 0h1m9 0h1m17 0h1m14 0h2m1 0h1M62 240h1m14 0h1m9 0h1m4 0h1m2 0h1m1 0h1m5 0h1m13 0h1m27 0h1m9 0h1M19 241h1m12 0h1m37 0h1m64 0h1M7 242h1m11 0h1m26 0h1m23 0h1m7 0h1m5 0h1m1 0h1m68 0h1M14 243h2m35 0h1m2 0h1m26 0h1m13 0h1m34 0h1M54 244h1m8 0h1m25 0h1m15 0h1M24 245h1m17 0h1m4 0h1m10 0h1m46 0h1m4 0h1m10 0h1m8 0h1M24 246h1m24 0h1m5 0h1m6 0h1m4 0h1m47 0h1m39 0h1M25 247h2m1 0h1m2 0h1m25 0h1m18 0h1m1 0h1m4 0h1m10 0h1m7 0h1m10 0h1M7 248h1m32 0h2m9 0h1m13 0h1m8 0h1m23 0h1m20 0h1M54 249h1m24 0h1m10 0h1M6 250h1m3 0h1m16 0h1m80 0h1M29 251h1m15 0h1m9 0h1m24 0h1m3 0h2M36 252h1m36 0h1m16 0h1m4 0h1m4 0h1M39 253h1m1 0h1m1 0h1m29 0h1M19 254h1m1 0h1m37 0h1m25 0h1m8 0h1m7 0h1M13 255h1m34 0h1m18 0h1m3 0h1m26 0h1m3 0h1M11 256h1m10 0h1m7 0h1m16 0h1m26 0h1m9 0h1m18 0h1M22 257h1m31 0h1m1 0h1m25 0h1m7 0h1m22 0h1M8 258h1m19 0h1m39 0h1M7 259h1m9 0h1m8 0h1m25 0h1m7 0h1m19 0h1m14 0h1m2 0h1m10 0h1m3 0h1m31 0h1M6 260h1m4 0h1m1 0h1m11 0h1m41 0h1m3 0h1m28 0h1m4 0h1m2 0h1m4 0h1m3 0h1m7 0h1m14 0h1M28 261h1m3 0h1m54 0h1M14 262h1m13 0h1m19 0h1m37 0h1m13 0h1m14 0h1m1 0h1M27 263h1m10 0h1m1 0h1m7 0h1m10 0h1m33 0h1m41 0h1M6 264h1m53 0h1m15 0h1m14 0h1m8 0h2m2 0h1m6 0h1M35 265h1m12 0h1m2 0h1m1 0h1m28 0h1m7 0h1m9 0h1m6 0h1m2 0h1m24 0h1m9 0h1M14 266h1m27 0h1m26 0h1m2 0h1m14 0h1m12 0h1M27 267h1m1 0h1m24 0h1m3 0h1m12 0h1m1 0h1m4 0h1m27 0h1m33 0h1M9 268h2m4 0h1m1 0h1m40 0h1m38 0h1m8 0h1m1 0h1m31 0h1m4 0h1M21 269h1m16 0h1m3 0h1m29 0h1m36 0h1M16 270h1m9 0h1m16 0h1m2 0h1m13 0h1m1 0h1m13 0h1m8 0h1m12 0h1m8 0h1M46 271h1m39 0h1m22 0h1m40 0h1M52 272h1m7 0h1m11 0h1m9 0h1m6 0h1m19 0h1m40 0h1M9 273h1m31 0h1m14 0h1m10 0h1m4 0h1m72 0h1M16 274h1m74 0h1m5 0h1m8 0h1M41 275h1m30 0h1m14 0h1m19 0h1m37 0h1m9 0h1M52 276h1m17 0h1M20 277h1m13 0h1m11 0h1m60 0h1m27 0h1M18 278h1m36 0h1m40 0h1M16 279h1m1 0h1m13 0h1m5 0h1m2 0h1m31 0h1m51 0h1M16 280h1m28 0h1m7 0h1m13 0h1m2 0h1m79 0h1M9 281h1m12 0h1m14 0h1m15 0h1m1 0h1m15 0h1m2 0h1m25 0h2m53 0h1M27 282h1m6 0h1m6 0h1m5 0h1m5 0h1M8 283h2m17 0h1m20 0h1m18 0h1m33 0h1m6 0h1m12 0h1M7 284h1m19 0h1m7 0h1m54 0h1m24 0h1M40 285h1m49 0h1m1 0h1M5 286h1m1 0h1m7 0h1m18 0h1m8 0h1m19 0h1m17 0h1m23 0h1M12 287h1m17 0h1m45 0h1m12 0h1m7 0h1M48 288h1m53 0h1m16 0h1M14 289h1m74 0h1m6 0h1m9 0h1M37 290h1m3 0h1m23 0h1m6 0h1m17 0h1m4 0h1m12 0h1m41 0h1M12 291h1m2 0h1m1 0h1m13 0h1m19 0h1m31 0h1m9 0h1m29 0h1M12 292h1m64 0h1m2 0h1m42 0h1m21 0h1M25 293h1m13 0h1m17 0h3m38 0h1m36 0h1M65 294h1m5 0h1m19 0h1M22 295h1m23 0h1m13 0h1m10 0h1m38 0h1M11 296h1m5 0h1m52 0h1m12 0h1m17 0h1m6 0h1M18 297h2m51 0h1m8 0h1m4 0h1m1 0h1m5 0h1m14 0h1m10 0h1M11 298h1m72 0h1m10 0h1M8 299h1m8 0h2m37 0h1m8 0h1m2 0h1M43 300h1m81 0h1M17 301h1m23 0h1m15 0h1m34 0h1m42 0h1M75 302h1m49 0h1M41 303h1m9 0h2m10 0h1m1 0h1m9 0h1m32 0h1m8 0h1m37 0h1M10 304h1m17 0h1m45 0h1m8 0h2m4 0h1M9 305h1m3 0h1m3 0h1m4 0h1m32 0h1m9 0h1m15 0h1M12 306h1m6 0h1m23 0h1m19 0h1m19 0h1m5 0h1m18 0h1m2 0h1m23 0h1M10 307h1m3 0h1m25 0h1m1 0h1m7 0h1m25 0h1m1 0h1m3 0h1m1 0h1m13 0h2m23 0h1M14 308h1m5 0h1m9 0h1m21 0h1m5 0h1m18 0h1m1 0h1m3 0h1m1 0h1m12 0h1m20 0h1M5 309h1m37 0h1m2 0h1m1 0h1m8 0h1m2 0h1m13 0h1m11 0h1m14 0h1m17 0h1M21 310h1m15 0h1m4 0h1m30 0h1m1 0h1m8 0h1M14 311h1m19 0h1m24 0h1m8 0h1m6 0h1m23 0h1m1 0h1M5 312h1m6 0h1m19 0h1m49 0h1m14 0h2M10 313h1m22 0h1m9 0h1m39 0h1m9 0h1m6 0h1m4 0h1M45 314h1m4 0h3m18 0h1M105 315h1m11 0h1M13 316h1m16 0h1m11 0h1m7 0h1m8 0h1m12 0h2m34 0h1M18 317h1m4 0h1m5 0h2m13 0h1m13 0h1m2 0h1m7 0h1m3 0h1m10 0h1m26 0h1M31 318h1m44 0h2m8 0h1m6 0h2M12 319h1m14 0h1m4 0h1m4 0h1m40 0h1m12 0h1m17 0h1m11 0h1M12 320h1m2 0h1m4 0h1m9 0h1m27 0h1m7 0h1m30 0h1M5 321h1m23 0h2m5 0h1m68 0h1m19 0h1M12 322h1m11 0h1m53 0h1m4 0h1m5 0h1m11 0h2M49 323h1m5 0h1m20 0h1m32 0h1m1 0h1M41 324h1m9 0h1m9 0h1m13 0h1m1 0h1m72 0h1M10 325h1m13 0h1m1 0h1m8 0h1m19 0h1m4 0h1M30 326h1m2 0h1m13 0h1m5 0h1m11 0h1m3 0h1m18 0h1m19 0h1M18 327h1m22 0h1m62 0h1M19 328h1m22 0h1m16 0h1m10 0h1m5 0h1m3 0h1m27 0h1M10 329h1m61 0h1m22 0h2m22 0h1M16 330h1m8 0h1m6 0h1m12 0h1m38 0h2m19 0h1m3 0h1m1 0h1m38 0h1M13 331h1m2 0h1m1 0h1m44 0h1m3 0h2m7 0h1m3 0h1m18 0h1m40 0h1M24 332h1m27 0h1m28 0h1m20 0h1m7 0h1m24 0h1M6 333h1m8 0h1m31 0h1m5 0h1M16 334h1m13 0h1m13 0h1m36 0h1m5 0h1m62 0h1M20 335h1m24 0h1m36 0h1m15 0h1m20 0h1M22 336h1m1 0h1m8 0h1m20 0h1m31 0h1m9 0h1m2 0h1m7 0h1m17 0h1M7 337h1m14 0h1m10 0h1m17 0h1m16 0h1m66 0h1M34 338h1m1 0h1m44 0h1m19 0h1m3 0h1M21 339h1m22 0h1m31 0h1m22 0h1m50 0h1M16 340h1m6 0h1m12 0h1m9 0h1m6 0h1m20 0h1m9 0h1m14 0h1M9 341h1m22 0h1m33 0h1m27 0h1m2 0h1m9 0h1M10 342h1m21 0h1m8 0h1m8 0h1m49 0h1m24 0h1m24 0h1M5 343h1m14 0h1m19 0h1m8 0h1m4 0h1m39 0h1m50 0h1M54 344h1m2 0h1m7 0h1m17 0h1m3 0h1m23 0h1m28 0h1m9 0h1M14 345h1m30 0h2m3 0h1m23 0h2m8 0h1m38 0h1m6 0h1M9 346h1m47 0h1M15 347h1m2 0h1m56 0h1m30 0h1m23 0h1M40 348h1m22 0h1m43 0h1m5 0h1m36 0h1M6 349h1m85 0h1m14 0h1M78 350h1m15 0h1m12 0h1m37 0h1M7 351h1m5 0h1m1 0h1m44 0h1m17 0h1M43 352h1m24 0h1m20 0h1m29 0h1M54 353h1m4 0h2m11 0h1m25 0h1M34 354h1m15 0h1m11 0h1m2 0h1m2 0h1m22 0h1m58 0h1M27 355h1m20 0h1m14 0h1m2 0h1m39 0h1m1 0h1M7 356h1m28 0h1m9 0h1m4 0h1m11 0h1m13 0h1m9 0h1m13 0h1M7 357h1m10 0h1m12 0h1m1 0h1m57 0h1m15 0h1M49 358h1m4 0h1m26 0h1m12 0h1M47 359h1m48 0h1m7 0h1M10 360h1m28 0h1m33 0h1m1 0h1m8 0h1M15 361h1m23 0h1m11 0h1m20 0h1m10 0h2m7 0h1m17 0h1m29 0h1m9 0h1M11 362h1m20 0h1m10 0h1m9 0h1m11 0h1m11 0h1m7 0h1m23 0h1M15 363h1m7 0h1m6 0h2m6 0h1m12 0h1m21 0h1M23 364h1m18 0h1m17 0h1m41 0h1M6 365h1m3 0h1m2 0h1m5 0h1m3 0h1m4 0h1m28 0h1m23 0h1m9 0h1m1 0h1m11 0h1M10 366h1m18 0h1m16 0h1m37 0h1m9 0h2M7 367h1m4 0h1m35 0h1m28 0h1m24 0h1m5 0h1m36 0h1M40 368h1m8 0h1m21 0h1m1 0h1m11 0h1m2 0h1M5 369h1m15 0h1m2 0h2m18 0h1m6 0h1m1 0h1m38 0h1M25 370h1m24 0h1m6 0h1m4 0h1m6 0h1m1 0h1m25 0h1m17 0h1m1 0h1M13 371h1m11 0h1m49 0h1m8 0h1m18 0h1m21 0h1m24 0h1M22 372h1m21 0h1m5 0h1m19 0h1m4 0h2m1 0h1m34 0h1m16 0h1M33 373h1m21 0h1m2 0h1m8 0h1m2 0h1m29 0h1m7 0h1m8 0h1M32 374h1m4 0h1m32 0h1m9 0h1m3 0h1m23 0h2M17 375h1m47 0h1m9 0h1m15 0h1m17 0h1M37 376h1m3 0h1m32 0h1M5 377h1m9 0h1m4 0h1m14 0h1m7 0h2m9 0h1m6 0h1m2 0h1m9 0h1M30 378h1m4 0h1m25 0h1m17 0h1m20 0h1m6 0h1M32 379h1m12 0h1m25 0h1m18 0h1m7 0h1m10 0h1m40 0h1M33 380h1m3 0h1m6 0h1m1 0h1m13 0h1m4 0h1m9 0h1m21 0h1m12 0h1M16 381h1m2 0h1m2 0h1m6 0h1m42 0h1m12 0h1m2 0h1m13 0h1m52 0h1M13 382h1m23 0h1m15 0h1m5 0h1m2 0h1m13 0h2m1 0h1m8 0h1M25 383h1m13 0h1m1 0h1m6 0h1m1 0h1m7 0h1m12 0h1m27 0h1m9 0h1M16 384h2m6 0h1m8 0h1m20 0h1m5 0h1m41 0h1m32 0h1m19 0h1M6 385h1m12 0h2m14 0h1m25 0h1m10 0h1m3 0h1m58 0h1M35 386h1m28 0h1m14 0h1m1 0h1m4 0h1m11 0h1m24 0h1M15 387h1m25 0h1m39 0h1m12 0h1m1 0h1M7 388h1m3 0h1m3 0h1m2 0h1m8 0h1m11 0h2m46 0h1m3 0h1m1 0h1m15 0h1M40 389h1m5 0h1m22 0h1m5 0h1m8 0h1M43 390h1m16 0h1m9 0h1m64 0h1M36 391h1m20 0h1m25 0h1m23 0h1M32 392h1m9 0h1m14 0h1m23 0h1m13 0h1m2 0h1m3 0h1m6 0h1M11 393h1m22 0h1m11 0h1m64 0h1M34 394h1m1 0h1m4 0h1m3 0h1m45 0h1M11 395h1m3 0h1m25 0h1m17 0h1m31 0h2m14 0h1M20 396h1m38 0h1m20 0h1m3 0h1m13 0h2M13 397h1m10 0h1m3 0h1m49 0h2m4 0h1m22 0h1M35 398h1m19 0h1m11 0h1m8 0h1m2 0h1m18 0h1m2 0h1M10 399h1m12 0h1m12 0h2m85 0h1M63 400h1m20 0h1M25 401h1m4 0h3m11 0h1m5 0h1m2 0h2m3 0h1m86 0h1M67 402h2M13 403h1m7 0h1m13 0h1m9 0h1m14 0h1m25 0h1m2 0h1m5 0h1m3 0h1M51 404h1m34 0h1m1 0h1m4 0h1M13 405h1m11 0h1m11 0h1m5 0h2m25 0h1m20 0h1m2 0h1m1 0h1m26 0h1m26 0h1"/>
<path stroke="#472d7b" d="M75 16h1m54 0h1M31 19h1m6 0h1M58 20h1M26 21h1M145 22h1M75 23h1m43 0h1M75 24h1M23 26h1m21 0h1m11 0h1m12 0h1m14 0h2m17 0h1m4 0h1M65 27h1m74 0h1M14 28h1m15 0h1m11 0h1m15 0h1m35 0h1m40 0h1M15 29h1m7 0h1m23 0h1m1 0h1m12 0h1m17 0h1m3 0h1m11 0h1m24 0h1M63 30h2m9 0h1m5 0h1m2 0h1m10 0h1m8 0h1m2 0h1m12 0h1m15 0h1M10 31h1m5 0h1m1 0h3m14 0h1m38 0h1M14 32h1m4 0h1m10 0h1m13 0h1m3 0h1m2 0h1m2 0h1m6 0h1m4 0h1m6 0h1m14 0h1m3 0h1m5 0h1m18 0h1m1 0h1M34 33h1m2 0h1m18 0h1m4 0h1m5 0h1m15 0h1m6 0h1m8 0h1m6 0h1m3 0h1M9 34h1m30 0h1m1 0h1m2 0h1m1 0h1m6 0h1m12 0h1m13 0h1m41 0h1m26 0h1M5 35h1m12 0h1m17 0h1m7 0h3m23 0h1m34 0h1m5 0h1M11 36h1m5 0h1m29 0h1m26 0h1m17 0h1m3 0h1M10 37h1m60 0h1m28 0h1m14 0h1M9 38h1m20 0h1m9 0h1m10 0h1m48 0h1m12 0h1m1 0h1M14 39h1m4 0h1m15 0h2m3 0h1m48 0h2m6 0h3m40 0h1M7 40h1m2 0h1m32 0h1m9 0h1m23 0h1m62 0h1M40 41h1m2 0h1m8 0h1m9 0h1m20 0h1m12 0h1m11 0h1M23 42h1m50 0h1m3 0h1m5 0h1M63 43h1m19 0h1m29 0h1M13 44h1m22 0h1M8 45h1m63 0h1m19 0h1M14 46h1m21 0h1m11 0h1m53 0h1m10 0h1m41 0h1M44 47h1m13 0h1m21 0h1m4 0h1m5 0h1m8 0h1m5 0h1M46 48h1m46 0h1m46 0h1M31 49h1m2 0h1m13 0h1m20 0h1m41 0h1m7 0h1M12 50h1m24 0h1m6 0h1m10 0h1m1 0h1m31 0h1m17 0h1m3 0h1m33 0h1M125 51h1M11 53h1m22 0h1m7 0h1m29 0h1m19 0h1m4 0h1M7 54h1m69 0h1m31 0h1m9 0h1m30 0h1M12 55h1m41 0h1m27 0h1m2 0h1m4 0h1m32 0h1M21 56h1m23 0h1m30 0h1m5 0h1m19 0h1M24 57h1m11 0h1m12 0h1m61 0h1m38 0h1M30 58h1m34 0h1m49 0h1M21 59h1m2 0h1m21 0h1m1 0h1m2 0h1m35 0h1M26 60h1m25 0h1m19 0h1M18 61h1m24 0h1m62 0h1M15 62h1m30 0h1m48 0h1m11 0h1m22 0h1M54 63h1m18 0h1m8 0h1m17 0h1m4 0h1m19 0h1M42 64h1m39 0h1m15 0h1m20 0h1M19 65h1m3 0h1m11 0h1m45 0h1M15 66h1m82 0h1m46 0h1m4 0h1M56 67h1m93 0h1M17 68h1m13 0h1m4 0h1m15 0h1m7 0h1m1 0h1M22 69h1m14 0h1M9 70h1m16 0h1m118 0h1M30 71h1m71 0h1m2 0h1m34 0h1M24 72h1m4 0h1m60 0h1m8 0h1M12 73h1m2 0h1m5 0h1m44 0h1m16 0h1m46 0h1M12 74h1m95 0h1m2 0h1M25 75h1m14 0h1m22 0h1M15 76h1m11 0h1m29 0h1m92 0h1M52 77h1m21 0h1m4 0h1m9 0h2m5 0h1M14 78h1m5 0h1m14 0h1m26 0h1m22 0h1m9 0h1m1 0h1m7 0h2m16 0h1M18 79h1m11 0h1m9 0h1m44 0h1m24 0h1M40 80h1m35 0h1m24 0h1m5 0h2M45 81h1M18 82h1m19 0h1m4 0h1m6 0h1m28 0h1m50 0h1m4 0h1M30 83h1m14 0h1m39 0h1m13 0h1m50 0h1M34 84h1m16 0h1m8 0h1m6 0h1m12 0h1m2 0h1m4 0h1M78 85h1m17 0h1m2 0h1m3 0h1m7 0h1M11 86h1m1 0h1m5 0h1m28 0h1m7 0h2m8 0h1m5 0h1m4 0h1M12 87h2m15 0h1m7 0h1m11 0h1m2 0h2M7 88h1m11 0h1m7 0h1m9 0h1m30 0h1m38 0h1m5 0h1m9 0h1M12 89h1m56 0h1m12 0h1m24 0h1m5 0h1M35 90h1m2 0h1m10 0h1m30 0h1m20 0h1m13 0h1M84 91h1m21 0h1m28 0h1M117 92h1M19 93h1m43 0h1m22 0h1m11 0h1m10 0h1M9 94h1m53 0h1m22 0h1m1 0h1M10 95h1m1 0h1m11 0h1m10 0h1m20 0h1m22 0h1m55 0h1m14 0h1M18 96h1m42 0h1m11 0h1m2 0h1m16 0h1m23 0h1M7 97h1m115 0h1M9 98h1m17 0h1m54 0h1m5 0h1M25 99h1M40 100h1m8 0h1m31 0h1M29 101h2m10 0h1m5 0h1m45 0h1M29 102h1m56 0h1M91 103h1m11 0h1m17 0h1M36 104h1m1 0h1m10 0h1m3 0h1M26 105h1m31 0h2m19 0h1M24 106h1m6 0h1m36 0h1m31 0h1m7 0h1M60 107h1m52 0h1M14 108h1m12 0h1m19 0h1m92 0h1M13 109h1m2 0h1m42 0h1m33 0h1m17 0h1M25 110h1m14 0h1m40 0h1m1 0h1m24 0h1m4 0h1M12 111h1m6 0h1m25 0h1m6 0h1m14 0h1m40 0h1m12 0h1m18 0h1M35 112h1M95 113h1m13 0h1M15 114h1m14 0h1M22 115h1m14 0h1m21 0h1m47 0h1M6 116h1m54 0h1m21 0h1M8 117h1m34 0h1m1 0h1m1 0h1m1 0h2m8 0h1m11 0h1m68 0h1M10 118h1m35 0h1m50 0h1M73 119h1m12 0h1M21 120h1m43 0h1m3 0h1m18 0h1m3 0h1m1 0h1M18 121h1m33 0h1M9 122h1m25 0h2m14 0h1m24 0h1M119 123h1m10 0h1m24 0h1M12 124h1m9 0h1m20 0h1m40 0h1M12 125h1m33 0h1m7 0h1m7 0h1m56 0h1M9 126h1m17 0h1m73 0h1m4 0h1m2 0h1m20 0h1M84 127h1m7 0h1m11 0h1M103 128h1m15 0h1M11 129h1m3 0h1m28 0h1m61 0h1m33 0h1M12 130h1m4 0h1m9 0h1m11 0h1m30 0h1m21 0h1M26 131h1m54 0h1m14 0h1m16 0h1M43 132h1m33 0h1M123 133h1M10 134h1m27 0h1m49 0h1m11 0h1m3 0h1m4 0h1M5 135h1m50 0h1m2 0h1m3 0h1m10 0h1m25 0h1m22 0h1M57 136h1m10 0h1m48 0h1M10 137h1m36 0h1m7 0h1m29 0h1M9 138h1m8 0h1m20 0h1m1 0h1m44 0h1m26 0h1M5 139h1m59 0h1m64 0h1M14 140h1m48 0h1m55 0h1M33 141h1m3 0h1m102 0h1M9 142h1m12 0h1m12 0h1m5 0h1m19 0h1m35 0h1M5 143h1m7 0h1m24 0h1m10 0h1m1 0h1M55 144h2m6 0h1m17 0h1m25 0h1M86 145h1m11 0h1m8 0h1M29 146h1m6 0h1m12 0h1m12 0h1m27 0h1M5 147h1m23 0h1m18 0h1m3 0h1m58 0h1M81 148h1m13 0h1M61 149h1m31 0h1M14 150h1m13 0h1m57 0h1M9 151h1m53 0h1m36 0h1M40 152h1m13 0h1m55 0h1M12 153h1m31 0h1m42 0h1m3 0h1M27 154h1m71 0h1m50 0h1M16 155h1m7 0h1m9 0h1m36 0h1M29 156h1m24 0h1M9 157h1m4 0h1m56 0h1m13 0h1M7 158h1m12 0h1m33 0h1m31 0h1M36 159h1m40 0h1m9 0h1m19 0h1M23 160h1m3 0h1m15 0h1m13 0h1m30 0h1m4 0h1m61 0h1M15 161h1m27 0h1m101 0h1M61 162h1m21 0h1M48 163h1m4 0h1m37 0h1M21 164h1m99 0h1M17 165h1M17 166h1m3 0h1m2 0h1m6 0h1m8 0h1m39 0h1m25 0h1M6 167h1m19 0h1m3 0h1m4 0h1m10 0h1m33 0h2m6 0h1m16 0h1M95 168h1m21 0h1M61 169h1m28 0h1m12 0h1m3 0h1m7 0h1M91 170h1M26 171h1m103 0h1M19 172h1m25 0h1m3 0h1m5 0h1M7 173h1m49 0h1m37 0h1m14 0h1m24 0h1M24 174h1m6 0h1m26 0h1M21 175h1m13 0h1m74 0h1M29 176h1m28 0h1M17 177h1m28 0h1M35 178h1m13 0h1m23 0h1m61 0h1m19 0h1M10 179h1m41 0h1m39 0h1m28 0h1m33 0h1M7 180h1m4 0h1M12 181h1m3 0h1m59 0h1m9 0h1M36 182h1m34 0h2m12 0h1m16 0h1M44 183h1m8 0h1m17 0h1m3 0h1m17 0h1M10 184h1m14 0h1m4 0h2m2 0h1m5 0h1m57 0h1m11 0h1M11 185h1m28 0h1m7 0h1m5 0h1M38 186h1m58 0h1M28 187h1m21 0h1m33 0h1m26 0h1M33 188h1m15 0h1m38 0h1m17 0h1M17 189h1m12 0h1m21 0h1m9 0h1m4 0h1m34 0h1M43 190h1M7 191h1m1 0h1m2 0h1m1 0h2m19 0h1m11 0h1m34 0h1m32 0h1M47 192h1m8 0h1m25 0h1M34 193h1m11 0h1m6 0h1m19 0h1m5 0h1m70 0h1M7 194h1m20 0h1m32 0h1m3 0h1m84 0h1M19 195h1m82 0h1m18 0h1M18 196h1m68 0h1m29 0h1M41 197h1m17 0h1m40 0h1m9 0h1m14 0h1M65 198h1m11 0h1m4 0h1m6 0h1M6 199h1m89 0h1m18 0h1m24 0h1M6 200h1m8 0h1m17 0h1m3 0h1m10 0h1m37 0h1m5 0h1m22 0h1M23 201h1m6 0h1m11 0h1m16 0h1m53 0h1M6 202h1m13 0h1m19 0h1m10 0h1m59 0h1m3 0h1M26 203h1m3 0h1m37 0h1m3 0h1m8 0h1m5 0h1m9 0h1m52 0h1M14 204h1m11 0h1m15 0h1m31 0h1m5 0h1m22 0h1m5 0h1m13 0h1M20 205h1m5 0h1m47 0h1m1 0h1m8 0h1m4 0h1m13 0h1m8 0h1M30 206h1m10 0h1m45 0h1M8 207h1m34 0h1m4 0h1m2 0h1m17 0h1m10 0h1m40 0h1m33 0h1M38 208h1m6 0h1m18 0h1m27 0h1m9 0h1m37 0h1M17 209h1m40 0h1m5 0h1m18 0h1M15 210h1m6 0h1m5 0h1m42 0h1m14 0h1m3 0h1M30 211h1m19 0h1M8 212h2m51 0h1m1 0h1m12 0h1m19 0h1m20 0h1M11 213h1m18 0h1m22 0h1m6 0h1m10 0h1m24 0h1m33 0h1m9 0h1m4 0h1M10 214h1m6 0h1m9 0h1m3 0h1m61 0h1m13 0h1m2 0h1M10 215h1m18 0h2m27 0h1m56 0h1M25 216h1m52 0h1m7 0h1m18 0h1m29 0h1M32 217h1m10 0h1m13 0h1m3 0h1M27 218h1m5 0h1m16 0h1m6 0h1m35 0h1m27 0h1M31 219h1m54 0h1M5 220h1m55 0h1m3 0h1m34 0h2M8 221h1m106 0h1M34 222h2m56 0h1m12 0h1M99 223h2M41 224h1m35 0h1M38 225h1m56 0h1m59 0h1M17 226h1m9 0h2m23 0h1m19 0h1m35 0h1m41 0h1M93 227h2m5 0h1m20 0h1M16 228h1m38 0h1m57 0h1m7 0h1M5 229h1m29 0h1m11 0h1m6 0h1m10 0h1m20 0h1m9 0h1m3 0h1M75 230h1m32 0h1m4 0h1m36 0h1M30 231h1m19 0h1m9 0h1m11 0h1m15 0h1m30 0h1M5 232h1m98 0h1m3 0h1M14 233h1m39 0h1m2 0h1m25 0h1m9 0h1m23 0h1M18 234h1m33 0h1m8 0h1m21 0h1m7 0h1m29 0h1M113 235h1M8 236h1m70 0h1m14 0h1M8 237h1m4 0h1m28 0h1m25 0h1m61 0h1M9 238h1m42 0h1m6 0h1m51 0h1m11 0h1M54 239h1m32 0h1m11 0h1m3 0h1m46 0h1M45 240h1m4 0h2m2 0h1m16 0h1M47 242h1m9 0h1m5 0h1m33 0h1M45 243h1m29 0h1m3 0h1m35 0h1M49 244h1M62 245h1m17 0h1m5 0h1m1 0h1M14 246h1m15 0h1m39 0h1m3 0h1m10 0h1M10 247h1m3 0h1m2 0h1m2 0h1m43 0h1m17 0h1m18 0h1M13 248h1m75 0h1m11 0h1m6 0h1M15 249h1m15 0h1m15 0h1m56 0h1m14 0h1M11 250h1m24 0h1m8 0h1m38 0h1m5 0h1M13 251h1m24 0h1m60 0h1m5 0h1m19 0h1M46 252h1m21 0h1m22 0h1m10 0h1m7 0h2m28 0h1M7 253h1m13 0h1m9 0h1m40 0h1m50 0h1m26 0h1m4 0h1M11 254h1m8 0h1m75 0h1m11 0h1m26 0h1M61 255h1m25 0h1M19 256h1m34 0h1m10 0h1m13 0h1m43 0h1m21 0h1M26 257h1m1 0h1m6 0h1m6 0h1m55 0h1M5 258h1m37 0h1m10 0h1m31 0h1m6 0h1M29 259h1m19 0h1m43 0h1m14 0h1m2 0h1M10 260h1m11 0h1m53 0h1m68 0h1M14 261h1m6 0h1m3 0h1m34 0h1m4 0h1m12 0h1m26 0h1M26 262h1m11 0h1m91 0h1M28 263h1m33 0h1m34 0h1m10 0h1M41 264h1m6 0h1m16 0h1m11 0h1m17 0h1m9 0h1m29 0h1M61 265h1m26 0h1M71 266h1m10 0h1m27 0h1m2 0h1M94 267h1m8 0h1M29 268h1m5 0h1m11 0h1m30 0h1m36 0h1M54 269h1m7 0h1m2 0h1m40 0h1m12 0h1M63 270h1m26 0h1m28 0h1m35 0h1M71 271h1m49 0h1M51 272h1m11 0h1m17 0h1m28 0h1M61 273h1m47 0h1M8 274h1m9 0h1m52 0h1m16 0h1M9 275h1m6 0h1m96 0h1m16 0h1M9 276h1m41 0h1m27 0h1m65 0h1M29 277h2m2 0h1m8 0h1m25 0h1m8 0h1m43 0h1m3 0h1M32 278h1m21 0h1m95 0h1M6 279h1m2 0h1m39 0h1m22 0h1M9 280h1m12 0h1m9 0h1m17 0h1m48 0h1m10 0h1M19 281h1m4 0h1m61 0h1m7 0h1m16 0h1m33 0h1M49 282h1m26 0h1m2 0h2m26 0h1m5 0h1m16 0h1M13 283h1m43 0h1M13 284h1m20 0h1m3 0h2m54 0h1m4 0h1M14 285h1m18 0h1m64 0h1m26 0h1M25 286h1m80 0h1M13 287h1m63 0h1m67 0h1M6 288h1m19 0h2m1 0h1m32 0h1m26 0h1m27 0h1M16 289h1m22 0h1m3 0h1m1 0h1m56 0h1m5 0h1M46 290h1m44 0h1m4 0h1m8 0h1M130 291h1M56 292h1m1 0h1m52 0h1m13 0h1m9 0h1M14 293h1m25 0h1m28 0h1M7 294h1m14 0h1m19 0h1m2 0h1m6 0h1m35 0h1M16 295h1m8 0h1m13 0h1m62 0h1M25 296h1m45 0h1m33 0h1m19 0h1m19 0h1M22 297h1m19 0h1m22 0h1M15 298h1m4 0h1m21 0h1M19 299h1m3 0h1m56 0h1M17 300h1m10 0h1m7 0h1M12 301h1m16 0h1m21 0h1m16 0h1m13 0h1m3 0h1m53 0h1M27 302h1m4 0h1m10 0h1m39 0h1m6 0h1m49 0h1M28 303h1m16 0h1m48 0h1M11 304h1m5 0h1m48 0h1m8 0h1m2 0h1M12 305h1m18 0h1m113 0h1M5 306h1m4 0h1m18 0h1m3 0h1m5 0h1m46 0h1m10 0h1m3 0h1M5 307h1m13 0h1m5 0h1m15 0h1m18 0h1m30 0h1m3 0h1M43 308h1m44 0h1m22 0h1m18 0h1M13 309h1m8 0h1m66 0h1m8 0h1m5 0h1m45 0h1M47 310h1m26 0h1m20 0h1m14 0h1m44 0h1M15 311h1m7 0h1m11 0h1m20 0h1m41 0h1m26 0h1M6 312h1m27 0h1m4 0h1m12 0h1M59 313h1m10 0h1m28 0h1m6 0h1M16 314h1m60 0h1m12 0h1m4 0h1m21 0h1M77 315h1m33 0h1m3 0h1M14 316h1m8 0h1m47 0h1m12 0h1m4 0h1m11 0h1M43 317h1m4 0h1m59 0h1M11 318h1m5 0h1m5 0h1m25 0h1m6 0h1m6 0h1m16 0h1m8 0h1m55 0h1M11 319h1m44 0h1m23 0h1m49 0h1M91 320h1m3 0h1M59 321h1m25 0h1m9 0h1m14 0h1m2 0h1M33 322h1m11 0h1m13 0h1m16 0h1m14 0h1m29 0h1m23 0h1M8 323h1m11 0h1m3 0h1m58 0h1m7 0h1M10 324h1m15 0h1m3 0h1m76 0h1M12 325h1m34 0h1m26 0h1m24 0h1m2 0h1m47 0h1M72 326h1m4 0h1m16 0h1M54 327h1m32 0h1m52 0h1M17 328h1m5 0h1m8 0h2m10 0h1m43 0h1m15 0h1M6 329h1m30 0h1m44 0h1m3 0h1m6 0h1M24 330h1m73 0h1M27 331h1m1 0h1m32 0h1M46 332h1m9 0h1m5 0h1m9 0h1m23 0h1M18 333h1m39 0h1m14 0h2m4 0h1m13 0h1M31 334h1m43 0h1m79 0h1M52 335h1m19 0h1m2 0h1m49 0h1M7 336h1m6 0h1m16 0h1m23 0h1m6 0h1m5 0h1m3 0h1m22 0h1m10 0h1M55 337h1m3 0h2m20 0h1M100 338h1m20 0h1M22 339h1m54 0h1m37 0h1M15 340h1m8 0h1m6 0h1m1 0h1m44 0h1m46 0h1m24 0h1M39 341h1m5 0h2m1 0h1M28 342h1m18 0h1m53 0h1M11 343h1m6 0h1m20 0h1m32 0h1M46 344h1m3 0h1m70 0h1m1 0h1M19 345h1m43 0h1m34 0h1m9 0h1M6 346h1m4 0h1m7 0h1m10 0h1m9 0h1m33 0h1m24 0h1M41 347h1m65 0h1M15 348h1m1 0h1m57 0h1M11 349h1m14 0h1m21 0h1m29 0h1m4 0h1M37 350h1m32 0h1m84 0h1M11 351h1m70 0h1M33 352h1m53 0h1M22 353h1m42 0h1m29 0h1m54 0h1M26 354h1m21 0h1m7 0h1m9 0h1m15 0h1m7 0h1M17 355h1m8 0h1m63 0h1m54 0h1m4 0h1M22 356h1M36 357h1m9 0h1m2 0h1m3 0h1M72 358h1M26 359h1m14 0h1m8 0h1m19 0h1m44 0h1M21 360h1m11 0h1m15 0h1m32 0h1M45 361h1m8 0h1m19 0h1m29 0h1M25 362h1m19 0h1m11 0h1m21 0h1m50 0h1M13 363h1m10 0h1m12 0h1m7 0h1m53 0h1m2 0h1m42 0h1M57 364h1m33 0h1m11 0h1M43 365h2m1 0h1m13 0h1m4 0h1m31 0h1M11 366h1m11 0h1m34 0h1m18 0h2M34 367h1m43 0h1m12 0h1M30 368h1m6 0h1m24 0h1m21 0h1M14 369h1m11 0h1m33 0h1m5 0h1m26 0h1M5 370h1m144 0h1M8 371h1m19 0h1m25 0h1m56 0h1M26 372h1m38 0h1m36 0h1m8 0h1m23 0h1M5 373h1m12 0h1m64 0h1m11 0h1m19 0h1m19 0h1M6 374h1m70 0h1M13 375h1m16 0h1m10 0h1m10 0h1m2 0h1m41 0h1m15 0h1M5 376h1m7 0h1m7 0h1m1 0h1m79 0h1m5 0h1m15 0h1M25 377h1m46 0h1m31 0h1m6 0h1M73 378h1m17 0h1m12 0h1m18 0h1M25 379h1m2 0h1m20 0h1m13 0h1M20 380h1M34 381h1m71 0h1m14 0h1M103 382h1m2 0h1m10 0h1M36 383h1m7 0h1m25 0h1m4 0h1m12 0h1m21 0h1M7 384h1m23 0h1m3 0h1M33 385h1m6 0h1m57 0h1m22 0h1M32 386h1m26 0h1m25 0h1m20 0h1M51 387h1m7 0h1m14 0h1M155 388h1M11 389h1m2 0h1m57 0h1m34 0h1M27 390h1M8 391h1m6 0h1m32 0h1m23 0h1m33 0h1m8 0h1m9 0h1M13 392h1m38 0h1m21 0h1m8 0h1m8 0h1m4 0h1m7 0h1M29 393h1m1 0h1m28 0h1m7 0h1m20 0h1m7 0h1M12 394h1m19 0h1m10 0h1m30 0h1m65 0h1m4 0h1M9 395h1m11 0h1m5 0h1m34 0h1m5 0h1m42 0h1m28 0h1M16 397h1m2 0h1m19 0h1m29 0h1m17 0h1m17 0h1m3 0h1M36 398h1m68 0h1m2 0h1M6 399h1m28 0h1m17 0h1m8 0h1m10 0h1m3 0h1m6 0h1m22 0h1m27 0h1M6 400h1m28 0h1m25 0h1m13 0h1m29 0h1M57 401h1m15 0h1m30 0h1m1 0h1M11 402h1m22 0h1m18 0h1m53 0h1M41 403h1m15 0h1m10 0h1m24 0h1m51 0h1M14 404h1m4 0h1m16 0h1m53 0h1m7 0h1m46 0h1m9 0h1M38 405h1m40 0h1m12 0h1m37 0h1"/>
<path stroke="#463480" d="M130 15h1M31 16h1m113 0h1M69 19h1m36 0h1m18 0h1M68 21h1M21 23h1m47 0h1m15 0h1m23 0h1M84 24h1M13 26h1m20 0h1m4 0h1m10 0h1m1 0h1m1 0h1m25 0h2m1 0h1m7 0h1m7 0h1m3 0h1M9 27h1m65 0h1M25 28h1m20 0h1m9 0h1m5 0h1m4 0h1m5 0h1m9 0h1m2 0h1m18 0h1m11 0h1m1 0h1m5 0h1M29 29h1m2 0h1m8 0h2m11 0h1m1 0h2m2 0h1m3 0h1m11 0h1m12 0h1m13 0h1m1 0h1m29 0h1M11 30h1m3 0h1m19 0h1m11 0h1m9 0h1m15 0h1m23 0h1m23 0h1M17 31h1m4 0h1m13 0h1m1 0h1m6 0h1m3 0h1m7 0h1m19 0h1m1 0h3m8 0h1m1 0h1m10 0h2m16 0h1M18 32h1m18 0h1m7 0h1m10 0h1m10 0h1m11 0h1M35 33h2m7 0h1m9 0h1m33 0h1m34 0h1M8 34h1m4 0h1m30 0h1m29 0h1m12 0h1m3 0h1m18 0h1m8 0h1M27 35h1m24 0h1m7 0h1m10 0h1m16 0h1m3 0h1m16 0h1M8 36h1m20 0h1m19 0h1m5 0h1m4 0h1m2 0h2m2 0h1m82 0h1M19 37h1m4 0h1m6 0h1m64 0h1M6 38h1m28 0h1m11 0h1m4 0h1m2 0h1m9 0h1M38 39h1m8 0h1m87 0h1M51 40h1m7 0h1M10 41h1M39 42h1M61 43h1m19 0h1m43 0h1M34 44h1m56 0h1M34 45h1m1 0h1m40 0h1m4 0h1M43 46h1m28 0h1m42 0h1m24 0h1M26 47h1m5 0h1m3 0h1m6 0h1m59 0h1M60 48h1m56 0h1m12 0h1M106 49h1M37 51h1m24 0h1m43 0h1M10 52h1m41 0h1M47 53h1M36 54h1m67 0h1M11 55h1m10 0h1m9 0h1m4 0h1M6 56h1m20 0h1m62 0h1M75 57h1m21 0h1M9 58h1m35 0h1m42 0h1m7 0h1M36 59h1m8 0h1m1 0h1m5 0h1m34 0h1m7 0h1M18 60h1m42 0h1M80 61h1m1 0h1M77 62h1M41 63h1M8 64h1m4 0h1m63 0h1m27 0h1m39 0h1M52 65h1m34 0h1m20 0h1m31 0h1M8 66h1m13 0h2m24 0h1m30 0h1m11 0h1m23 0h1M29 67h1m16 0h1m34 0h1m33 0h1M5 68h1m63 0h1m11 0h1m26 0h1M103 69h1m1 0h1M57 70h1M48 73h1m50 0h1M82 74h1m32 0h1M32 75h1M22 76h1m26 0h1m15 0h1M18 77h1m34 0h1m27 0h1M87 78h1M11 79h1m17 0h1m64 0h1m12 0h1M22 80h1m27 0h1m34 0h1m13 0h1m50 0h1M99 81h1M74 82h1M6 83h1m69 0h1M59 84h1m39 0h1M33 85h1M33 86h1M35 87h1m39 0h1m7 0h1M30 88h1M7 89h1m40 0h1M12 90h1M94 91h1m35 0h1M19 92h1m90 0h1M9 93h1m21 0h1m9 0h1m30 0h1M39 94h1m14 0h1m22 0h1m20 0h1M47 95h1m15 0h1M48 97h1m16 0h1m49 0h1M33 98h1m42 0h1M11 99h1m18 0h1m70 0h1M7 100h1m63 0h1M83 101h2M22 102h1m10 0h1m28 0h1m29 0h1M26 103h1m54 0h2m28 0h1M40 105h1m5 0h1m22 0h1m1 0h1m58 0h1M14 106h1m1 0h1m87 0h1m8 0h1m1 0h1m1 0h1M24 107h1m13 0h1m13 0h1m2 0h1m29 0h1m4 0h1M38 108h1m66 0h1M28 109h1m1 0h1m6 0h1m6 0h2m14 0h1m79 0h1M11 110h1m2 0h1M11 111h1m66 0h1m27 0h2m17 0h1M58 113h1m91 0h1M12 114h1m25 0h1m42 0h1m11 0h1m3 0h1M53 115h1m49 0h1m19 0h1M8 116h1m141 0h1M33 117h1M44 118h1m16 0h1m1 0h1M41 120h1m67 0h1M11 121h1m17 0h1m6 0h1m6 0h1m19 0h1m1 0h1m36 0h1M130 122h1m4 0h1M37 123h1m45 0h1M53 124h1M84 125h1m2 0h1m4 0h1M46 126h1m15 0h1m6 0h1m38 0h1M28 129h1m71 0h1M25 130h1m74 0h2M8 131h1m16 0h1m9 0h1M113 132h1m9 0h1M29 133h1m15 0h1M31 134h1m91 0h1M95 135h1M28 136h1m61 0h1M23 137h1m53 0h1M33 138h1m1 0h1m64 0h1M63 139h1m14 0h1m30 0h1M12 140h1M22 141h1m11 0h1M6 142h1m56 0h1m18 0h1M40 144h1M49 145h1M44 146h1m24 0h1m6 0h1m29 0h1m16 0h1M69 147h1M67 149h1m19 0h1M91 150h1m38 0h1M35 151h1m6 0h1m11 0h1m48 0h1M42 152h1m48 0h1m27 0h1M13 153h1m72 0h1M62 154h1m2 0h1M14 156h1m79 0h1M10 157h1m38 0h1m13 0h1m61 0h1M56 158h1M41 159h1m17 0h1m14 0h1M77 160h1m1 0h1m26 0h1m14 0h1M79 161h1m3 0h1m4 0h1m17 0h1M33 163h1m4 0h1m46 0h1m20 0h1m18 0h1M18 164h1m19 0h1m9 0h1m22 0h1m47 0h1M33 165h1M49 166h1m2 0h1m39 0h1m2 0h1m19 0h1m19 0h1M18 167h1m46 0h1m13 0h1m65 0h1M15 168h1m15 0h1m16 0h1m39 0h1M60 169h1M23 170h1m36 0h1m19 0h1M6 171h1m38 0h1m34 0h1M18 172h1m8 0h1m14 0h1m65 0h1m16 0h1m14 0h1M12 173h1m26 0h1m51 0h1M10 174h1m10 0h1m41 0h1m14 0h1M61 175h1m6 0h1M23 176h1m11 0h1m8 0h1m1 0h1m32 0h1m20 0h1M23 177h1M104 178h1M30 180h2M47 181h1m54 0h1M56 182h1m21 0h1m61 0h1M16 183h1m79 0h1M47 184h2m44 0h1M38 185h1m8 0h1m50 0h1M35 186h1m6 0h1m46 0h1m14 0h1M23 187h2m9 0h1M5 188h1m24 0h1M10 189h1m22 0h1m19 0h1M5 190h1m8 0h1m36 0h1m55 0h1M17 191h1m81 0h1m5 0h1M63 193h1m1 0h1m89 0h1M34 194h1m7 0h1m25 0h1m6 0h1m1 0h1m4 0h1m8 0h1m6 0h1m7 0h1M8 196h1m86 0h1M8 197h1m14 0h1M50 198h1m64 0h1M33 199h1m27 0h1m31 0h1m25 0h1M80 200h1M24 201h1m63 0h1m10 0h1m50 0h1M12 202h1m52 0h1m4 0h1m18 0h1M50 203h1M90 206h1m5 0h1M104 207h1M18 208h1M16 209h1m1 0h1m89 0h1M38 210h1M13 211h1m21 0h1m19 0h1m1 0h1m3 0h1m55 0h1M7 212h1m10 0h1m10 0h1m27 0h1M37 213h1M36 214h1m12 0h1m65 0h1M91 215h1m18 0h1m24 0h1M73 216h1M117 217h1M76 218h1m3 0h1M9 219h1m4 0h1m83 0h1m2 0h1m19 0h1M7 220h1m26 0h1m7 0h1m3 0h1m34 0h1M37 221h1m57 0h1M61 222h1m28 0h1M21 224h1m23 0h1m22 0h1m26 0h1m12 0h1M22 225h1M12 226h1m9 0h1M19 227h1m5 0h1m91 0h1M39 228h1m12 0h1m3 0h1m13 0h1m39 0h1M56 229h1m12 0h1m29 0h1m10 0h1m39 0h1M27 230h1m7 0h1m10 0h1m49 0h1M21 231h1m73 0h1M13 232h1m2 0h1m33 0h1M96 233h1m24 0h1m3 0h1M40 234h1m67 0h1M54 235h2m30 0h1M43 236h1m8 0h1m19 0h1m40 0h1M10 237h1m17 0h1m7 0h1m42 0h1M30 238h1m43 0h1m50 0h1m4 0h1m14 0h1M24 239h1m7 0h1m12 0h1m13 0h1m32 0h2m36 0h1M17 240h1M47 241h1m4 0h1m18 0h1M49 242h1m61 0h1m3 0h1M72 243h1m35 0h1M39 244h1m25 0h1m28 0h1M41 245h1m8 0h1m94 0h1M41 246h1M58 247h1m48 0h1m11 0h1M17 248h1m13 0h1m22 0h1m24 0h1m6 0h1M25 249h1m8 0h1m16 0h1m49 0h1M22 250h1m3 0h1m103 0h1M85 252h1m13 0h1m13 0h1M94 253h1m4 0h1M15 256h1M32 257h1m1 0h1m67 0h1M12 258h1m19 0h1M69 259h1m47 0h1M49 260h1m80 0h1M46 261h1m63 0h1M27 262h1m57 0h1m16 0h1m47 0h1M125 263h1M24 264h1m1 0h1m4 0h1m3 0h1m17 0h1m36 0h1M91 265h1M65 266h1m4 0h1M21 267h1m86 0h1m6 0h1M25 268h1m12 0h1m6 0h1m6 0h1m1 0h1m18 0h1m20 0h1m18 0h1M26 269h1m83 0h1m19 0h1M19 270h1M51 271h1m25 0h1m33 0h1m3 0h1M32 272h1m6 0h1m6 0h1M51 274h1m71 0h1M5 275h1m8 0h1m21 0h1M62 276h1m43 0h1M54 277h1m14 0h1m5 0h1m20 0h1m2 0h1m50 0h1M34 278h1M10 279h1m139 0h1M74 280h1M13 281h1m9 0h1m12 0h1m22 0h1m3 0h1m27 0h2m6 0h1M36 282h1M15 283h1m61 0h1m9 0h1M9 284h1m7 0h1m3 0h1m35 0h1m7 0h1m8 0h1m27 0h1m3 0h1M5 285h1m59 0h1m16 0h1m36 0h1M22 287h1m12 0h1m37 0h1m47 0h1M12 288h1m48 0h1m17 0h1M14 290h1m61 0h1M29 291h1m38 0h1m4 0h1M39 292h1m9 0h1M22 293h1m40 0h1m21 0h1M41 294h1m21 0h1m5 0h1m29 0h1m35 0h1m4 0h1M70 295h1M72 296h1m22 0h1M31 297h1m40 0h1m67 0h1M83 298h1m3 0h1m8 0h1M13 299h2m42 0h1M19 300h1m35 0h1M43 301h1m11 0h1m46 0h1M26 302h1m26 0h1m1 0h1m57 0h1M10 303h1m55 0h1m42 0h1m5 0h1M145 304h1M89 305h1M9 307h1m5 0h1m51 0h1M25 308h1m34 0h1m2 0h1m3 0h1m24 0h1M37 309h1m9 0h1m17 0h1M19 310h1m12 0h1m11 0h1m53 0h1m46 0h1M31 311h1m79 0h1m3 0h1M7 312h1m52 0h1m13 0h1m5 0h1m29 0h1M25 313h1m19 0h1m34 0h1m16 0h1m11 0h1M30 314h1m28 0h1M71 315h1M48 316h1m54 0h1M117 317h1M7 318h1m46 0h1M47 319h1m15 0h1m26 0h1M29 320h1M49 321h1m1 0h1m20 0h1M43 322h1m13 0h2m13 0h1m22 0h1m14 0h1M10 323h1m67 0h1m1 0h1m15 0h1M6 324h1m48 0h1m24 0h1m64 0h1M23 325h1m38 0h1m9 0h1M54 326h1m30 0h1m24 0h1m2 0h1M65 327h1m17 0h1M49 329h1m34 0h1m25 0h1M99 330h1m6 0h1M50 331h1m1 0h1m3 0h1m35 0h1m10 0h1M60 332h1M65 333h1m39 0h1M39 334h1m57 0h1M34 335h1m33 0h1m18 0h1m8 0h1m2 0h1M88 336h1m3 0h1m42 0h1M21 337h1m4 0h1m83 0h1M12 338h1m37 0h1M117 339h1m1 0h1M69 340h1m24 0h1m5 0h1m9 0h1m8 0h1m25 0h1M20 341h1m5 0h1M12 342h1m81 0h1m26 0h1M8 343h1m23 0h1M69 344h1M28 345h1m28 0h1m7 0h1m3 0h1m16 0h1m24 0h1m1 0h1m36 0h1M52 346h1m10 0h1m86 0h1M67 347h1m67 0h1m9 0h1m4 0h1M36 348h1m30 0h1M30 349h1m5 0h1m8 0h1m21 0h1M58 351h1M30 352h1m62 0h1m2 0h1m4 0h1M38 353h1m23 0h1m24 0h1m8 0h1m6 0h1M20 354h1m17 0h1m67 0h1M7 355h1m5 0h1m2 0h1M16 356h1m2 0h1m84 0h1M52 357h1M52 358h1m36 0h1m9 0h1M40 359h1m8 0h1m63 0h1m31 0h1M25 360h1m64 0h1M31 361h1m76 0h1M54 362h1m19 0h1M74 363h1m29 0h1M20 364h1m1 0h1M54 365h1m7 0h1m13 0h1m23 0h1M15 366h1m22 0h1m26 0h1M24 367h1m46 0h1m83 0h1M12 368h1m79 0h1m26 0h1m15 0h1m19 0h1M52 369h1m9 0h1m4 0h1m55 0h1M36 370h1m11 0h1m43 0h1m30 0h1M10 371h1m37 0h1m53 0h1m10 0h1M8 372h1m39 0h1m2 0h1M32 373h1m51 0h1m2 0h1m57 0h1M12 374h1m5 0h1m17 0h1m2 0h1m3 0h1m4 0h1m6 0h1M15 375h1m12 0h1m63 0h2m51 0h1M25 376h1m69 0h1M37 377h1m7 0h1m43 0h1m10 0h1M10 378h1m28 0h1m31 0h1M89 379h1M9 380h2m27 0h1M17 381h1m9 0h1m45 0h1m2 0h1M8 383h1M48 384h1m10 0h1m35 0h1M25 386h1m69 0h1m4 0h1M100 387h1m54 0h1M68 388h1m35 0h1M25 389h1m17 0h1m30 0h1M69 390h1M50 391h2m32 0h1m60 0h1M6 392h1m1 0h1m41 0h1m74 0h1M38 393h1m18 0h1m3 0h1m24 0h1M84 394h1m14 0h1M26 395h1m49 0h1M43 396h1M7 398h1m4 0h1M63 399h1M12 400h1m27 0h1m28 0h1M5 401h1m88 0h1m22 0h1M5 402h1m51 0h1m53 0h1M9 403h1m9 0h1m2 0h1m1 0h1m77 0h1M69 405h1m23 0h1m3 0h1"/>
<path stroke="#443b84" d="M145 15h1M130 17h1M145 18h1M32 19h1m42 0h1M135 21h1M31 22h1m103 0h1M44 23h1m68 0h1m1 0h1m7 0h1M9 26h1m11 0h1m6 0h1m7 0h1m6 0h1m16 0h1m44 0h1M78 27h1m6 0h1M23 28h1m3 0h1m8 0h1m7 0h1m2 0h1m12 0h1m11 0h1m7 0h1m4 0h1M21 29h1m2 0h1m11 0h1m6 0h2m5 0h1m4 0h1m18 0h1m13 0h1m3 0h1m20 0h1M23 30h1m3 0h1m16 0h1m1 0h1m19 0h1m21 0h1M11 31h1m2 0h1m25 0h1m2 0h1m12 0h1m31 0h1m9 0h1m56 0h1M5 32h1m11 0h1m5 0h1m1 0h1m8 0h1m5 0h1m41 0h1m1 0h1m1 0h1m17 0h1M24 33h1m2 0h1m13 0h1m20 0h1m30 0h1M15 34h1m9 0h1m10 0h1m42 0h1M17 35h1m22 0h1m6 0h1m1 0h1m14 0h1m9 0h1m16 0h1M19 36h2m19 0h1m64 0h1M6 37h1m20 0h1m27 0h1M34 38h1M52 39h1M8 40h1m59 0h1m66 0h1M41 41h1M67 42h1M60 43h1m17 0h1m23 0h1M63 44h1M11 47h2M11 48h2m55 0h1M54 50h1m51 0h1m8 0h1M107 51h1M71 52h1M27 55h1m17 0h1m53 0h1m3 0h1M69 56h1M67 57h1m34 0h1M51 58h1m50 0h1M30 59h1M35 60h1m24 0h1M35 61h1m18 0h2M29 62h1m5 0h1M17 64h2m73 0h1M32 66h1m11 0h1m45 0h1m17 0h1m31 0h1M13 67h1m1 0h1M15 68h1M15 69h1m1 0h1m80 0h1M14 70h1m135 0h1M90 71h1M140 72h1m9 0h1M67 76h1M18 78h1m6 0h1m42 0h1M9 79h1m74 0h1M12 80h1M99 82h1M12 83h1m5 0h1M20 84h1m8 0h1M56 85h1m45 0h1M79 86h1M49 88h1m25 0h1m4 0h1M47 89h1m45 0h1m25 0h1M35 91h1m23 0h1M74 92h1M67 93h1M10 94h1m112 0h1M72 95h1m25 0h1m5 0h1M26 96h1M9 97h1m5 0h1m71 0h1M44 98h1m54 0h1m1 0h1M78 99h1M30 100h1M28 102h1M72 103h1M38 105h1M41 106h1m88 0h1M67 108h1m67 0h1M6 109h1M16 110h1m73 0h1M90 111h1M5 114h1m16 0h1M61 115h1M52 116h1m92 0h1M55 117h1m67 0h1M121 118h1M26 119h1m8 0h1M7 120h1m10 0h1m7 0h1m60 0h1m10 0h1m3 0h1M98 121h1M74 122h1m35 0h1M86 123h1M63 125h1M68 126h1M8 127h1M28 128h1M31 129h1m35 0h1m22 0h1M6 131h1m48 0h1m3 0h1m63 0h1M70 132h1M117 133h1M28 134h1M28 135h1M54 137h1M92 138h1m28 0h1M99 139h1M26 140h1m7 0h1m86 0h1M82 141h1m4 0h1m8 0h1m4 0h1M87 142h1M88 143h1M52 144h1m47 0h1M13 145h1m2 0h1m2 0h1m74 0h1m28 0h1M11 146h1m19 0h1m93 0h1M38 147h1m37 0h1m11 0h1M62 148h1M23 149h1M63 150h1m16 0h1M40 151h1M16 152h1m68 0h1M47 159h1M90 161h1m19 0h1m19 0h1M30 162h1M140 163h1M50 164h1m59 0h1M63 165h1M22 166h1m53 0h1m27 0h1M84 167h1M33 168h1M140 169h1M81 171h1m6 0h1m51 0h1M13 172h1m77 0h1M22 174h1m66 0h1m20 0h1M14 175h1M45 176h1m99 0h1M49 177h1m36 0h1M64 180h1M36 183h1m3 0h1m56 0h1M115 184h1M31 185h1M24 186h1m9 0h1m10 0h1m38 0h1M24 188h1M14 189h1m90 0h1M12 190h1M67 191h1m13 0h1M67 192h1M59 193h2M34 195h1m56 0h1m6 0h1M45 196h1M43 197h1m14 0h1M12 198h1m28 0h1m18 0h1m52 0h1m5 0h1M8 199h1m28 0h1m12 0h1m34 0h1M29 200h1m110 0h1M36 201h1m74 0h1M30 202h1m23 0h1m40 0h1m3 0h1M27 203h1M49 204h1M30 205h1M23 206h1M30 207h1m19 0h1M13 208h1m34 0h1M30 210h1M23 212h1m6 0h1M155 213h1M60 214h1M45 215h1M33 216h1m53 0h1M31 217h1M87 219h1M8 222h1m95 0h1M39 224h1M6 225h1m13 0h1m13 0h1m41 0h1M35 226h1m22 0h1m26 0h1m5 0h2M75 229h1M7 230h1M27 231h1m71 0h1M96 232h1M46 233h1M65 235h1m69 0h1M40 236h1M39 237h1M22 238h1m35 0h1m9 0h1M48 239h1M38 240h1M14 241h1M76 242h1M63 243h1M57 244h1m50 0h1M20 246h1M29 247h1m47 0h1M101 252h1M36 253h1M155 254h1M18 256h1M12 257h1M23 258h1m35 0h1m85 0h1M10 259h1m45 0h1m45 0h1M110 260h1M8 261h1M69 262h1m4 0h1M38 264h1m91 0h1M48 266h1m81 0h1M20 268h1m89 0h1M45 269h1m1 0h1m30 0h1m42 0h1M89 270h1M64 271h1m33 0h1M11 272h1m107 0h1M53 273h1m11 0h1m34 0h1M117 274h1M62 275h1M93 276h1M32 277h1M22 279h1m53 0h1M14 280h1m29 0h1M105 281h1m44 0h1M91 282h1M39 283h1m1 0h1m71 0h1M14 284h1m98 0h1M81 285h1m6 0h1M88 286h1M86 287h1m3 0h1M16 288h1m1 0h1m31 0h1m18 0h1M10 290h1m18 0h1M14 291h1m62 0h1M117 292h1M50 293h1M130 294h1M28 295h1m68 0h1M32 296h1m97 0h1M17 298h1m38 0h1M42 299h1M29 300h1m50 0h1M80 301h1M65 302h1M7 303h1m47 0h1M54 304h1m50 0h1M79 305h1M34 307h1m68 0h1m31 0h1M28 308h1M6 310h1m52 0h1m5 0h1M51 311h1M52 313h1m4 0h1m29 0h1M56 314h1m48 0h1M99 315h1m23 0h1M140 316h1M17 317h1m15 0h1M10 320h1M58 321h1M96 322h1M150 323h1M21 324h1M30 325h1m26 0h1M49 326h1m57 0h1M68 327h1M40 328h1m24 0h1m69 0h1M65 329h1m14 0h1M52 330h1M23 331h1M55 332h1m9 0h1m37 0h1m36 0h1M96 333h2M105 334h1M5 335h1m7 0h1M55 338h1M17 339h1m32 0h1M30 340h1M145 341h1M18 342h2m26 0h1m68 0h1M23 343h1m99 0h1M5 344h1M71 345h1M31 346h1M105 347h1M55 348h1M7 349h1m98 0h1M18 351h1m46 0h1M18 352h1m43 0h1m2 0h1m40 0h1M46 353h2m44 0h1M37 354h1M83 355h1M65 356h1M37 357h1m56 0h1M37 358h1m52 0h1m1 0h1m4 0h1M113 360h1M22 362h1m11 0h1m16 0h1M54 363h1m10 0h1m14 0h1m9 0h1M28 364h1m81 0h1M96 366h1m11 0h1M52 368h1M7 370h1M93 371h1m10 0h1M125 372h1M39 373h1m3 0h1m34 0h1M87 374h1m16 0h1M65 376h1m19 0h1M84 379h1m25 0h1M38 381h1m17 0h1m3 0h1M60 382h1M11 383h1m10 0h1m29 0h1m12 0h1M98 384h1M150 385h1M94 386h1M13 387h1m7 0h1m40 0h1m9 0h1m31 0h1M75 388h1M37 389h1M26 390h1m48 0h1M74 391h1M62 394h1M39 396h1m29 0h1M73 397h1m66 0h1M63 398h1M82 399h1m67 0h1M53 400h1M67 401h1M21 402h1m2 0h1m38 0h1m12 0h1M26 403h1m88 0h1M76 405h1"/>
<path stroke="#414487" d="M31 17h1M42 19h1m41 0h2M68 20h1M32 21h1M32 22h1M69 25h1m5 0h1m9 0h1m39 0h1M16 26h1m18 0h1m26 0h3m8 0h1m2 0h1m2 0h1m8 0h1m8 0h1M25 27h1m97 0h1M18 28h1m1 0h2m13 0h1m9 0h1m5 0h1m5 0h1m24 0h1M8 29h1m10 0h1m19 0h1m12 0h2m7 0h1m15 0h1m26 0h1m40 0h1m9 0h1M18 30h1m5 0h1m11 0h1m24 0h2m19 0h1m8 0h1m58 0h1M23 31h1m22 0h1m20 0h1m4 0h1m14 0h1m8 0h2M28 32h1m18 0h1m5 0h1m18 0h1m17 0h1m64 0h1M20 33h1m73 0h1M17 34h1m9 0h1m7 0h1M24 35h1m30 0h1m43 0h1M93 36h1M5 37h1m144 0h1M19 38h1m21 0h1m25 0h1M59 39h1M6 40h1M16 43h1M48 47h1M5 48h1m42 0h1M67 49h1M34 51h1m60 0h1M95 52h1M55 53h1m11 0h1M130 55h1M52 56h1M87 57h1M39 59h1M56 63h1m10 0h1m77 0h1M67 66h1M19 68h1M5 69h1M12 70h1m76 0h1M40 74h1M22 75h1M63 76h1M76 77h1m10 0h1M76 78h1M46 89h1M86 91h1M83 94h1M57 98h1M61 99h1M104 102h1M57 104h1M67 105h1M57 107h1M43 109h1M17 114h1M100 115h1M61 117h1M123 118h1M88 119h1M106 124h1M99 129h1M67 130h1M46 131h1M25 132h1m9 0h1M93 135h1M87 140h1M43 142h1m26 0h1M93 148h1M91 149h1M81 152h1M95 153h1M15 158h1M42 159h1M47 160h1m6 0h1m43 0h1m16 0h1M15 162h1m58 0h1M121 163h1M88 170h1M80 174h1M7 175h1M113 177h1M111 183h1M42 184h1M16 185h1M50 190h1m6 0h1M63 192h1M82 193h1M20 197h1m19 0h1M40 198h1M42 199h1M8 200h1m72 0h1M30 204h1M6 206h1m20 0h1M30 208h1m5 0h1m113 0h1M30 209h1m26 0h1M74 213h1M25 215h1m55 0h1M60 217h1m44 0h1M21 223h1M107 226h1M130 227h1M44 230h1M49 237h1M150 238h1M18 239h1m81 0h1M97 241h1m2 0h1M49 243h1M106 245h1M86 246h1M11 248h1M45 249h1M89 256h1M15 257h1M9 259h1m13 0h1M60 260h1M150 261h1M34 262h1M92 263h1M75 264h1M68 269h1M13 272h1M65 274h1M65 275h1M105 276h1m24 0h1M53 277h1M14 278h1m120 0h1M53 279h1M6 282h1m52 0h1m5 0h1M80 283h1M106 287h1M91 289h1M6 290h1m112 0h1M65 291h1M84 292h1M39 299h1M65 301h1M27 305h1M65 311h1M76 312h1M19 318h1m45 0h1M65 319h1M5 322h1M89 323h1M29 326h1M10 330h1m82 0h1M89 331h1M5 333h1M49 340h1M23 344h1m47 0h1M155 346h1M65 347h1M30 348h1m10 0h1M58 349h1M58 350h1m13 0h1M58 355h1m6 0h1m38 0h1M83 356h1m7 0h1M27 357h1M58 358h1m11 0h1M90 359h1M73 361h1m1 0h1M121 363h1M97 366h1M24 368h1M7 369h1M35 372h1M65 374h1M93 376h1m17 0h1M20 378h1M17 382h1m36 0h1M106 383h1M70 386h1M46 387h1m62 0h1M13 388h1M94 390h1M75 391h1M37 392h1m22 0h2M16 393h1m57 0h1M54 397h1M106 398h1M52 399h1M14 403h1"/>
<path stroke="#3e4a89" d="M145 17h1M32 18h1M59 19h1M106 23h2m3 0h1M44 24h1m40 0h1m25 0h1M97 25h1M22 26h1m2 0h1m14 0h1M59 27h1m24 0h1M24 28h1m8 0h1m15 0h1m42 0h1m5 0h1m1 0h1m3 0h1M13 29h1m11 0h1m8 0h1m35 0h1m28 0h1m50 0h1M20 30h1m16 0h1m2 0h1m49 0h1m54 0h1M47 31h1m2 0h1m1 0h1m1 0h1M8 32h1m46 0h1M28 34h1m23 0h1M20 35h1m61 0h1M5 38h1M7 39h1M67 47h1M67 51h1M71 53h1M55 54h1M36 58h1m30 0h1M82 59h1M67 61h1M8 63h1m70 0h1M67 65h1M90 67h1M67 77h1M67 80h1M44 81h1m34 0h1M125 82h1M67 87h1M67 88h1M80 91h1M47 92h1M67 94h1M67 97h1M67 98h1M53 103h1m13 0h1M67 104h1M150 107h1M36 109h1M87 121h1M67 124h1M119 129h1M48 130h1M155 132h1M36 141h1M17 155h1M54 159h1M9 161h1M110 163h1M80 173h1M44 175h1M50 183h2m29 0h1M13 184h1m69 0h1M22 188h1M57 191h1M58 196h1M50 206h1M27 208h1M13 209h1m30 0h1M24 211h2M27 212h1M27 216h1M5 217h1M90 230h1M145 244h1M39 245h1M85 255h1m44 0h1M130 261h1M105 263h1M16 264h1M95 265h1M20 267h1M117 273h1M26 274h1M45 276h1M130 278h1M65 283h1M17 290h1M29 292h1m35 0h1M65 293h1M125 297h1M65 300h1M11 305h1M44 308h1M74 311h1M47 320h1m17 0h1M9 324h1M18 332h1M13 334h1M65 336h1M65 337h1M65 338h1M46 346h1M30 347h1M107 356h1M65 364h1m55 0h1M11 370h1M99 373h1M77 376h1M65 381h1M74 390h1M14 402h1"/>
<path stroke="#3b528b" d="M130 8h1M121 13h1M83 19h1m23 0h1M31 20h2M84 21h1m10 0h1M68 22h1m26 0h1M84 23h1m16 0h1m19 0h1M69 24h1m55 0h1M9 25h1m49 0h1M15 26h1m11 0h1m18 0h1m2 0h1m43 0h1m27 0h1M42 27h1m38 0h1M22 28h1m6 0h1m4 0h1m53 0h1m10 0h1M35 29h1m27 0h1m9 0h1m8 0h1m8 0h1M8 30h1m19 0h1m16 0h1m21 0h1m31 0h1M55 31h1m5 0h1M24 32h1m21 0h1m2 0h1m2 0h1m17 0h1M8 33h1M18 34h1m31 0h1M7 35h1m85 0h1M67 37h1M7 41h1M67 48h1M67 50h1M67 62h1M67 64h1M67 75h1M67 79h1M67 89h1M67 90h1M67 101h1M12 112h1M11 122h1m128 0h1M67 125h1M67 126h1M67 128h1M71 145h1M42 158h1M74 214h1M100 240h1M130 242h1M130 256h1M125 284h1M65 346h1M25 368h1M39 394h1"/>
<path stroke="#38598c" d="M31 3h1M58 8h1m86 0h1M140 13h1M12 14h1M32 17h1M31 18h1M33 19h1m67 0h1m8 0h1m4 0h1m5 0h1M12 20h1M125 21h1M13 22h1m126 0h1M125 23h1m29 0h1M59 24h1m41 0h1m7 0h1M109 25h1M11 26h1m6 0h1M16 27h1m52 0h1m31 0h1m4 0h1M53 28h1m16 0h1m25 0h1M20 29h1m9 0h1m14 0h1M19 30h1m5 0h1m8 0h1m4 0h1m1 0h1m7 0h2m9 0h1m10 0h1m32 0h1M8 31h1M43 32h1m13 0h1m13 0h1M5 33h1m64 0h1M6 35h1m27 0h1M67 45h1M67 52h1M67 59h1M67 91h1M87 93h1M67 100h1M67 102h1M34 158h1M150 204h1M23 207h1m3 0h1M24 208h1M23 211h1M27 213h1M24 214h2M27 215h1M113 251h1M65 265h1M51 322h1M65 382h1M39 395h1"/>
<path stroke="#355f8d" d="M12 7h1M58 10h1m36 0h1m44 0h1M31 15h1M48 19h1m2 0h1m56 0h1m2 0h1m11 0h1m11 0h1M130 20h1m4 0h1M65 21h1M12 22h1M42 23h1m16 0h1M9 24h1m32 0h1m5 0h1m57 0h1m1 0h1m1 0h1m10 0h1M48 25h1m35 0h1m21 0h1m14 0h1m1 0h1M24 26h1M11 27h1m93 0h1m15 0h1M5 28h1m2 0h1m45 0h1m8 0h1m10 0h1m18 0h1M5 30h1m37 0h1m52 0h1m58 0h1M24 31h1m51 0h1M7 32h1m85 0h1M7 36h1M7 37h1m85 0h1M67 60h1M67 78h1M67 127h1M24 210h1M24 212h1M65 373h1"/>
<path stroke="#31668e" d="M68 14h1M68 16h1M68 17h1M81 19h1m27 0h1M75 20h1m69 0h1M75 22h1M8 23h2m72 0h1m25 0h1M107 24h1m15 0h1M42 25h1m68 0h1M14 26h1M15 27h1m32 0h1m61 0h1M10 28h2M40 29h1M79 30h1m13 0h1M5 31h1M7 33h1M10 34h1M67 46h1M67 92h1M67 99h1M23 208h1M23 210h1M25 212h1M24 213h2"/>
<path stroke="#2f6c8e" d="M130 11h1M95 14h1M57 19h1M123 21h1M110 23h1M29 24h1m21 0h1m31 0h1M13 25h1m37 0h1m8 0h1m46 0h1m5 0h1M24 27h1m39 0h1m85 0h1M39 28h1M17 29h1M39 31h1M50 32h1M39 33h1M130 277h1"/>
<path stroke="#2c728e" d="M130 13h1M130 14h1M68 15h1M32 16h1M68 18h1M43 19h2m15 0h1m21 0h1m3 0h1m2 0h1m4 0h1m10 0h1m13 0h1M13 21h1m61 0h1M78 22h1M33 23h1m14 0h1m2 0h1m31 0h1M16 24h1m16 0h1m79 0h1m5 0h1M11 25h1m3 0h1m5 0h1m79 0h1m6 0h1m41 0h1M17 26h1M37 27h1m13 0h2m3 0h1m32 0h1m14 0h1M40 28h1M10 29h1m7 0h1M6 32h1M10 33h1M130 249h1"/>
<path stroke="#2a788e" d="M135 10h1M31 13h1m63 0h1M38 16h1M140 17h1M87 19h1m9 0h2m4 0h1M106 22h1M13 23h1m91 0h1m44 0h1M15 24h1m40 0h1m9 0h1m4 0h1m17 0h1m25 0h1m34 0h1M33 25h1m44 0h1m4 0h1m31 0h1m3 0h1M19 26h2M14 27h1m46 0h1m11 0h1m20 0h1m14 0h1m1 0h1M50 28h1m13 0h1M5 29h1m1 0h1M10 30h1"/>
<path stroke="#277e8e" d="M12 0h1M84 13h1M145 14h1M140 15h1M65 16h1m69 0h1M95 18h1m39 0h1M29 19h1m36 0h1m11 0h1M95 20h1M11 23h1m2 0h2m62 0h1M14 24h1m90 0h1M14 25h1m1 0h1m49 0h1m43 0h1M13 27h1m4 0h1m10 0h1m67 0h1M79 29h1M102 30h1M10 32h1M6 34h1M6 39h1M24 209h1"/>
<path stroke="#25848e" d="M145 11h1M31 12h1M65 13h1m79 0h1M31 14h1m6 0h1M32 15h1M12 17h1m62 0h1M38 18h1m36 0h1m49 0h1m14 0h1M47 19h1m14 0h1m10 0h2m13 0h1m28 0h1M38 20h1m26 0h1m19 0h1m54 0h1M85 21h1m35 0h1M38 22h1m26 0h1m3 0h1M66 23h1m20 0h1M21 24h1m15 0h1m19 0h1m20 0h1m2 0h1m15 0h1m5 0h2M22 25h1M5 26h1M22 27h1m10 0h1m52 0h1m12 0h1m13 0h1M79 28h1M70 30h1M7 31h1M7 34h1"/>
<path stroke="#238a8d" d="M68 1h1M26 9h1M75 13h1m47 0h1m1 0h1m9 0h1M113 14h1M95 15h1m39 0h1M140 16h1M95 17h1m39 0h1M65 18h1M27 19h1m25 0h1m2 0h1m23 0h1M11 20h1m14 0h1M113 21h1m5 0h1M94 23h1m2 0h2m1 0h1m1 0h1M11 24h1m1 0h1m8 0h2m43 0h1m31 0h1M57 25h1m36 0h1m4 0h1m17 0h1m37 0h1M20 27h2m52 0h1m40 0h1m3 0h1m35 0h1M6 30h1M10 36h1M23 209h1"/>
<path stroke="#21918c" d="M26 7h1m4 0h1M58 11h1M32 13h1m5 0h1M65 14h1m69 0h1M12 16h1M28 19h1m11 0h1m13 0h1m22 0h1m26 0h1M9 20h1m91 0h1M150 21h1M85 22h1M16 23h1m3 0h1m1 0h1m44 0h1m13 0h1m4 0h1m2 0h1M87 24h1m12 0h1m1 0h1M18 25h1m4 0h1m20 0h1m2 0h1m26 0h1m6 0h1m7 0h1m8 0h1m6 0h1M8 26h1M5 27h1m30 0h1m17 0h1m2 0h1m22 0h1m1 0h2m3 0h2m1 0h1m2 0h1m23 0h1"/>
<path stroke="#1f968b" d="M32 14h1M38 15h1M38 17h1m26 0h1M12 18h1M30 19h1m8 0h1m6 0h1m5 0h1m14 0h1m2 0h1M84 20h1M9 21h1m71 0h1M9 22h1m16 0h1m57 0h1m7 0h1m32 0h1M28 23h1m32 0h1m10 0h1m4 0h1m14 0h1m6 0h1M27 24h1m42 0h1m1 0h2m12 0h1m1 0h1M63 25h1m26 0h2m12 0h1M8 27h1m14 0h1m16 0h1m2 0h1m2 0h1m19 0h1m5 0h1m25 0h1m1 0h1m1 0h2M28 28h1M6 36h1"/>
<path stroke="#1e9c89" d="M58 1h1M12 3h1M38 12h1M75 15h1M26 16h1M26 18h1M23 19h1m13 0h1m3 0h1m49 0h1m4 0h1m5 0h1M59 20h1M42 21h1m65 0h1M42 22h1M23 23h1m6 0h1m3 0h1m8 0h1m13 0h1M20 24h1m20 0h1m5 0h1m29 0h1m4 0h1m7 0h2m6 0h1M20 25h1m46 0h1m28 0h1m6 0h1M10 26h1M17 27h1m12 0h1m8 0h1m1 0h1m21 0h1m3 0h1m3 0h1m7 0h1m11 0h2m3 0h1M7 28h1M7 30h1"/>
<path stroke="#1fa287" d="M75 14h1M49 19h1m11 0h1m2 0h1m7 0h1m3 0h1m13 0h1m1 0h2M42 20h1m64 0h1M106 21h1M117 22h1M18 23h1m30 0h1m2 0h1m3 0h1m6 0h1m10 0h1m16 0h1m11 0h2M30 24h1m8 0h1m3 0h1m1 0h1m6 0h1m8 0h1m1 0h1m28 0h1m3 0h1M8 25h1m10 0h1m17 0h1m7 0h1m7 0h1m7 0h1m10 0h2m12 0h3m3 0h1M19 27h1m24 0h2m1 0h1m28 0h2"/>
<path stroke="#22a884" d="M31 11h1M65 15h1M45 19h1m9 0h1m23 0h1m19 0h2M48 20h1m14 0h1m42 0h1M59 21h1m57 0h1M123 22h1M27 23h1m1 0h1m6 0h1m2 0h1m5 0h1m1 0h1m6 0h2m6 0h1m10 0h1m16 0h1M18 24h1m9 0h1m6 0h1m24 0h1m3 0h1m9 0h1m19 0h1M17 25h1m10 0h2m6 0h1m15 0h1m3 0h1m14 0h1m10 0h1M28 27h1m20 0h2"/>
<path stroke="#28ae80" d="M58 2h1M26 14h1m98 0h1M26 17h1M9 19h1m25 0h1m35 0h1M111 20h1M48 22h1m10 0h1m41 0h1M5 23h1m11 0h1m7 0h1m9 0h1m1 0h1m22 0h1m3 0h1m11 0h1m2 0h1m8 0h1M17 24h1m1 0h1m26 0h1m33 0h1M39 25h1m30 0h1m6 0h1m2 0h1m19 0h1M60 27h1m9 0h1"/>
<path stroke="#2fb47c" d="M12 2h1M12 13h1m13 0h1M140 14h1M12 15h1m13 0h1M59 16h1M121 18h1M15 19h1m18 0h1m1 0h1m13 0h1M33 20h1M51 21h1M51 22h1m55 0h2m4 0h1m1 0h1m39 0h1M53 23h1m16 0h2m8 0h1m15 0h1M34 24h1m1 0h1m3 0h1m8 0h1m3 0h3m6 0h1m16 0h1m13 0h1M24 25h2m1 0h1m13 0h1m1 0h1m2 0h1m7 0h2m20 0h1m25 0h1M6 26h1M55 27h1M6 29h1"/>
<path stroke="#38b977" d="M31 10h1m113 0h1M115 13h1M9 18h1m47 0h1m65 0h1M21 19h1M14 20h1m54 0h1m35 0h1m4 0h1m12 0h1M69 21h1m31 0h1m5 0h1m7 0h1M15 22h3m4 0h1m10 0h1m55 0h1m21 0h1M19 23h1m30 0h1M24 24h2m50 0h1M5 25h1m43 0h1m12 0h1M53 27h1"/>
<path stroke="#44bf70" d="M130 10h1M32 11h1M32 12h1M125 15h1M44 16h1m28 0h1M125 17h1M25 19h1m87 0h1M22 20h1m59 0h1m42 0h1M15 21h1m6 0h1m50 0h1m81 0h1M21 22h1m87 0h2m10 0h1M41 23h1M50 24h1M10 25h1m19 0h1m9 0h1m38 0h1M7 26h1M62 27h1"/>
<path stroke="#50c46a" d="M140 3h1M58 7h1M59 13h1m59 0h1M85 16h1M85 18h1M13 19h1M16 20h1m4 0h1m61 0h1M16 21h1m4 0h1m11 0h1m44 0h1m26 0h1m5 0h1M11 22h1m41 0h1m96 0h1M24 23h1m15 0h1M5 24h1M64 25h1M10 27h1m16 0h1m6 0h1M6 28h1M6 33h1"/>
<path stroke="#5ec962" d="M32 10h1M26 11h1M155 13h1M123 14h1M125 16h1M9 17h1M150 18h1M11 19h1m4 0h1m5 0h1m40 0h1M15 20h1M14 21h1m41 0h1m53 0h1M66 22h1m14 0h3M93 23h1M8 24h1m1 0h1M34 25h1m58 0h1"/>
<path stroke="#6ccd5a" d="M85 13h1M48 16h2M33 17h1M69 18h1M23 20h1m84 0h2M54 21h1m54 0h1M14 22h1m5 0h1m2 0h1M46 23h1M35 25h1"/>
<path stroke="#7ad151" d="M117 12h1M110 16h2m11 0h1M123 17h1M8 18h1m5 0h1m69 0h1M14 19h1m3 0h1m5 0h1M67 20h1m8 0h1m21 0h2M17 21h1m64 0h1m6 0h1M5 22h1m12 0h1m25 0h1m11 0h1m16 0h1M50 25h1"/>
<path stroke="#8bd646" d="M130 12h1M69 13h1M85 14h1M30 16h1m11 0h1m26 0h1m36 0h1M84 17h1m65 0h1M16 18h1m89 0h1M150 19h1M13 20h1m37 0h1m22 0h1M23 21h1m67 0h2M45 22h1m9 0h1m11 0h1m8 0h1m21 0h3m4 0h1M6 27h1"/>
<path stroke="#9bd93c" d="M32 0h1M58 3h1M38 7h1m96 0h1M95 8h1m44 0h1M68 12h1m76 0h1M42 13h1M121 14h1M11 15h1m72 0h1m22 0h1m15 0h1M51 16h1m32 0h1m16 0h1M42 17h1M13 18h1m50 0h1m36 0h1m7 0h1M17 20h1m1 0h1m34 0h1m11 0h1m11 0h1m2 0h1m4 0h1m30 0h1m3 0h1m28 0h1M57 21h1m9 0h1m26 0h1M10 22h1m68 0h1m16 0h1m22 0h1M10 23h1M7 27h1"/>
<path stroke="#addc30" d="M31 0h1m63 0h1M32 1h1M32 7h1m35 0h1M31 8h2m5 0h1m29 0h1m6 0h1M58 9h1M68 10h1m6 0h1M95 12h1M23 13h1m77 0h1m4 0h1M84 14h1m34 0h1M85 15h1M33 16h1m73 0h1m9 0h1M21 17h1m37 0h1m47 0h1m13 0h1M15 18h1m5 0h1m20 0h1m9 0h1m55 0h1M155 19h1M56 20h1m20 0h1m35 0h1m5 0h1m35 0h1M30 21h1m31 0h1m35 0h1m3 0h1M70 22h1m15 0h2m6 0h1m8 0h2M7 25h1M35 27h1"/>
<path stroke="#bddf26" d="M12 8h1M12 10h1m110 0h1M51 13h1M150 14h1M28 16h1m76 0h1m2 0h1m12 0h1M13 17h1m48 0h1m54 0h1M22 18h1M17 19h1M18 20h1m8 0h1m16 0h1m12 0h1m12 0h1m1 0h2m6 0h1m8 0h2m1 0h1m4 0h1m5 0h2M11 21h1m7 0h1m5 0h1m22 0h1m25 0h1m2 0h1m5 0h1m12 0h1M19 22h1m16 0h2m1 0h1m7 0h1m1 0h1m2 0h1m19 0h1m17 0h2m5 0h1m4 0h1"/>
<path stroke="#cde11d" d="M12 1h1M135 8h1M38 10h1M68 11h1M140 12h1M105 13h1m3 0h2M59 14h1M69 15h1m47 0h1M11 17h1m2 0h2m53 0h1m15 0h1M48 18h1m2 0h1m7 0h1m50 0h2M20 19h1M45 20h1m7 0h1m8 0h1m8 0h1m15 0h1M18 21h1m1 0h1m13 0h1m2 0h1m6 0h1m2 0h1m5 0h1m7 0h1m28 0h1m8 0h1M24 22h1m4 0h1m27 0h1m3 0h1m12 0h1M7 23h1M6 25h1"/>
<path stroke="#dfe318" d="M95 9h1M140 11h1M135 12h1M33 13h1m49 0h1m23 0h1m3 0h1M42 15h1m33 0h1M78 16h1m7 0h1m2 0h1M48 17h1m57 0h1m12 0h1M11 18h1m21 0h1m121 0h1M8 20h1m40 0h1m5 0h1m5 0h1m17 0h1m11 0h1m2 0h1m5 0h1M5 21h1m30 0h1m42 0h1m7 0h1m15 0h1M28 22h1m1 0h1m3 0h1m11 0h1m7 0h1m7 0h1m17 0h1"/>
<path stroke="#efe51c" d="M135 11h1M48 13h1m40 0h1M42 14h1m5 0h1m68 0h1m37 0h1M59 15h1m95 0h1M39 16h1m17 0h1m8 0h1m14 0h1m5 0h1m62 0h1m4 0h1M16 17h1m92 0h1m5 0h1m39 0h1M20 18h1m2 0h1M24 20h1m4 0h2m57 0h1m13 0h1M28 21h1m16 0h1m3 0h1m14 0h1m7 0h1m3 0h1m20 0h1m6 0h1M43 22h1m44 0h1M6 23h1"/>
<path stroke="#fde725" d="M5 0h7m1 0h18m2 0h62m1 0h16m1 0h1m1 0h1m1 0h1m1 0h1m1 0h1m1 0h1m1 0h1m4 0h1m4 0h1m4 0h1m4 0h1m4 0h1m4 0h1M5 1h7m1 0h19m1 0h25m1 0h9m1 0h43m1 0h1m1 0h1m1 0h1m1 0h1m1 0h1m1 0h1m1 0h1m4 0h1m4 0h1m4 0h1m4 0h1m4 0h1m4 0h1M5 2h7m1 0h45m1 0h53m1 0h1m1 0h1m1 0h1m1 0h1m1 0h1m1 0h1m1 0h1m4 0h1m4 0h1m4 0h1m4 0h1m4 0h1m4 0h1M5 3h7m1 0h18m1 0h26m1 0h53m1 0h1m1 0h1m1 0h1m1 0h1m1 0h1m1 0h1m1 0h1m4 0h1m4 0h1m9 0h1m4 0h1m4 0h1M5 4h107m1 0h1m1 0h1m1 0h1m1 0h1m1 0h1m1 0h1m1 0h1m4 0h1m4 0h1m4 0h1m4 0h1m4 0h1m4 0h1M5 5h107m1 0h1m1 0h1m1 0h1m1 0h1m1 0h1m1 0h1m1 0h1m4 0h1m4 0h1m4 0h1m4 0h1m4 0h1m4 0h1M5 6h107m1 0h1m1 0h1m1 0h1m1 0h1m1 0h1m1 0h1m1 0h1m4 0h1m4 0h1m4 0h1m4 0h1m4 0h1m4 0h1M5 7h7m1 0h13m1 0h4m2 0h5m1 0h19m1 0h9m1 0h43m1 0h1m1 0h1m1 0h1m1 0h1m1 0h1m1 0h1m1 0h1m4 0h1m9 0h1m4 0h1m4 0h1m4 0h1M5 8h7m1 0h18m2 0h5m1 0h19m1 0h9m1 0h6m1 0h19m1 0h16m1 0h1m1 0h1m1 0h1m1 0h1m1 0h1m1 0h1m1 0h1m24 0h1m4 0h1M5 9h21m1 0h31m1 0h36m1 0h16m1 0h1m1 0h1m1 0h1m1 0h1m1 0h1m1 0h1m1 0h1m4 0h1m4 0h1m4 0h1m4 0h1m4 0h1m4 0h1M5 10h7m1 0h18m2 0h5m1 0h19m1 0h9m1 0h6m1 0h19m1 0h16m1 0h1m1 0h1m1 0h1m1 0h1m1 0h1m3 0h1m24 0h1m4 0h1M5 11h21m1 0h4m2 0h25m1 0h9m1 0h43m1 0h1m1 0h1m1 0h1m1 0h1m1 0h1m1 0h1m1 0h1m24 0h1m4 0h1M5 12h26m2 0h5m1 0h19m1 0h9m1 0h26m1 0h16m1 0h1m1 0h1m3 0h1m1 0h1m1 0h1m1 0h1m24 0h1m4 0h1M5 13h7m1 0h10m1 0h2m1 0h4m3 0h4m1 0h3m1 0h5m1 0h2m1 0h6m2 0h5m1 0h2m2 0h5m1 0h7m3 0h3m1 0h5m1 0h5m1 0h3m3 0h1m4 0h1m3 0h1m32 0h1M5 14h7m1 0h13m1 0h4m2 0h5m1 0h3m1 0h5m1 0h9m2 0h5m1 0h2m1 0h6m1 0h8m2 0h9m1 0h16m3 0h1M5 15h6m2 0h13m1 0h4m2 0h5m1 0h3m1 0h15m2 0h5m1 0h2m2 0h5m2 0h7m2 0h9m1 0h11m1 0h4m1 0h1m1 0h1m3 0h1m1 0h1m28 0h1M5 16h7m1 0h13m1 0h1m1 0h1m4 0h4m2 0h2m1 0h1m1 0h3m2 0h1m1 0h5m3 0h5m2 0h1m2 0h3m1 0h1m1 0h2m1 0h2m1 0h2m4 0h1m1 0h5m1 0h5m1 0h3m4 0h1m3 0h1m1 0h1m3 0h1M5 17h4m1 0h1m6 0h4m1 0h4m1 0h4m3 0h4m1 0h3m1 0h5m1 0h9m2 0h2m1 0h2m1 0h2m2 0h5m1 0h8m2 0h9m1 0h10m2 0h1m1 0h2m1 0h1M5 18h3m2 0h1m6 0h3m4 0h2m1 0h4m3 0h4m1 0h3m1 0h5m1 0h2m2 0h4m3 0h4m2 0h2m2 0h5m1 0h8m2 0h9m1 0h5m1 0h4m1 0h1m5 0h1m1 0h1m1 0h1m1 0h1M5 19h4m1 0h1m8 0h1M5 20h3m2 0h1m9 0h1m4 0h1m2 0h1m5 0h4m1 0h3m1 0h1m2 0h2m2 0h1m1 0h1m7 0h1m3 0h1m28 0h1m2 0h1m18 0h1M6 21h3m1 0h1m13 0h1m2 0h1m1 0h1m5 0h1m3 0h3m1 0h1m2 0h1m3 0h1m1 0h1m2 0h1m4 0h1m2 0h1m2 0h1m3 0h2m8 0h1m5 0h1m1 0h1m4 0h1m6 0h1M6 22h3m16 0h1m1 0h1m7 0h1m4 0h2m8 0h1m9 0h1m2 0h2m6 0h1m5 0h1m15 0h1M6 24h2"/>
</g></g>
<rect x="1017" y="86" width="35" height="736" fill="url(#vg)"/>
<g shape-rendering="crispEdges">
<rect x="97" y="85" width="1" height="738" fill="#000" fill-opacity="0.055"/>
<rect x="99" y="86" width="1" height="736" fill="#000" fill-opacity="0.055"/>
<rect x="961" y="86" width="1" height="736" fill="#000" fill-opacity="0.055"/>
<rect x="963" y="85" width="1" height="738" fill="#000" fill-opacity="0.055"/>
<rect x="98" y="84" width="865" height="1" fill="#000" fill-opacity="0.055"/>
<rect x="99" y="86" width="863" height="1" fill="#000" fill-opacity="0.055"/>
<rect x="99" y="821" width="863" height="1" fill="#000" fill-opacity="0.055"/>
<rect x="98" y="823" width="865" height="1" fill="#000" fill-opacity="0.055"/>
<rect x="98" y="85" width="1" height="738" fill="#000" fill-opacity="1"/>
<rect x="962" y="85" width="1" height="738" fill="#000" fill-opacity="1"/>
<rect x="98" y="85" width="865" height="1" fill="#000" fill-opacity="1"/>
<rect x="98" y="822" width="865" height="1" fill="#000" fill-opacity="1"/>
<rect x="1015" y="85" width="1" height="738" fill="#000" fill-opacity="0.055"/>
<rect x="1017" y="86" width="1" height="736" fill="#000" fill-opacity="0.055"/>
<rect x="1051" y="86" width="1" height="736" fill="#000" fill-opacity="0.055"/>
<rect x="1053" y="85" width="1" height="738" fill="#000" fill-opacity="0.055"/>
<rect x="1016" y="84" width="37" height="1" fill="#000" fill-opacity="0.055"/>
<rect x="1017" y="86" width="35" height="1" fill="#000" fill-opacity="0.055"/>
<rect x="1017" y="821" width="35" height="1" fill="#000" fill-opacity="0.055"/>
<rect x="1016" y="823" width="37" height="1" fill="#000" fill-opacity="0.055"/>
<rect x="1016" y="85" width="1" height="738" fill="#000" fill-opacity="1"/>
<rect x="1052" y="85" width="1" height="738" fill="#000" fill-opacity="1"/>
<rect x="1016" y="85" width="37" height="1" fill="#000" fill-opacity="1"/>
<rect x="1016" y="822" width="37" height="1" fill="#000" fill-opacity="1"/>
<rect x="179" y="823" width="1" height="4" fill="#000" fill-opacity="1"/>
<rect x="179" y="827" width="1" height="1" fill="#000" fill-opacity="0.5"/>
<rect x="178" y="823" width="1" height="4" fill="#000" fill-opacity="0.055"/>
<rect x="180" y="823" width="1" height="4" fill="#000" fill-opacity="0.055"/>
<rect x="287" y="823" width="1" height="4" fill="#000" fill-opacity="1"/>
<rect x="287" y="827" width="1" height="1" fill="#000" fill-opacity="0.5"/>
<rect x="286" y="823" width="1" height="4" fill="#000" fill-opacity="0.055"/>
<rect x="288" y="823" width="1" height="4" fill="#000" fill-opacity="0.055"/>
<rect x="395" y="823" width="1" height="4" fill="#000" fill-opacity="1"/>
<rect x="395" y="827" width="1" height="1" fill="#000" fill-opacity="0.5"/>
<rect x="394" y="823" width="1" height="4" fill="#000" fill-opacity="0.055"/>
<rect x="396" y="823" width="1" height="4" fill="#000" fill-opacity="0.055"/>
<rect x="503" y="823" width="1" height="4" fill="#000" fill-opacity="1"/>
<rect x="503" y="827" width="1" height="1" fill="#000" fill-opacity="0.5"/>
<rect x="502" y="823" width="1" height="4" fill="#000" fill-opacity="0.055"/>
<rect x="504" y="823" width="1" height="4" fill="#000" fill-opacity="0.055"/>
<rect x="611" y="823" width="1" height="4" fill="#000" fill-opacity="1"/>
<rect x="611" y="827" width="1" height="1" fill="#000" fill-opacity="0.5"/>
<rect x="610" y="823" width="1" height="4" fill="#000" fill-opacity="0.055"/>
<rect x="612" y="823" width="1" height="4" fill="#000" fill-opacity="0.055"/>
<rect x="719" y="823" width="1" height="4" fill="#000" fill-opacity="1"/>
<rect x="719" y="827" width="1" height="1" fill="#000" fill-opacity="0.5"/>
<rect x="718" y="823" width="1" height="4" fill="#000" fill-opacity="0.055"/>
<rect x="720" y="823" width="1" height="4" fill="#000" fill-opacity="0.055"/>
<rect x="827" y="823" width="1" height="4" fill="#000" fill-opacity="1"/>
<rect x="827" y="827" width="1" height="1" fill="#000" fill-opacity="0.5"/>
<rect x="826" y="823" width="1" height="4" fill="#000" fill-opacity="0.055"/>
<rect x="828" y="823" width="1" height="4" fill="#000" fill-opacity="0.055"/>
<rect x="935" y="823" width="1" height="4" fill="#000" fill-opacity="1"/>
<rect x="935" y="827" width="1" height="1" fill="#000" fill-opacity="0.5"/>
<rect x="934" y="823" width="1" height="4" fill="#000" fill-opacity="0.055"/>
<rect x="936" y="823" width="1" height="4" fill="#000" fill-opacity="0.055"/>
<rect x="94" y="810" width="4" height="1" fill="#000" fill-opacity="1"/>
<rect x="93" y="810" width="1" height="1" fill="#000" fill-opacity="0.5"/>
<rect x="94" y="809" width="4" height="1" fill="#000" fill-opacity="0.055"/>
<rect x="94" y="811" width="4" height="1" fill="#000" fill-opacity="0.055"/>
<rect x="94" y="689" width="4" height="1" fill="#000" fill-opacity="1"/>
<rect x="93" y="689" width="1" height="1" fill="#000" fill-opacity="0.5"/>
<rect x="94" y="688" width="4" height="1" fill="#000" fill-opacity="0.055"/>
<rect x="94" y="690" width="4" height="1" fill="#000" fill-opacity="0.055"/>
<rect x="94" y="569" width="4" height="1" fill="#000" fill-opacity="1"/>
<rect x="93" y="569" width="1" height="1" fill="#000" fill-opacity="0.5"/>
<rect x="94" y="568" width="4" height="1" fill="#000" fill-opacity="0.055"/>
<rect x="94" y="570" width="4" height="1" fill="#000" fill-opacity="0.055"/>
<rect x="94" y="448" width="4" height="1" fill="#000" fill-opacity="1"/>
<rect x="93" y="448" width="1" height="1" fill="#000" fill-opacity="0.5"/>
<rect x="94" y="447" width="4" height="1" fill="#000" fill-opacity="0.055"/>
<rect x="94" y="449" width="4" height="1" fill="#000" fill-opacity="0.055"/>
<rect x="94" y="327" width="4" height="1" fill="#000" fill-opacity="1"/>
<rect x="93" y="327" width="1" height="1" fill="#000" fill-opacity="0.5"/>
<rect x="94" y="326" width="4" height="1" fill="#000" fill-opacity="0.055"/>
<rect x="94" y="328" width="4" height="1" fill="#000" fill-opacity="0.055"/>
<rect x="94" y="206" width="4" height="1" fill="#000" fill-opacity="1"/>
<rect x="93" y="206" width="1" height="1" fill="#000" fill-opacity="0.5"/>
<rect x="94" y="205" width="4" height="1" fill="#000" fill-opacity="0.055"/>
<rect x="94" y="207" width="4" height="1" fill="#000" fill-opacity="0.055"/>
<rect x="94" y="85" width="4" height="1" fill="#000" fill-opacity="1"/>
<rect x="93" y="85" width="1" height="1" fill="#000" fill-opacity="0.5"/>
<rect x="94" y="84" width="4" height="1" fill="#000" fill-opacity="0.055"/>
<rect x="94" y="86" width="4" height="1" fill="#000" fill-opacity="0.055"/>
<rect x="1053" y="822" width="4" height="1" fill="#000" fill-opacity="1"/>
<rect x="1057" y="822" width="1" height="1" fill="#000" fill-opacity="0.5"/>
<rect x="1053" y="821" width="4" height="1" fill="#000" fill-opacity="0.055"/>
<rect x="1053" y="823" width="4" height="1" fill="#000" fill-opacity="0.055"/>
<rect x="1053" y="699" width="4" height="1" fill="#000" fill-opacity="1"/>
<rect x="1057" y="699" width="1" height="1" fill="#000" fill-opacity="0.5"/>
<rect x="1053" y="698" width="4" height="1" fill="#000" fill-opacity="0.055"/>
<rect x="1053" y="700" width="4" height="1" fill="#000" fill-opacity="0.055"/>
<rect x="1053" y="577" width="4" height="1" fill="#000" fill-opacity="1"/>
<rect x="1057" y="577" width="1" height="1" fill="#000" fill-opacity="0.5"/>
<rect x="1053" y="576" width="4" height="1" fill="#000" fill-opacity="0.055"/>
<rect x="1053" y="578" width="4" height="1" fill="#000" fill-opacity="0.055"/>
<rect x="1053" y="454" width="4" height="1" fill="#000" fill-opacity="1"/>
<rect x="1057" y="454" width="1" height="1" fill="#000" fill-opacity="0.5"/>
<rect x="1053" y="453" width="4" height="1" fill="#000" fill-opacity="0.055"/>
<rect x="1053" y="455" width="4" height="1" fill="#000" fill-opacity="0.055"/>
<rect x="1053" y="331" width="4" height="1" fill="#000" fill-opacity="1"/>
<rect x="1057" y="331" width="1" height="1" fill="#000" fill-opacity="0.5"/>
<rect x="1053" y="330" width="4" height="1" fill="#000" fill-opacity="0.055"/>
<rect x="1053" y="332" width="4" height="1" fill="#000" fill-opacity="0.055"/>
<rect x="1053" y="208" width="4" height="1" fill="#000" fill-opacity="1"/>
<rect x="1057" y="208" width="1" height="1" fill="#000" fill-opacity="0.5"/>
<rect x="1053" y="207" width="4" height="1" fill="#000" fill-opacity="0.055"/>
<rect x="1053" y="209" width="4" height="1" fill="#000" fill-opacity="0.055"/>
<rect x="1053" y="85" width="4" height="1" fill="#000" fill-opacity="1"/>
<rect x="1057" y="85" width="1" height="1" fill="#000" fill-opacity="0.5"/>
<rect x="1053" y="84" width="4" height="1" fill="#000" fill-opacity="0.055"/>
<rect x="1053" y="86" width="4" height="1" fill="#000" fill-opacity="0.055"/>
</g>
<text class="ti" x="158.9 167.15 186.4 202.4 211.53 229.78 237.28 249.03 266.4 284.03 301.03 309.9 318.15 335.03 352.65 369.53 384.03 400.9 418.53 436.15 453.15 462.28 480.53 488.53 506.15 523.78 541.4 550.53 567.9 585.65 603.53 620.9 630.9 648.78 666.15 676.15 693.9 711.65 720.78 738.53 755.9 765.28 782.9 800.78 809.9 827.65 845.4 854.28 863.15 883.4" y="44" xml:space="preserve">IRF Kiruna Ionosonde KI167 2025-12-30 05:11:00  UT</text>
<text class="ti" x="233.09 250.47 267.59 275.34 289.84 306.84 320.47 330.47 337.97 355.09 371.72 383.47 406.84 416.84 434.47 452.09 469.84 478.72 496.47 513.59 522.72 533.47 551.34 570.22 580.72 590.09 607.47 624.47 641.47 657.22 666.59 683.97 704.97 724.22 747.59 765.34 782.97 791.84 809.22" y="77" xml:space="preserve">noise_floor=-120.95 (dB) peak SNR=98.17</text>
<text class="t" x="442.09 452.59 460.47 473.59 486.84 499.72 512.84 525.72 537.22 549.84 556.22 564.59 582.22 598.09 608.97" y="874" xml:space="preserve">Frequency (MHz)</text>
<text class="t" x="173.03" y="848" xml:space="preserve">2</text>
<text class="t" x="280.03" y="848" xml:space="preserve">4</text>
<text class="t" x="387.97" y="848" xml:space="preserve">6</text>
<text class="t" x="496.09" y="848" xml:space="preserve">8</text>
<text class="t" x="597.9 610.15" y="848" xml:space="preserve">10</text>
<text class="t" x="705.9 718.15" y="848" xml:space="preserve">12</text>
<text class="t" x="813.9 826.15" y="848" xml:space="preserve">14</text>
<text class="t" x="922.09 934.34" y="848" xml:space="preserve">16</text>
<text class="t" x="74.93" y="818" xml:space="preserve">0</text>
<text class="t" x="47.93 60.18 73.43" y="697" xml:space="preserve">100</text>
<text class="t" x="48.93 61.18 74.43" y="577" xml:space="preserve">200</text>
<text class="t" x="48.93 61.18 74.43" y="456" xml:space="preserve">300</text>
<text class="t" x="47.93 61.18 74.43" y="335" xml:space="preserve">400</text>
<text class="t" x="48.93 61.18 74.43" y="214" xml:space="preserve">500</text>
<text class="t" x="49.06 61.43 74.68" y="93" xml:space="preserve">600</text>
<text class="t" x="1062.09" y="830" xml:space="preserve">0</text>
<text class="t" x="1063.09" y="707" xml:space="preserve">5</text>
<text class="t" x="1062.09 1074.34" y="585" xml:space="preserve">10</text>
<text class="t" x="1062.09 1074.34" y="462" xml:space="preserve">15</text>
<text class="t" x="1063.09 1075.34" y="339" xml:space="preserve">20</text>
<text class="t" x="1063.09 1075.34" y="216" xml:space="preserve">25</text>
<text class="t" x="1063.09 1075.34" y="93" xml:space="preserve">30</text>
<text class="t" transform="translate(37.70 454.73) rotate(-90)" text-anchor="middle">Virtual range (km)</text>
<text class="t" transform="translate(1108.55 454.23) rotate(-90)" text-anchor="middle">SNR (dB)</text>
</svg></body></html>
